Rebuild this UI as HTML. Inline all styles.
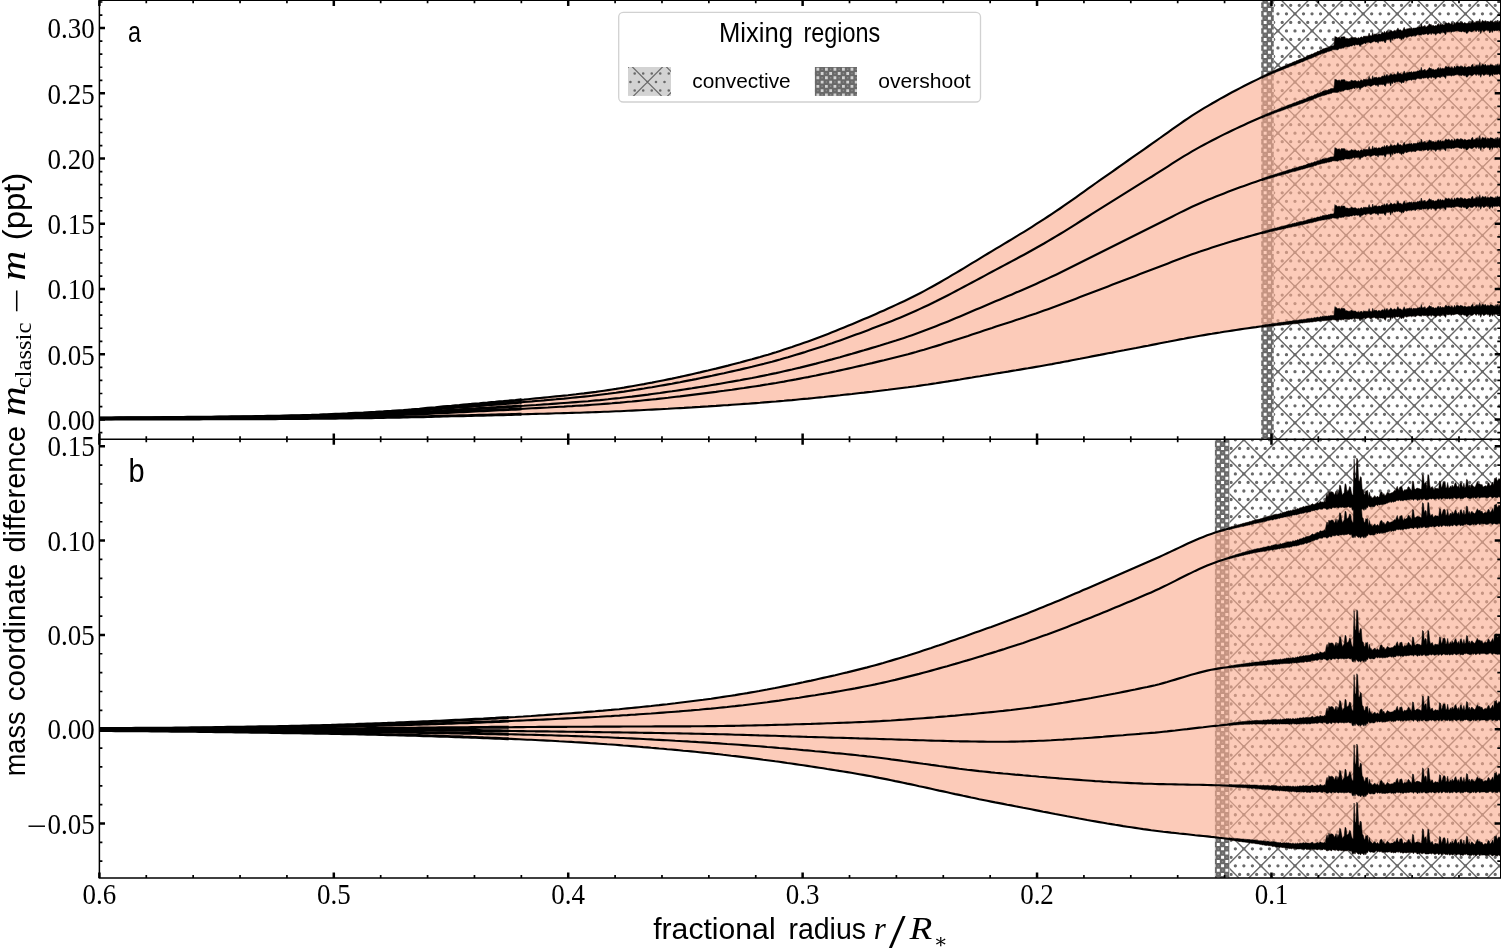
<!DOCTYPE html>
<html lang="en"><head><meta charset="utf-8"><title>Mixing regions</title>
<style>html,body{margin:0;padding:0;background:#fff}svg{display:block}</style></head>
<body>
<svg width="1501" height="948" viewBox="0 0 1501 948">
<defs>
<clipPath id="ct"><rect x="99.4" y="0.3" width="1400.8999999999999" height="438.9"/></clipPath>
<clipPath id="cb"><rect x="99.4" y="439.2" width="1400.8999999999999" height="438.90000000000003"/></clipPath>
</defs>
<rect width="1501" height="948" fill="#fff"/>
<clipPath id="ot"><rect x="1261.1" y="0.3" width="12.8" height="438.9"/></clipPath>
<g clip-path="url(#ot)">
<rect x="1261.1" y="0.3" width="12.8" height="438.9" fill="#696969"/>
<path d="M1250.89,-7.43H1283.9M1246.63,-3.17H1283.9M1250.89,1.09H1283.9M1246.63,5.35H1283.9M1250.89,9.61H1283.9M1246.63,13.87H1283.9M1250.89,18.13H1283.9M1246.63,22.39H1283.9M1250.89,26.65H1283.9M1246.63,30.91H1283.9M1250.89,35.17H1283.9M1246.63,39.43H1283.9M1250.89,43.69H1283.9M1246.63,47.95H1283.9M1250.89,52.21H1283.9M1246.63,56.47H1283.9M1250.89,60.73H1283.9M1246.63,64.99H1283.9M1250.89,69.25H1283.9M1246.63,73.51H1283.9M1250.89,77.77H1283.9M1246.63,82.03H1283.9M1250.89,86.29H1283.9M1246.63,90.55H1283.9M1250.89,94.81H1283.9M1246.63,99.07H1283.9M1250.89,103.33H1283.9M1246.63,107.59H1283.9M1250.89,111.85H1283.9M1246.63,116.11H1283.9M1250.89,120.37H1283.9M1246.63,124.63H1283.9M1250.89,128.89H1283.9M1246.63,133.15H1283.9M1250.89,137.41H1283.9M1246.63,141.67H1283.9M1250.89,145.93H1283.9M1246.63,150.19H1283.9M1250.89,154.45H1283.9M1246.63,158.71H1283.9M1250.89,162.97H1283.9M1246.63,167.23H1283.9M1250.89,171.49H1283.9M1246.63,175.75H1283.9M1250.89,180.01H1283.9M1246.63,184.27H1283.9M1250.89,188.53H1283.9M1246.63,192.79H1283.9M1250.89,197.05H1283.9M1246.63,201.31H1283.9M1250.89,205.57H1283.9M1246.63,209.83H1283.9M1250.89,214.09H1283.9M1246.63,218.35H1283.9M1250.89,222.61H1283.9M1246.63,226.87H1283.9M1250.89,231.13H1283.9M1246.63,235.39H1283.9M1250.89,239.65H1283.9M1246.63,243.91H1283.9M1250.89,248.17H1283.9M1246.63,252.43H1283.9M1250.89,256.69H1283.9M1246.63,260.95H1283.9M1250.89,265.21H1283.9M1246.63,269.47H1283.9M1250.89,273.73H1283.9M1246.63,277.99H1283.9M1250.89,282.25H1283.9M1246.63,286.51H1283.9M1250.89,290.77H1283.9M1246.63,295.03H1283.9M1250.89,299.29H1283.9M1246.63,303.55H1283.9M1250.89,307.81H1283.9M1246.63,312.07H1283.9M1250.89,316.33H1283.9M1246.63,320.59H1283.9M1250.89,324.85H1283.9M1246.63,329.11H1283.9M1250.89,333.37H1283.9M1246.63,337.63H1283.9M1250.89,341.89H1283.9M1246.63,346.15H1283.9M1250.89,350.41H1283.9M1246.63,354.67H1283.9M1250.89,358.93H1283.9M1246.63,363.19H1283.9M1250.89,367.45H1283.9M1246.63,371.71H1283.9M1250.89,375.97H1283.9M1246.63,380.23H1283.9M1250.89,384.49H1283.9M1246.63,388.75H1283.9M1250.89,393.01H1283.9M1246.63,397.27H1283.9M1250.89,401.53H1283.9M1246.63,405.79H1283.9M1250.89,410.05H1283.9M1246.63,414.31H1283.9M1250.89,418.57H1283.9M1246.63,422.83H1283.9M1250.89,427.09H1283.9M1246.63,431.35H1283.9M1250.89,435.61H1283.9M1246.63,439.87H1283.9M1250.89,444.13H1283.9" stroke="#fff" stroke-width="3.0" stroke-dasharray="3.0 5.52" fill="none"/>
<path d="M1247.43,-7.43H1283.9M1251.69,-3.17H1283.9M1247.43,1.09H1283.9M1251.69,5.35H1283.9M1247.43,9.61H1283.9M1251.69,13.87H1283.9M1247.43,18.13H1283.9M1251.69,22.39H1283.9M1247.43,26.65H1283.9M1251.69,30.91H1283.9M1247.43,35.17H1283.9M1251.69,39.43H1283.9M1247.43,43.69H1283.9M1251.69,47.95H1283.9M1247.43,52.21H1283.9M1251.69,56.47H1283.9M1247.43,60.73H1283.9M1251.69,64.99H1283.9M1247.43,69.25H1283.9M1251.69,73.51H1283.9M1247.43,77.77H1283.9M1251.69,82.03H1283.9M1247.43,86.29H1283.9M1251.69,90.55H1283.9M1247.43,94.81H1283.9M1251.69,99.07H1283.9M1247.43,103.33H1283.9M1251.69,107.59H1283.9M1247.43,111.85H1283.9M1251.69,116.11H1283.9M1247.43,120.37H1283.9M1251.69,124.63H1283.9M1247.43,128.89H1283.9M1251.69,133.15H1283.9M1247.43,137.41H1283.9M1251.69,141.67H1283.9M1247.43,145.93H1283.9M1251.69,150.19H1283.9M1247.43,154.45H1283.9M1251.69,158.71H1283.9M1247.43,162.97H1283.9M1251.69,167.23H1283.9M1247.43,171.49H1283.9M1251.69,175.75H1283.9M1247.43,180.01H1283.9M1251.69,184.27H1283.9M1247.43,188.53H1283.9M1251.69,192.79H1283.9M1247.43,197.05H1283.9M1251.69,201.31H1283.9M1247.43,205.57H1283.9M1251.69,209.83H1283.9M1247.43,214.09H1283.9M1251.69,218.35H1283.9M1247.43,222.61H1283.9M1251.69,226.87H1283.9M1247.43,231.13H1283.9M1251.69,235.39H1283.9M1247.43,239.65H1283.9M1251.69,243.91H1283.9M1247.43,248.17H1283.9M1251.69,252.43H1283.9M1247.43,256.69H1283.9M1251.69,260.95H1283.9M1247.43,265.21H1283.9M1251.69,269.47H1283.9M1247.43,273.73H1283.9M1251.69,277.99H1283.9M1247.43,282.25H1283.9M1251.69,286.51H1283.9M1247.43,290.77H1283.9M1251.69,295.03H1283.9M1247.43,299.29H1283.9M1251.69,303.55H1283.9M1247.43,307.81H1283.9M1251.69,312.07H1283.9M1247.43,316.33H1283.9M1251.69,320.59H1283.9M1247.43,324.85H1283.9M1251.69,329.11H1283.9M1247.43,333.37H1283.9M1251.69,337.63H1283.9M1247.43,341.89H1283.9M1251.69,346.15H1283.9M1247.43,350.41H1283.9M1251.69,354.67H1283.9M1247.43,358.93H1283.9M1251.69,363.19H1283.9M1247.43,367.45H1283.9M1251.69,371.71H1283.9M1247.43,375.97H1283.9M1251.69,380.23H1283.9M1247.43,384.49H1283.9M1251.69,388.75H1283.9M1247.43,393.01H1283.9M1251.69,397.27H1283.9M1247.43,401.53H1283.9M1251.69,405.79H1283.9M1247.43,410.05H1283.9M1251.69,414.31H1283.9M1247.43,418.57H1283.9M1251.69,422.83H1283.9M1247.43,427.09H1283.9M1251.69,431.35H1283.9M1247.43,435.61H1283.9M1251.69,439.87H1283.9M1247.43,444.13H1283.9" stroke="#fff" stroke-opacity="0.22" stroke-width="1.4" stroke-dasharray="1.4 7.119999999999999" fill="none"/>
</g>
<clipPath id="ht"><rect x="1273.9" y="0.3" width="226.4" height="438.9"/></clipPath>
<g clip-path="url(#ht)" stroke="#696969" fill="none">
<path d="M1265.17,-11.69H1510.3M1260.91,-3.17H1510.3M1265.17,5.35H1510.3M1260.91,13.87H1510.3M1265.17,22.39H1510.3M1260.91,30.91H1510.3M1265.17,39.43H1510.3M1260.91,47.95H1510.3M1265.17,56.47H1510.3M1260.91,64.99H1510.3M1265.17,73.51H1510.3M1260.91,82.03H1510.3M1265.17,90.55H1510.3M1260.91,99.07H1510.3M1265.17,107.59H1510.3M1260.91,116.11H1510.3M1265.17,124.63H1510.3M1260.91,133.15H1510.3M1265.17,141.67H1510.3M1260.91,150.19H1510.3M1265.17,158.71H1510.3M1260.91,167.23H1510.3M1265.17,175.75H1510.3M1260.91,184.27H1510.3M1265.17,192.79H1510.3M1260.91,201.31H1510.3M1265.17,209.83H1510.3M1260.91,218.35H1510.3M1265.17,226.87H1510.3M1260.91,235.39H1510.3M1265.17,243.91H1510.3M1260.91,252.43H1510.3M1265.17,260.95H1510.3M1260.91,269.47H1510.3M1265.17,277.99H1510.3M1260.91,286.51H1510.3M1265.17,295.03H1510.3M1260.91,303.55H1510.3M1265.17,312.07H1510.3M1260.91,320.59H1510.3M1265.17,329.11H1510.3M1260.91,337.63H1510.3M1265.17,346.15H1510.3M1260.91,354.67H1510.3M1265.17,363.19H1510.3M1260.91,371.71H1510.3M1265.17,380.23H1510.3M1260.91,388.75H1510.3M1265.17,397.27H1510.3M1260.91,405.79H1510.3M1265.17,414.31H1510.3M1260.91,422.83H1510.3M1265.17,431.35H1510.3M1260.91,439.87H1510.3M1265.17,448.39H1510.3" stroke-width="3.3" stroke-linecap="round" stroke-dasharray="0 8.52"/>
<path d="M1268.9,-284.86L1505.3,-48.46M1268.9,-250.78L1505.3,-14.38M1268.9,-216.70L1505.3,19.70M1268.9,-182.62L1505.3,53.78M1268.9,-148.54L1505.3,87.86M1268.9,-114.46L1505.3,121.94M1268.9,-80.38L1505.3,156.02M1268.9,-46.30L1505.3,190.10M1268.9,-12.22L1505.3,224.18M1268.9,21.86L1505.3,258.26M1268.9,55.94L1505.3,292.34M1268.9,90.02L1505.3,326.42M1268.9,124.10L1505.3,360.50M1268.9,158.18L1505.3,394.58M1268.9,192.26L1505.3,428.66M1268.9,226.34L1505.3,462.74M1268.9,260.42L1505.3,496.82M1268.9,294.50L1505.3,530.90M1268.9,328.58L1505.3,564.98M1268.9,362.66L1505.3,599.06M1268.9,396.74L1505.3,633.14M1268.9,430.82L1505.3,667.22M1268.9,464.90L1505.3,701.30M1268.9,498.98L1505.3,735.38M1268.9,-62.28L1505.3,-298.68M1268.9,-28.20L1505.3,-264.60M1268.9,5.88L1505.3,-230.52M1268.9,39.96L1505.3,-196.44M1268.9,74.04L1505.3,-162.36M1268.9,108.12L1505.3,-128.28M1268.9,142.20L1505.3,-94.20M1268.9,176.28L1505.3,-60.12M1268.9,210.36L1505.3,-26.04M1268.9,244.44L1505.3,8.04M1268.9,278.52L1505.3,42.12M1268.9,312.60L1505.3,76.20M1268.9,346.68L1505.3,110.28M1268.9,380.76L1505.3,144.36M1268.9,414.84L1505.3,178.44M1268.9,448.92L1505.3,212.52M1268.9,483.00L1505.3,246.60M1268.9,517.08L1505.3,280.68M1268.9,551.16L1505.3,314.76M1268.9,585.24L1505.3,348.84M1268.9,619.32L1505.3,382.92M1268.9,653.40L1505.3,417.00M1268.9,687.48L1505.3,451.08M1268.9,721.56L1505.3,485.16" stroke-width="1.4"/>
</g>
<g clip-path="url(#ct)">
<path d="M99.4,417.9 L103.4,417.9 L107.4,417.9 L111.4,417.9 L115.4,417.8 L119.4,417.8 L123.4,417.8 L127.4,417.8 L131.4,417.8 L135.4,417.7 L139.4,417.7 L143.4,417.7 L147.4,417.7 L151.4,417.6 L155.4,417.6 L159.4,417.6 L163.4,417.5 L167.4,417.5 L171.4,417.5 L175.4,417.4 L179.4,417.4 L183.4,417.4 L187.4,417.3 L191.4,417.3 L195.4,417.2 L199.4,417.2 L203.4,417.2 L207.4,417.1 L211.4,417.1 L215.4,417 L219.4,417 L223.4,416.9 L227.4,416.9 L231.4,416.8 L235.4,416.8 L239.4,416.7 L243.4,416.7 L247.4,416.6 L251.4,416.6 L255.4,416.5 L259.4,416.4 L263.4,416.4 L267.4,416.3 L271.4,416.2 L275.4,416.1 L279.4,416.1 L283.4,416 L287.4,415.9 L291.4,415.8 L295.4,415.7 L299.4,415.6 L303.4,415.5 L307.4,415.4 L311.4,415.3 L315.4,415.1 L319.4,415 L323.4,414.8 L327.4,414.7 L331.4,414.5 L335.4,414.3 L339.4,414.2 L343.4,414 L347.4,413.8 L351.4,413.5 L355.4,413.3 L359.4,413.1 L363.4,412.9 L367.4,412.6 L371.4,412.4 L375.4,412.2 L379.4,411.9 L383.4,411.7 L387.4,411.4 L391.4,411.2 L395.4,410.9 L399.4,410.6 L403.4,410.4 L407.4,410.1 L411.4,409.8 L415.4,409.4 L419.4,409.1 L423.4,408.7 L427.4,408.3 L431.4,407.9 L435.4,407.6 L439.4,407.2 L443.4,406.8 L447.4,406.4 L451.4,406.1 L455.4,405.7 L459.4,405.4 L463.4,405 L467.4,404.6 L471.4,404.3 L475.4,403.9 L479.4,403.6 L483.4,403.2 L487.4,402.9 L491.4,402.5 L495.4,402.2 L499.4,401.8 L503.4,401.5 L507.4,401.1 L511.4,400.7 L515.4,400.4 L519.4,400 L521.5,399.8 L524,399.6 L528,399.2 L532,398.8 L536,398.4 L540,398 L544,397.6 L548,397.2 L552,396.8 L556,396.4 L560,396 L564,395.6 L568,395.2 L572,394.7 L576,394.3 L580,393.8 L584,393.4 L588,392.9 L592,392.4 L596,391.9 L600,391.3 L604,390.7 L608,390.1 L612,389.5 L616,388.9 L620,388.2 L624,387.6 L628,386.9 L632,386.2 L636,385.5 L640,384.8 L644,384.1 L648,383.3 L652,382.6 L656,381.8 L660,381 L664,380.2 L668,379.4 L672,378.6 L676,377.7 L680,376.9 L684,376 L688,375.1 L692,374.2 L696,373.3 L700,372.4 L704,371.4 L708,370.5 L712,369.5 L716,368.6 L720,367.6 L724,366.6 L728,365.6 L732,364.5 L736,363.5 L740,362.5 L744,361.4 L748,360.3 L752,359.3 L756,358.1 L760,357 L764,355.8 L768,354.7 L772,353.4 L776,352.2 L780,350.9 L784,349.6 L788,348.3 L792,347 L796,345.6 L800,344.2 L804,342.8 L808,341.4 L812,339.9 L816,338.4 L820,336.9 L824,335.4 L828,333.9 L832,332.3 L836,330.7 L840,329.1 L844,327.5 L848,325.8 L852,324.2 L856,322.5 L860,320.8 L864,319.1 L868,317.4 L872,315.7 L876,313.9 L880,312.1 L884,310.4 L888,308.6 L892,306.8 L896,304.9 L900,303.1 L904,301.2 L908,299.3 L912,297.3 L916,295.3 L920,293.2 L924,291.1 L928,288.9 L932,286.7 L936,284.5 L940,282.2 L944,279.9 L948,277.6 L952,275.2 L956,272.9 L960,270.5 L964,268.1 L968,265.7 L972,263.2 L976,260.8 L980,258.4 L984,255.9 L988,253.5 L992,251.1 L996,248.7 L1000,246.3 L1004,243.9 L1008,241.5 L1012,239.1 L1016,236.7 L1020,234.2 L1024,231.8 L1028,229.3 L1032,226.8 L1036,224.2 L1040,221.7 L1044,219.1 L1048,216.5 L1052,213.9 L1056,211.2 L1060,208.5 L1064,205.7 L1068,202.9 L1072,200.1 L1076,197.3 L1080,194.4 L1084,191.6 L1088,188.7 L1092,185.9 L1096,183 L1100,180.2 L1104,177.4 L1108,174.6 L1112,171.8 L1116,169 L1120,166.1 L1124,163.3 L1128,160.5 L1132,157.7 L1136,154.9 L1140,152.1 L1144,149.3 L1148,146.5 L1152,143.7 L1156,140.9 L1160,138 L1164,135.2 L1168,132.3 L1172,129.4 L1176,126.6 L1180,123.8 L1184,121 L1188,118.3 L1192,115.6 L1196,113.1 L1200,110.6 L1204,108.2 L1208,105.8 L1212,103.5 L1216,101.2 L1220,98.9 L1224,96.7 L1228,94.5 L1232,92.3 L1236,90.2 L1240,88.1 L1244,86 L1248,84 L1252,82 L1256,80.1 L1260,78.1 L1262,76.1 L1262.9,75.7 L1263.8,75.3 L1264.7,74.8 L1265.6,74.4 L1266.5,74 L1267.4,73.6 L1268.3,73.1 L1269.2,72.7 L1270.1,72.3 L1271,71.9 L1271.9,71.5 L1272.8,71.1 L1273.7,70.7 L1274.6,70.2 L1275.5,69.9 L1276.4,69.5 L1277.3,69 L1278.2,68.7 L1279.1,68.2 L1280,67.9 L1280.9,67.5 L1281.8,67.1 L1282.7,66.8 L1283.6,66.3 L1284.5,66 L1285.4,65.7 L1286.3,65.2 L1287.2,64.7 L1288.1,64.3 L1289,64 L1289.9,63.6 L1290.8,63.3 L1291.7,62.9 L1292.6,62.3 L1293.5,62 L1294.4,61.6 L1295.3,61.5 L1296.2,60.8 L1297.1,60.6 L1298,60.3 L1298.9,59.8 L1299.8,59.3 L1300.7,59 L1301.6,58.7 L1302.5,58.5 L1303.4,57.9 L1304.3,57.6 L1305.2,57.3 L1306.1,56.9 L1307,56 L1307.9,55.9 L1308.8,55.3 L1309.7,55 L1310.6,54.8 L1311.5,54.1 L1312.4,54.1 L1313.3,53.8 L1314.2,52.9 L1315.1,52.7 L1316,52.6 L1316.9,51.7 L1317.8,51.3 L1318.7,51.3 L1319.6,50.9 L1320.5,50 L1321.4,50 L1322.3,49.2 L1323.2,48.8 L1324.1,48.8 L1325,48.3 L1325.9,48.1 L1326.8,47.8 L1327.7,47.7 L1328.6,47 L1329.5,46.9 L1330.4,46.3 L1331.3,46 L1332.2,45.9 L1333.1,45.8 L1334,45.5 L1334.9,36.3 L1335.8,37.1 L1336.7,37.1 L1337.6,38 L1338.5,37.6 L1339.4,37.2 L1340.3,38.8 L1341.2,36.9 L1342.1,37.1 L1343,36.7 L1343.9,36.8 L1344.8,36.8 L1345.7,38.8 L1346.6,38.3 L1347.5,38.5 L1348.4,38.8 L1349.3,38.5 L1350.2,38.8 L1351.1,37.2 L1352,37.4 L1352.9,37.8 L1353.8,37.8 L1354.7,37.5 L1355.6,37.4 L1356.5,38.1 L1357.4,38.4 L1358.3,37.4 L1359.2,38.5 L1360.1,37.5 L1361,37.2 L1361.9,36.8 L1362.8,38 L1363.7,36 L1364.6,36.3 L1365.5,36.2 L1366.4,36.2 L1367.3,36.2 L1368.2,36.3 L1369.1,33.1 L1370,36 L1370.9,35.5 L1371.8,36.1 L1372.7,32.4 L1373.6,35.5 L1374.5,33.9 L1375.4,34.2 L1376.3,33.7 L1377.2,34.9 L1378.1,34.2 L1379,33.8 L1379.9,34 L1380.8,34.3 L1381.7,33 L1382.6,32.6 L1383.5,33.2 L1384.4,31.3 L1385.3,33.2 L1386.2,31.8 L1387.1,30.7 L1388,33 L1388.9,31.8 L1389.8,32 L1390.7,29.9 L1391.6,30.7 L1392.5,31.5 L1393.4,31.2 L1394.3,30.4 L1395.2,30.6 L1396.1,31.4 L1397,29.9 L1397.9,27.9 L1398.8,29.8 L1399.7,30 L1400.6,29.8 L1401.5,30.7 L1402.4,31 L1403.3,29.3 L1404.2,27.3 L1405.1,29.4 L1406,30 L1406.9,28.6 L1407.8,29.1 L1408.7,28.6 L1409.6,28.2 L1410.5,28.6 L1411.4,27.7 L1412.3,29.4 L1413.2,28 L1414.1,28.2 L1415,28 L1415.9,28 L1416.8,27.9 L1417.7,27 L1418.6,27.3 L1419.5,26.4 L1420.4,27.3 L1421.3,23.5 L1422.2,26.9 L1423.1,26.3 L1424,26.6 L1424.9,25.3 L1425.8,27.3 L1426.7,26.8 L1427.6,26 L1428.5,25.2 L1429.4,23.7 L1430.3,24.7 L1431.2,24.4 L1432.1,26.2 L1433,25 L1433.9,26 L1434.8,26.1 L1435.7,25.6 L1436.6,26 L1437.5,24.4 L1438.4,23.5 L1439.3,25.7 L1440.2,23.5 L1441.1,25.1 L1442,24.8 L1442.9,24.4 L1443.8,24.9 L1444.7,24.6 L1445.6,22.5 L1446.5,23 L1447.4,23.5 L1448.3,22.8 L1449.2,23 L1450.1,23.8 L1451,24.2 L1451.9,22.5 L1452.8,24.4 L1453.7,24.4 L1454.6,22.2 L1455.5,24.3 L1456.4,22.4 L1457.3,22.1 L1458.2,22.4 L1459.1,23 L1460,22.9 L1460.9,21.7 L1461.8,22.6 L1462.7,22.6 L1463.6,23.6 L1464.5,22.5 L1465.4,22.9 L1466.3,23.6 L1467.2,23.3 L1468.1,23.2 L1469,22.4 L1469.9,23.3 L1470.8,23.3 L1471.7,21.3 L1472.6,20.4 L1473.5,23.1 L1474.4,22.7 L1475.3,22.7 L1476.2,20.9 L1477.1,22.6 L1478,20.7 L1478.9,22.8 L1479.8,18.9 L1480.7,23 L1481.6,21.8 L1482.5,20.3 L1483.4,20.9 L1484.3,21.8 L1485.2,20.4 L1486.1,21.6 L1487,22.5 L1487.9,21 L1488.8,22.1 L1489.7,21.9 L1490.6,20.7 L1491.5,21.2 L1492.4,21.1 L1493.3,22.2 L1494.2,21.9 L1495.1,22.6 L1496,20.6 L1496.9,22.4 L1497.8,20 L1498.7,22.6 L1499.6,20.8 L1500.5,22.5 L1501.4,20.1 L1501.4,316.4 L1500.5,314.8 L1499.6,314.8 L1498.7,314 L1497.8,314.4 L1496.9,314.7 L1496,314.1 L1495.1,314.5 L1494.2,314.7 L1493.3,314 L1492.4,316.3 L1491.5,314 L1490.6,315.6 L1489.7,316.9 L1488.8,314.1 L1487.9,315.2 L1487,313.7 L1486.1,314.4 L1485.2,314.4 L1484.3,315.5 L1483.4,315.4 L1482.5,313.9 L1481.6,314.7 L1480.7,317.3 L1479.8,313.8 L1478.9,315.6 L1478,313.9 L1477.1,313.9 L1476.2,315.5 L1475.3,314.5 L1474.4,313.7 L1473.5,314.6 L1472.6,315.2 L1471.7,315.4 L1470.8,315.3 L1469.9,314.4 L1469,314.8 L1468.1,315.8 L1467.2,316.8 L1466.3,316.6 L1465.4,314.9 L1464.5,315.3 L1463.6,315 L1462.7,314.2 L1461.8,315.3 L1460.9,315 L1460,314.7 L1459.1,314.8 L1458.2,314.1 L1457.3,314 L1456.4,314.1 L1455.5,314.2 L1454.6,314.5 L1453.7,314.9 L1452.8,314.5 L1451.9,314.9 L1451,315.5 L1450.1,314.1 L1449.2,314.8 L1448.3,314.7 L1447.4,314.7 L1446.5,314.3 L1445.6,317.5 L1444.7,316 L1443.8,315.7 L1442.9,314.3 L1442,315.9 L1441.1,314.9 L1440.2,316.8 L1439.3,315.7 L1438.4,315.5 L1437.5,315.6 L1436.6,316 L1435.7,317.6 L1434.8,315.7 L1433.9,316.2 L1433,315.3 L1432.1,315.1 L1431.2,316.6 L1430.3,314.9 L1429.4,315.6 L1428.5,316.1 L1427.6,316.4 L1426.7,315 L1425.8,315.6 L1424.9,315.4 L1424,315.8 L1423.1,315.6 L1422.2,315.1 L1421.3,316.4 L1420.4,316 L1419.5,315.9 L1418.6,315.5 L1417.7,315.3 L1416.8,315.7 L1415.9,316.3 L1415,317 L1414.1,315.6 L1413.2,316.5 L1412.3,316.1 L1411.4,316.8 L1410.5,316.1 L1409.6,316.2 L1408.7,316.3 L1407.8,316.7 L1406.9,316.8 L1406,317.2 L1405.1,315.8 L1404.2,317.3 L1403.3,318.5 L1402.4,317.5 L1401.5,318.9 L1400.6,317.3 L1399.7,317.6 L1398.8,316.5 L1397.9,316.9 L1397,317.1 L1396.1,316.4 L1395.2,317.6 L1394.3,317.5 L1393.4,316.4 L1392.5,318.5 L1391.6,316.7 L1390.7,320.4 L1389.8,317.4 L1388.9,316.9 L1388,317.9 L1387.1,316.7 L1386.2,318.1 L1385.3,320.4 L1384.4,319.3 L1383.5,317.9 L1382.6,318.3 L1381.7,318.1 L1380.8,318.1 L1379.9,318.2 L1379,317.5 L1378.1,319.9 L1377.2,318.2 L1376.3,318.3 L1375.4,318.2 L1374.5,317.3 L1373.6,317.6 L1372.7,317.8 L1371.8,318.4 L1370.9,318.7 L1370,318.7 L1369.1,317.6 L1368.2,317.6 L1367.3,317.7 L1366.4,317.9 L1365.5,318.9 L1364.6,317.8 L1363.7,318.3 L1362.8,318.8 L1361.9,319.2 L1361,319.1 L1360.1,320.9 L1359.2,319.2 L1358.3,318.5 L1357.4,318.8 L1356.5,318.5 L1355.6,318.2 L1354.7,319.4 L1353.8,318.3 L1352.9,318.6 L1352,319.2 L1351.1,319.1 L1350.2,318.9 L1349.3,319.4 L1348.4,319.4 L1347.5,319.4 L1346.6,319.1 L1345.7,318.9 L1344.8,319 L1343.9,319.6 L1343,320 L1342.1,319.3 L1341.2,320.2 L1340.3,319.8 L1339.4,319.6 L1338.5,320.2 L1337.6,320.6 L1336.7,320.3 L1335.8,320.2 L1334.9,319.8 L1334,320 L1333.1,319.5 L1332.2,319.8 L1331.3,320.2 L1330.4,320.1 L1329.5,320.3 L1328.6,320.4 L1327.7,320.2 L1326.8,320.6 L1325.9,320.6 L1325,320.5 L1324.1,320.8 L1323.2,320.7 L1322.3,320.7 L1321.4,320.7 L1320.5,321 L1319.6,320.9 L1318.7,321.1 L1317.8,321.1 L1316.9,321.3 L1316,321.5 L1315.1,321.7 L1314.2,321.4 L1313.3,321.8 L1312.4,322 L1311.5,322.1 L1310.6,322 L1309.7,322.2 L1308.8,322.2 L1307.9,322.3 L1307,322.5 L1306.1,322.4 L1305.2,322.6 L1304.3,322.8 L1303.4,322.8 L1302.5,323.1 L1301.6,322.9 L1300.7,323.1 L1299.8,323.3 L1298.9,323.2 L1298,323.5 L1297.1,323.4 L1296.2,323.7 L1295.3,323.8 L1294.4,323.8 L1293.5,323.8 L1292.6,323.9 L1291.7,323.9 L1290.8,324.1 L1289.9,324.1 L1289,324.4 L1288.1,324.5 L1287.2,324.5 L1286.3,324.5 L1285.4,324.7 L1284.5,324.8 L1283.6,325 L1282.7,325 L1281.8,325.1 L1280.9,325.3 L1280,325.4 L1279.1,325.3 L1278.2,325.4 L1277.3,325.5 L1276.4,325.6 L1275.5,325.7 L1274.6,325.9 L1273.7,326 L1272.8,326.1 L1271.9,326.1 L1271,326.2 L1270.1,326.4 L1269.2,326.5 L1268.3,326.6 L1267.4,326.7 L1266.5,326.8 L1265.6,326.9 L1264.7,327 L1263.8,327.1 L1262.9,327.2 L1262,327.3 L1260,326.5 L1256,327.1 L1252,327.6 L1248,328.2 L1244,328.8 L1240,329.4 L1236,330 L1232,330.6 L1228,331.2 L1224,331.8 L1220,332.5 L1216,333.1 L1212,333.8 L1208,334.4 L1204,335.1 L1200,335.8 L1196,336.5 L1192,337.2 L1188,337.9 L1184,338.7 L1180,339.4 L1176,340.2 L1172,341 L1168,341.8 L1164,342.5 L1160,343.3 L1156,344.1 L1152,344.9 L1148,345.7 L1144,346.4 L1140,347.2 L1136,348 L1132,348.7 L1128,349.5 L1124,350.3 L1120,351 L1116,351.8 L1112,352.6 L1108,353.3 L1104,354.1 L1100,354.9 L1096,355.6 L1092,356.4 L1088,357.2 L1084,358 L1080,358.8 L1076,359.5 L1072,360.3 L1068,361.1 L1064,361.8 L1060,362.6 L1056,363.3 L1052,364.1 L1048,364.8 L1044,365.5 L1040,366.2 L1036,366.9 L1032,367.6 L1028,368.3 L1024,368.9 L1020,369.6 L1016,370.3 L1012,370.9 L1008,371.6 L1004,372.2 L1000,372.9 L996,373.5 L992,374.2 L988,374.9 L984,375.5 L980,376.2 L976,376.8 L972,377.5 L968,378.1 L964,378.8 L960,379.5 L956,380.1 L952,380.7 L948,381.4 L944,382 L940,382.6 L936,383.3 L932,383.9 L928,384.5 L924,385 L920,385.6 L916,386.2 L912,386.7 L908,387.3 L904,387.8 L900,388.3 L896,388.8 L892,389.3 L888,389.8 L884,390.2 L880,390.7 L876,391.2 L872,391.7 L868,392.1 L864,392.6 L860,393 L856,393.5 L852,394 L848,394.4 L844,394.8 L840,395.3 L836,395.7 L832,396.1 L828,396.5 L824,397 L820,397.4 L816,397.8 L812,398.2 L808,398.6 L804,398.9 L800,399.3 L796,399.7 L792,400.1 L788,400.4 L784,400.8 L780,401.1 L776,401.5 L772,401.8 L768,402.1 L764,402.4 L760,402.8 L756,403.1 L752,403.4 L748,403.7 L744,403.9 L740,404.2 L736,404.5 L732,404.8 L728,405.1 L724,405.3 L720,405.6 L716,405.9 L712,406.1 L708,406.4 L704,406.6 L700,406.9 L696,407.1 L692,407.4 L688,407.6 L684,407.9 L680,408.1 L676,408.3 L672,408.5 L668,408.8 L664,409 L660,409.2 L656,409.4 L652,409.6 L648,409.8 L644,410 L640,410.2 L636,410.4 L632,410.6 L628,410.8 L624,411 L620,411.2 L616,411.3 L612,411.5 L608,411.7 L604,411.8 L600,412 L596,412.1 L592,412.3 L588,412.4 L584,412.5 L580,412.7 L576,412.8 L572,412.9 L568,413 L564,413.1 L560,413.2 L556,413.3 L552,413.5 L548,413.6 L544,413.7 L540,413.8 L536,413.9 L532,414 L528,414.1 L524,414.2 L521.5,414.3 L519.4,414.3 L515.4,414.4 L511.4,414.5 L507.4,414.6 L503.4,414.7 L499.4,414.8 L495.4,414.9 L491.4,415 L487.4,415.1 L483.4,415.2 L479.4,415.3 L475.4,415.4 L471.4,415.5 L467.4,415.6 L463.4,415.7 L459.4,415.8 L455.4,415.9 L451.4,415.9 L447.4,416 L443.4,416.1 L439.4,416.2 L435.4,416.4 L431.4,416.5 L427.4,416.6 L423.4,416.7 L419.4,416.8 L415.4,416.8 L411.4,416.9 L407.4,417 L403.4,417.1 L399.4,417.2 L395.4,417.3 L391.4,417.3 L387.4,417.4 L383.4,417.5 L379.4,417.5 L375.4,417.6 L371.4,417.7 L367.4,417.7 L363.4,417.8 L359.4,417.8 L355.4,417.9 L351.4,418 L347.4,418 L343.4,418.1 L339.4,418.1 L335.4,418.2 L331.4,418.2 L327.4,418.3 L323.4,418.3 L319.4,418.4 L315.4,418.4 L311.4,418.4 L307.4,418.5 L303.4,418.5 L299.4,418.5 L295.4,418.5 L291.4,418.6 L287.4,418.6 L283.4,418.6 L279.4,418.6 L275.4,418.7 L271.4,418.7 L267.4,418.7 L263.4,418.7 L259.4,418.7 L255.4,418.8 L251.4,418.8 L247.4,418.8 L243.4,418.8 L239.4,418.8 L235.4,418.8 L231.4,418.9 L227.4,418.9 L223.4,418.9 L219.4,418.9 L215.4,418.9 L211.4,418.9 L207.4,418.9 L203.4,418.9 L199.4,419 L195.4,419 L191.4,419 L187.4,419 L183.4,419 L179.4,419 L175.4,419 L171.4,419 L167.4,419 L163.4,419 L159.4,419 L155.4,419.1 L151.4,419.1 L147.4,419.1 L143.4,419.1 L139.4,419.1 L135.4,419.1 L131.4,419.1 L127.4,419.1 L123.4,419.1 L119.4,419.1 L115.4,419.1 L111.4,419.1 L107.4,419.1 L103.4,419.1 L99.4,419.1Z" fill="#faac90" fill-opacity="0.63" stroke="none"/>
<path d="M99.4,417.9 L103.4,417.9 L107.4,417.9 L111.4,417.9 L115.4,417.8 L119.4,417.8 L123.4,417.8 L127.4,417.8 L131.4,417.8 L135.4,417.7 L139.4,417.7 L143.4,417.7 L147.4,417.7 L151.4,417.6 L155.4,417.6 L159.4,417.6 L163.4,417.5 L167.4,417.5 L171.4,417.5 L175.4,417.4 L179.4,417.4 L183.4,417.4 L187.4,417.3 L191.4,417.3 L195.4,417.2 L199.4,417.2 L203.4,417.2 L207.4,417.1 L211.4,417.1 L215.4,417 L219.4,417 L223.4,416.9 L227.4,416.9 L231.4,416.8 L235.4,416.8 L239.4,416.7 L243.4,416.7 L247.4,416.6 L251.4,416.6 L255.4,416.5 L259.4,416.4 L263.4,416.4 L267.4,416.3 L271.4,416.2 L275.4,416.1 L279.4,416.1 L283.4,416 L287.4,415.9 L291.4,415.8 L295.4,415.7 L299.4,415.6 L303.4,415.5 L307.4,415.4 L311.4,415.3 L315.4,415.1 L319.4,415 L323.4,414.8 L327.4,414.7 L331.4,414.5 L335.4,414.3 L339.4,414.2 L343.4,414 L347.4,413.8 L351.4,413.5 L355.4,413.3 L359.4,413.1 L363.4,412.9 L367.4,412.6 L371.4,412.4 L375.4,412.2 L379.4,411.9 L383.4,411.7 L387.4,411.4 L391.4,411.2 L395.4,410.9 L399.4,410.6 L403.4,410.4 L407.4,410.1 L411.4,409.8 L415.4,409.4 L419.4,409.1 L423.4,408.7 L427.4,408.3 L431.4,407.9 L435.4,407.6 L439.4,407.2 L443.4,406.8 L447.4,406.4 L451.4,406.1 L455.4,405.7 L459.4,405.4 L463.4,405 L467.4,404.6 L471.4,404.3 L475.4,403.9 L479.4,403.6 L483.4,403.2 L487.4,402.9 L491.4,402.5 L495.4,402.2 L499.4,401.8 L503.4,401.5 L507.4,401.1 L511.4,400.7 L515.4,400.4 L519.4,400 L521.5,399.8" fill="none" stroke="#000" stroke-width="2.9" stroke-linejoin="round"/>
<path d="M520,399.9 L524,399.6 L528,399.2 L532,398.8 L536,398.4 L540,398 L544,397.6 L548,397.2 L552,396.8 L556,396.4 L560,396 L564,395.6 L568,395.2 L572,394.7 L576,394.3 L580,393.8 L584,393.4 L588,392.9 L592,392.4 L596,391.9 L600,391.3 L604,390.7 L608,390.1 L612,389.5 L616,388.9 L620,388.2 L624,387.6 L628,386.9 L632,386.2 L636,385.5 L640,384.8 L644,384.1 L648,383.3 L652,382.6 L656,381.8 L660,381 L664,380.2 L668,379.4 L672,378.6 L676,377.7 L680,376.9 L684,376 L688,375.1 L692,374.2 L696,373.3 L700,372.4 L704,371.4 L708,370.5 L712,369.5 L716,368.6 L720,367.6 L724,366.6 L728,365.6 L732,364.5 L736,363.5 L740,362.5 L744,361.4 L748,360.3 L752,359.3 L756,358.1 L760,357 L764,355.8 L768,354.7 L772,353.4 L776,352.2 L780,350.9 L784,349.6 L788,348.3 L792,347 L796,345.6 L800,344.2 L804,342.8 L808,341.4 L812,339.9 L816,338.4 L820,336.9 L824,335.4 L828,333.9 L832,332.3 L836,330.7 L840,329.1 L844,327.5 L848,325.8 L852,324.2 L856,322.5 L860,320.8 L864,319.1 L868,317.4 L872,315.7 L876,313.9 L880,312.1 L884,310.4 L888,308.6 L892,306.8 L896,304.9 L900,303.1 L904,301.2 L908,299.3 L912,297.3 L916,295.3 L920,293.2 L924,291.1 L928,288.9 L932,286.7 L936,284.5 L940,282.2 L944,279.9 L948,277.6 L952,275.2 L956,272.9 L960,270.5 L964,268.1 L968,265.7 L972,263.2 L976,260.8 L980,258.4 L984,255.9 L988,253.5 L992,251.1 L996,248.7 L1000,246.3 L1004,243.9 L1008,241.5 L1012,239.1 L1016,236.7 L1020,234.2 L1024,231.8 L1028,229.3 L1032,226.8 L1036,224.2 L1040,221.7 L1044,219.1 L1048,216.5 L1052,213.9 L1056,211.2 L1060,208.5 L1064,205.7 L1068,202.9 L1072,200.1 L1076,197.3 L1080,194.4 L1084,191.6 L1088,188.7 L1092,185.9 L1096,183 L1100,180.2 L1104,177.4 L1108,174.6 L1112,171.8 L1116,169 L1120,166.1 L1124,163.3 L1128,160.5 L1132,157.7 L1136,154.9 L1140,152.1 L1144,149.3 L1148,146.5 L1152,143.7 L1156,140.9 L1160,138 L1164,135.2 L1168,132.3 L1172,129.4 L1176,126.6 L1180,123.8 L1184,121 L1188,118.3 L1192,115.6 L1196,113.1 L1200,110.6 L1204,108.2 L1208,105.8 L1212,103.5 L1216,101.2 L1220,98.9 L1224,96.7 L1228,94.5 L1232,92.3 L1236,90.2 L1240,88.1 L1244,86 L1248,84 L1252,82 L1256,80.1 L1260,78.1 L1262.5,77" fill="none" stroke="#000" stroke-width="2.15" stroke-linejoin="round"/>
<path d="M1262,76.1 L1262.9,75.7 L1263.8,75.3 L1264.7,74.8 L1265.6,74.4 L1266.5,74 L1267.4,73.6 L1268.3,73.1 L1269.2,72.7 L1270.1,72.3 L1271,71.9 L1271.9,71.5 L1272.8,71.1 L1273.7,70.7 L1274.6,70.2 L1275.5,69.9 L1276.4,69.5 L1277.3,69 L1278.2,68.7 L1279.1,68.2 L1280,67.9 L1280.9,67.5 L1281.8,67.1 L1282.7,66.8 L1283.6,66.3 L1284.5,66 L1285.4,65.7 L1286.3,65.2 L1287.2,64.7 L1288.1,64.3 L1289,64 L1289.9,63.6 L1290.8,63.3 L1291.7,62.9 L1292.6,62.3 L1293.5,62 L1294.4,61.6 L1295.3,61.5 L1296.2,60.8 L1297.1,60.6 L1298,60.3 L1298.9,59.8 L1299.8,59.3 L1300.7,59 L1301.6,58.7 L1302.5,58.5 L1303.4,57.9 L1304.3,57.6 L1305.2,57.3 L1306.1,56.9 L1307,56 L1307.9,55.9 L1308.8,55.3 L1309.7,55 L1310.6,54.8 L1311.5,54.1 L1312.4,54.1 L1313.3,53.8 L1314.2,52.9 L1315.1,52.7 L1316,52.6 L1316.9,51.7 L1317.8,51.3 L1318.7,51.3 L1319.6,50.9 L1320.5,50 L1321.4,50 L1322.3,49.2 L1323.2,48.8 L1324.1,48.8 L1325,48.3 L1325.9,48.1 L1326.8,47.8 L1327.7,47.7 L1328.6,47 L1329.5,46.9 L1330.4,46.3 L1331.3,46 L1332.2,45.9 L1333.1,45.8 L1334,45.5 L1334.9,36.3 L1335.8,37.1 L1336.7,37.1 L1337.6,38 L1338.5,37.6 L1339.4,37.2 L1340.3,38.8 L1341.2,36.9 L1342.1,37.1 L1343,36.7 L1343.9,36.8 L1344.8,36.8 L1345.7,38.8 L1346.6,38.3 L1347.5,38.5 L1348.4,38.8 L1349.3,38.5 L1350.2,38.8 L1351.1,37.2 L1352,37.4 L1352.9,37.8 L1353.8,37.8 L1354.7,37.5 L1355.6,37.4 L1356.5,38.1 L1357.4,38.4 L1358.3,37.4 L1359.2,38.5 L1360.1,37.5 L1361,37.2 L1361.9,36.8 L1362.8,38 L1363.7,36 L1364.6,36.3 L1365.5,36.2 L1366.4,36.2 L1367.3,36.2 L1368.2,36.3 L1369.1,33.1 L1370,36 L1370.9,35.5 L1371.8,36.1 L1372.7,32.4 L1373.6,35.5 L1374.5,33.9 L1375.4,34.2 L1376.3,33.7 L1377.2,34.9 L1378.1,34.2 L1379,33.8 L1379.9,34 L1380.8,34.3 L1381.7,33 L1382.6,32.6 L1383.5,33.2 L1384.4,31.3 L1385.3,33.2 L1386.2,31.8 L1387.1,30.7 L1388,33 L1388.9,31.8 L1389.8,32 L1390.7,29.9 L1391.6,30.7 L1392.5,31.5 L1393.4,31.2 L1394.3,30.4 L1395.2,30.6 L1396.1,31.4 L1397,29.9 L1397.9,27.9 L1398.8,29.8 L1399.7,30 L1400.6,29.8 L1401.5,30.7 L1402.4,31 L1403.3,29.3 L1404.2,27.3 L1405.1,29.4 L1406,30 L1406.9,28.6 L1407.8,29.1 L1408.7,28.6 L1409.6,28.2 L1410.5,28.6 L1411.4,27.7 L1412.3,29.4 L1413.2,28 L1414.1,28.2 L1415,28 L1415.9,28 L1416.8,27.9 L1417.7,27 L1418.6,27.3 L1419.5,26.4 L1420.4,27.3 L1421.3,23.5 L1422.2,26.9 L1423.1,26.3 L1424,26.6 L1424.9,25.3 L1425.8,27.3 L1426.7,26.8 L1427.6,26 L1428.5,25.2 L1429.4,23.7 L1430.3,24.7 L1431.2,24.4 L1432.1,26.2 L1433,25 L1433.9,26 L1434.8,26.1 L1435.7,25.6 L1436.6,26 L1437.5,24.4 L1438.4,23.5 L1439.3,25.7 L1440.2,23.5 L1441.1,25.1 L1442,24.8 L1442.9,24.4 L1443.8,24.9 L1444.7,24.6 L1445.6,22.5 L1446.5,23 L1447.4,23.5 L1448.3,22.8 L1449.2,23 L1450.1,23.8 L1451,24.2 L1451.9,22.5 L1452.8,24.4 L1453.7,24.4 L1454.6,22.2 L1455.5,24.3 L1456.4,22.4 L1457.3,22.1 L1458.2,22.4 L1459.1,23 L1460,22.9 L1460.9,21.7 L1461.8,22.6 L1462.7,22.6 L1463.6,23.6 L1464.5,22.5 L1465.4,22.9 L1466.3,23.6 L1467.2,23.3 L1468.1,23.2 L1469,22.4 L1469.9,23.3 L1470.8,23.3 L1471.7,21.3 L1472.6,20.4 L1473.5,23.1 L1474.4,22.7 L1475.3,22.7 L1476.2,20.9 L1477.1,22.6 L1478,20.7 L1478.9,22.8 L1479.8,18.9 L1480.7,23 L1481.6,21.8 L1482.5,20.3 L1483.4,20.9 L1484.3,21.8 L1485.2,20.4 L1486.1,21.6 L1487,22.5 L1487.9,21 L1488.8,22.1 L1489.7,21.9 L1490.6,20.7 L1491.5,21.2 L1492.4,21.1 L1493.3,22.2 L1494.2,21.9 L1495.1,22.6 L1496,20.6 L1496.9,22.4 L1497.8,20 L1498.7,22.6 L1499.6,20.8 L1500.5,22.5 L1501.4,20.1 L1501.4,32.6 L1500.5,31 L1499.6,31 L1498.7,30.1 L1497.8,30.5 L1496.9,30.9 L1496,30.3 L1495.1,30.7 L1494.2,30.9 L1493.3,30.2 L1492.4,32.5 L1491.5,30.2 L1490.6,31.8 L1489.7,33 L1488.8,30.3 L1487.9,31.3 L1487,29.8 L1486.1,30.6 L1485.2,30.6 L1484.3,31.7 L1483.4,31.6 L1482.5,30.1 L1481.6,31 L1480.7,33.5 L1479.8,30.1 L1478.9,31.9 L1478,30.2 L1477.1,30.2 L1476.2,31.8 L1475.3,30.8 L1474.4,30.1 L1473.5,31 L1472.6,31.6 L1471.7,31.9 L1470.8,31.8 L1469.9,30.9 L1469,31.3 L1468.1,32.3 L1467.2,33.4 L1466.3,33.2 L1465.4,31.5 L1464.5,31.9 L1463.6,31.7 L1462.7,30.9 L1461.8,32 L1460.9,31.7 L1460,31.4 L1459.1,31.6 L1458.2,30.9 L1457.3,30.8 L1456.4,30.9 L1455.5,31.1 L1454.6,31.4 L1453.7,31.8 L1452.8,31.4 L1451.9,31.9 L1451,32.5 L1450.1,31.2 L1449.2,31.9 L1448.3,31.8 L1447.4,31.9 L1446.5,31.5 L1445.6,34.7 L1444.7,33.2 L1443.8,33 L1442.9,31.6 L1442,33.3 L1441.1,32.3 L1440.2,34.2 L1439.3,33.2 L1438.4,33.1 L1437.5,33.3 L1436.6,33.7 L1435.7,35.3 L1434.8,33.5 L1433.9,34.1 L1433,33.3 L1432.1,33.1 L1431.2,34.7 L1430.3,33.1 L1429.4,33.8 L1428.5,34.4 L1427.6,34.8 L1426.7,33.5 L1425.8,34.1 L1424.9,34 L1424,34.5 L1423.1,34.4 L1422.2,34 L1421.3,35.3 L1420.4,35.1 L1419.5,35.1 L1418.6,34.7 L1417.7,34.6 L1416.8,35.1 L1415.9,35.7 L1415,36.6 L1414.1,35.3 L1413.2,36.3 L1412.3,35.9 L1411.4,36.7 L1410.5,36.1 L1409.6,36.3 L1408.7,36.5 L1407.8,37 L1406.9,37.2 L1406,37.7 L1405.1,36.4 L1404.2,38 L1403.3,39.3 L1402.4,38.3 L1401.5,39.9 L1400.6,38.4 L1399.7,38.7 L1398.8,37.7 L1397.9,38.2 L1397,38.5 L1396.1,37.9 L1395.2,39.1 L1394.3,39.1 L1393.4,38.1 L1392.5,40.3 L1391.6,38.6 L1390.7,42.4 L1389.8,39.6 L1388.9,39.1 L1388,40.2 L1387.1,39.2 L1386.2,40.6 L1385.3,43 L1384.4,42 L1383.5,40.7 L1382.6,41.3 L1381.7,41.1 L1380.8,41.2 L1379.9,41.4 L1379,40.9 L1378.1,43.3 L1377.2,41.7 L1376.3,41.9 L1375.4,42 L1374.5,41.2 L1373.6,41.6 L1372.7,41.9 L1371.8,42.6 L1370.9,43 L1370,43.1 L1369.1,42.1 L1368.2,42.2 L1367.3,42.4 L1366.4,42.8 L1365.5,43.9 L1364.6,42.9 L1363.7,43.5 L1362.8,44.1 L1361.9,44.6 L1361,44.7 L1360.1,46.6 L1359.2,45 L1358.3,44.5 L1357.4,44.9 L1356.5,44.7 L1355.6,44.6 L1354.7,45.8 L1353.8,44.9 L1352.9,45.3 L1352,46.1 L1351.1,46.1 L1350.2,46.1 L1349.3,46.7 L1348.4,46.8 L1347.5,47 L1346.6,46.8 L1345.7,46.8 L1344.8,47 L1343.9,47.8 L1343,48.4 L1342.1,47.8 L1341.2,48.8 L1340.3,48.6 L1339.4,48.5 L1338.5,49.3 L1337.6,49.9 L1336.7,49.8 L1335.8,49.8 L1334.9,49.6 L1334,50 L1333.1,49.6 L1332.2,50.1 L1331.3,50.8 L1330.4,50.9 L1329.5,51.2 L1328.6,51.6 L1327.7,51.6 L1326.8,52.2 L1325.9,52.5 L1325,52.7 L1324.1,53.2 L1323.2,53.3 L1322.3,53.6 L1321.4,53.8 L1320.5,54.4 L1319.6,54.6 L1318.7,55 L1317.8,55.2 L1316.9,55.8 L1316,56.2 L1315.1,56.7 L1314.2,56.7 L1313.3,57.4 L1312.4,57.8 L1311.5,58.2 L1310.6,58.4 L1309.7,58.8 L1308.8,59.1 L1307.9,59.5 L1307,59.9 L1306.1,60.1 L1305.2,60.6 L1304.3,61.1 L1303.4,61.4 L1302.5,61.9 L1301.6,62 L1300.7,62.4 L1299.8,62.9 L1298.9,63 L1298,63.7 L1297.1,63.7 L1296.2,64.3 L1295.3,64.7 L1294.4,65 L1293.5,65.2 L1292.6,65.5 L1291.7,65.9 L1290.8,66.2 L1289.9,66.6 L1289,67.1 L1288.1,67.4 L1287.2,67.7 L1286.3,68 L1285.4,68.4 L1284.5,68.8 L1283.6,69.2 L1282.7,69.5 L1281.8,69.9 L1280.9,70.3 L1280,70.7 L1279.1,70.9 L1278.2,71.3 L1277.3,71.7 L1276.4,72 L1275.5,72.4 L1274.6,72.8 L1273.7,73.2 L1272.8,73.6 L1271.9,73.9 L1271,74.3 L1270.1,74.7 L1269.2,75.1 L1268.3,75.5 L1267.4,75.9 L1266.5,76.2 L1265.6,76.7 L1264.7,77.1 L1263.8,77.5 L1262.9,77.9 L1262,78.3Z" fill="#000" stroke="#000" stroke-width="0.5" stroke-linejoin="round"/>
<path d="M99.4,418.1 L103.4,418.1 L107.4,418.1 L111.4,418.1 L115.4,418.1 L119.4,418 L123.4,418 L127.4,418 L131.4,418 L135.4,418 L139.4,417.9 L143.4,417.9 L147.4,417.9 L151.4,417.9 L155.4,417.8 L159.4,417.8 L163.4,417.8 L167.4,417.8 L171.4,417.7 L175.4,417.7 L179.4,417.7 L183.4,417.6 L187.4,417.6 L191.4,417.6 L195.4,417.5 L199.4,417.5 L203.4,417.5 L207.4,417.4 L211.4,417.4 L215.4,417.4 L219.4,417.3 L223.4,417.3 L227.4,417.2 L231.4,417.2 L235.4,417.1 L239.4,417.1 L243.4,417 L247.4,417 L251.4,416.9 L255.4,416.9 L259.4,416.8 L263.4,416.8 L267.4,416.7 L271.4,416.6 L275.4,416.6 L279.4,416.5 L283.4,416.4 L287.4,416.3 L291.4,416.3 L295.4,416.2 L299.4,416.1 L303.4,416 L307.4,415.9 L311.4,415.8 L315.4,415.7 L319.4,415.6 L323.4,415.4 L327.4,415.3 L331.4,415.1 L335.4,415 L339.4,414.8 L343.4,414.7 L347.4,414.5 L351.4,414.3 L355.4,414.1 L359.4,413.9 L363.4,413.7 L367.4,413.5 L371.4,413.3 L375.4,413.1 L379.4,412.9 L383.4,412.6 L387.4,412.4 L391.4,412.2 L395.4,412 L399.4,411.7 L403.4,411.5 L407.4,411.2 L411.4,411 L415.4,410.7 L419.4,410.4 L423.4,410 L427.4,409.7 L431.4,409.4 L435.4,409 L439.4,408.7 L443.4,408.4 L447.4,408.1 L451.4,407.7 L455.4,407.4 L459.4,407.1 L463.4,406.8 L467.4,406.5 L471.4,406.2 L475.4,405.9 L479.4,405.6 L483.4,405.3 L487.4,404.9 L491.4,404.6 L495.4,404.3 L499.4,404 L503.4,403.7 L507.4,403.4 L511.4,403.1 L515.4,402.7 L519.4,402.4 L521.5,402.2" fill="none" stroke="#000" stroke-width="2.9" stroke-linejoin="round"/>
<path d="M520,402.4 L524,402 L528,401.7 L532,401.4 L536,401 L540,400.7 L544,400.4 L548,400 L552,399.6 L556,399.3 L560,398.9 L564,398.6 L568,398.2 L572,397.8 L576,397.4 L580,397 L584,396.6 L588,396.2 L592,395.8 L596,395.3 L600,394.8 L604,394.3 L608,393.8 L612,393.2 L616,392.7 L620,392.1 L624,391.6 L628,391 L632,390.4 L636,389.8 L640,389.1 L644,388.5 L648,387.8 L652,387.2 L656,386.5 L660,385.8 L664,385.1 L668,384.4 L672,383.7 L676,382.9 L680,382.2 L684,381.4 L688,380.6 L692,379.9 L696,379.1 L700,378.2 L704,377.4 L708,376.6 L712,375.8 L716,374.9 L720,374 L724,373.2 L728,372.3 L732,371.4 L736,370.5 L740,369.6 L744,368.6 L748,367.7 L752,366.8 L756,365.8 L760,364.8 L764,363.8 L768,362.7 L772,361.7 L776,360.6 L780,359.5 L784,358.3 L788,357.2 L792,356 L796,354.8 L800,353.6 L804,352.4 L808,351.1 L812,349.8 L816,348.5 L820,347.2 L824,345.9 L828,344.5 L832,343.2 L836,341.8 L840,340.4 L844,339 L848,337.6 L852,336.1 L856,334.6 L860,333.2 L864,331.7 L868,330.2 L872,328.6 L876,327.1 L880,325.6 L884,324 L888,322.4 L892,320.9 L896,319.3 L900,317.7 L904,316 L908,314.3 L912,312.6 L916,310.8 L920,308.9 L924,307.1 L928,305.2 L932,303.2 L936,301.3 L940,299.2 L944,297.2 L948,295.2 L952,293.1 L956,291 L960,288.9 L964,286.8 L968,284.6 L972,282.5 L976,280.4 L980,278.2 L984,276.1 L988,273.9 L992,271.8 L996,269.6 L1000,267.5 L1004,265.4 L1008,263.3 L1012,261.1 L1016,259 L1020,256.8 L1024,254.7 L1028,252.5 L1032,250.2 L1036,248 L1040,245.7 L1044,243.5 L1048,241.1 L1052,238.8 L1056,236.4 L1060,234 L1064,231.6 L1068,229.1 L1072,226.6 L1076,224.1 L1080,221.5 L1084,219 L1088,216.5 L1092,213.9 L1096,211.4 L1100,208.9 L1104,206.4 L1108,203.9 L1112,201.4 L1116,198.9 L1120,196.4 L1124,193.9 L1128,191.4 L1132,188.9 L1136,186.4 L1140,183.9 L1144,181.4 L1148,178.9 L1152,176.5 L1156,173.9 L1160,171.4 L1164,168.8 L1168,166.3 L1172,163.7 L1176,161.2 L1180,158.7 L1184,156.2 L1188,153.8 L1192,151.4 L1196,149.1 L1200,146.9 L1204,144.8 L1208,142.6 L1212,140.5 L1216,138.5 L1220,136.4 L1224,134.4 L1228,132.5 L1232,130.5 L1236,128.6 L1240,126.7 L1244,124.9 L1248,123.1 L1252,121.3 L1256,119.5 L1260,117.8 L1262.5,116.8" fill="none" stroke="#000" stroke-width="2.15" stroke-linejoin="round"/>
<path d="M1262,115.9 L1262.9,115.5 L1263.8,115.1 L1264.7,114.7 L1265.6,114.3 L1266.5,114 L1267.4,113.6 L1268.3,113.2 L1269.2,112.8 L1270.1,112.4 L1271,112.1 L1271.9,111.7 L1272.8,111.4 L1273.7,111 L1274.6,110.6 L1275.5,110.2 L1276.4,110 L1277.3,109.5 L1278.2,109.2 L1279.1,108.7 L1280,108.5 L1280.9,108.1 L1281.8,107.7 L1282.7,107.5 L1283.6,107 L1284.5,106.7 L1285.4,106.4 L1286.3,106 L1287.2,105.5 L1288.1,105.1 L1289,104.9 L1289.9,104.5 L1290.8,104.3 L1291.7,103.9 L1292.6,103.4 L1293.5,103.1 L1294.4,102.7 L1295.3,102.7 L1296.2,102 L1297.1,101.8 L1298,101.6 L1298.9,101.1 L1299.8,100.6 L1300.7,100.4 L1301.6,100.1 L1302.5,100 L1303.4,99.4 L1304.3,99.1 L1305.2,98.9 L1306.1,98.5 L1307,97.7 L1307.9,97.6 L1308.8,97 L1309.7,96.8 L1310.6,96.5 L1311.5,95.9 L1312.4,95.9 L1313.3,95.7 L1314.2,94.8 L1315.1,94.7 L1316,94.6 L1316.9,93.7 L1317.8,93.4 L1318.7,93.4 L1319.6,93 L1320.5,92.2 L1321.4,92.2 L1322.3,91.5 L1323.2,91.1 L1324.1,91.1 L1325,90.6 L1325.9,90.5 L1326.8,90.2 L1327.7,90.2 L1328.6,89.5 L1329.5,89.4 L1330.4,88.8 L1331.3,88.6 L1332.2,88.5 L1333.1,88.4 L1334,88.1 L1334.9,78.9 L1335.8,79.8 L1336.7,79.8 L1337.6,80.8 L1338.5,80.3 L1339.4,79.9 L1340.3,81.5 L1341.2,79.7 L1342.1,79.9 L1343,79.5 L1343.9,79.7 L1344.8,79.7 L1345.7,81.7 L1346.6,81.2 L1347.5,81.4 L1348.4,81.7 L1349.3,81.5 L1350.2,81.7 L1351.1,80.1 L1352,80.4 L1352.9,80.8 L1353.8,80.9 L1354.7,80.6 L1355.6,80.5 L1356.5,81.2 L1357.4,81.5 L1358.3,80.5 L1359.2,81.7 L1360.1,80.6 L1361,80.3 L1361.9,79.9 L1362.8,81.2 L1363.7,79.1 L1364.6,79.5 L1365.5,79.4 L1366.4,79.4 L1367.3,79.4 L1368.2,79.6 L1369.1,76.4 L1370,79.2 L1370.9,78.8 L1371.8,79.4 L1372.7,75.7 L1373.6,78.8 L1374.5,77.2 L1375.4,77.6 L1376.3,77 L1377.2,78.2 L1378.1,77.5 L1379,77.2 L1379.9,77.4 L1380.8,77.7 L1381.7,76.4 L1382.6,76.1 L1383.5,76.6 L1384.4,74.7 L1385.3,76.6 L1386.2,75.2 L1387.1,74.2 L1388,76.5 L1388.9,75.3 L1389.8,75.5 L1390.7,73.4 L1391.6,74.2 L1392.5,75 L1393.4,74.7 L1394.3,73.9 L1395.2,74.2 L1396.1,74.9 L1397,73.4 L1397.9,71.5 L1398.8,73.4 L1399.7,73.6 L1400.6,73.4 L1401.5,74.3 L1402.4,74.6 L1403.3,72.9 L1404.2,70.9 L1405.1,73 L1406,73.7 L1406.9,72.3 L1407.8,72.8 L1408.7,72.2 L1409.6,71.9 L1410.5,72.3 L1411.4,71.4 L1412.3,73.1 L1413.2,71.7 L1414.1,71.9 L1415,71.8 L1415.9,71.8 L1416.8,71.6 L1417.7,70.8 L1418.6,71.1 L1419.5,70.2 L1420.4,71.1 L1421.3,67.3 L1422.2,70.7 L1423.1,70.1 L1424,70.3 L1424.9,69.1 L1425.8,71.1 L1426.7,70.6 L1427.6,69.8 L1428.5,69 L1429.4,67.5 L1430.3,68.6 L1431.2,68.2 L1432.1,70 L1433,68.8 L1433.9,69.8 L1434.8,70 L1435.7,69.5 L1436.6,69.8 L1437.5,68.3 L1438.4,67.4 L1439.3,69.5 L1440.2,67.4 L1441.1,69 L1442,68.6 L1442.9,68.2 L1443.8,68.8 L1444.7,68.4 L1445.6,66.3 L1446.5,66.8 L1447.4,67.3 L1448.3,66.6 L1449.2,66.9 L1450.1,67.7 L1451,68.1 L1451.9,66.4 L1452.8,68.3 L1453.7,68.3 L1454.6,66 L1455.5,68.1 L1456.4,66.2 L1457.3,66 L1458.2,66.2 L1459.1,66.9 L1460,66.7 L1460.9,65.5 L1461.8,66.4 L1462.7,66.4 L1463.6,67.4 L1464.5,66.3 L1465.4,66.7 L1466.3,67.4 L1467.2,67.1 L1468.1,67 L1469,66.2 L1469.9,67.1 L1470.8,67.1 L1471.7,65.1 L1472.6,64.2 L1473.5,66.9 L1474.4,66.5 L1475.3,66.5 L1476.2,64.7 L1477.1,66.4 L1478,64.5 L1478.9,66.6 L1479.8,62.6 L1480.7,66.8 L1481.6,65.6 L1482.5,64.1 L1483.4,64.6 L1484.3,65.5 L1485.2,64.1 L1486.1,65.4 L1487,66.2 L1487.9,64.7 L1488.8,65.8 L1489.7,65.6 L1490.6,64.4 L1491.5,64.9 L1492.4,64.8 L1493.3,65.8 L1494.2,65.6 L1495.1,66.2 L1496,64.3 L1496.9,66.1 L1497.8,63.7 L1498.7,66.3 L1499.6,64.5 L1500.5,66.2 L1501.4,63.7 L1501.4,76.2 L1500.5,74.6 L1499.6,74.6 L1498.7,73.8 L1497.8,74.2 L1496.9,74.6 L1496,74 L1495.1,74.4 L1494.2,74.6 L1493.3,73.8 L1492.4,76.2 L1491.5,73.9 L1490.6,75.5 L1489.7,76.7 L1488.8,74 L1487.9,75.1 L1487,73.6 L1486.1,74.4 L1485.2,74.3 L1484.3,75.4 L1483.4,75.3 L1482.5,73.9 L1481.6,74.7 L1480.7,77.3 L1479.8,73.9 L1478.9,75.6 L1478,74 L1477.1,74 L1476.2,75.6 L1475.3,74.6 L1474.4,73.9 L1473.5,74.8 L1472.6,75.4 L1471.7,75.7 L1470.8,75.6 L1469.9,74.7 L1469,75.1 L1468.1,76.1 L1467.2,77.2 L1466.3,77 L1465.4,75.3 L1464.5,75.7 L1463.6,75.5 L1462.7,74.7 L1461.8,75.8 L1460.9,75.6 L1460,75.2 L1459.1,75.4 L1458.2,74.7 L1457.3,74.6 L1456.4,74.8 L1455.5,74.9 L1454.6,75.3 L1453.7,75.7 L1452.8,75.3 L1451.9,75.7 L1451,76.3 L1450.1,75 L1449.2,75.7 L1448.3,75.6 L1447.4,75.7 L1446.5,75.3 L1445.6,78.6 L1444.7,77.1 L1443.8,76.9 L1442.9,75.5 L1442,77.2 L1441.1,76.2 L1440.2,78.1 L1439.3,77.1 L1438.4,76.9 L1437.5,77.1 L1436.6,77.5 L1435.7,79.2 L1434.8,77.4 L1433.9,77.9 L1433,77.1 L1432.1,76.9 L1431.2,78.5 L1430.3,76.9 L1429.4,77.6 L1428.5,78.2 L1427.6,78.6 L1426.7,77.3 L1425.8,77.9 L1424.9,77.8 L1424,78.3 L1423.1,78.2 L1422.2,77.7 L1421.3,79.1 L1420.4,78.8 L1419.5,78.8 L1418.6,78.4 L1417.7,78.3 L1416.8,78.8 L1415.9,79.5 L1415,80.3 L1414.1,79 L1413.2,80 L1412.3,79.6 L1411.4,80.4 L1410.5,79.8 L1409.6,80 L1408.7,80.1 L1407.8,80.6 L1406.9,80.9 L1406,81.3 L1405.1,80 L1404.2,81.6 L1403.3,82.9 L1402.4,81.9 L1401.5,83.5 L1400.6,81.9 L1399.7,82.3 L1398.8,81.2 L1397.9,81.8 L1397,82 L1396.1,81.4 L1395.2,82.7 L1394.3,82.7 L1393.4,81.6 L1392.5,83.8 L1391.6,82.2 L1390.7,85.9 L1389.8,83.1 L1388.9,82.6 L1388,83.7 L1387.1,82.6 L1386.2,84 L1385.3,86.4 L1384.4,85.4 L1383.5,84.2 L1382.6,84.7 L1381.7,84.5 L1380.8,84.6 L1379.9,84.8 L1379,84.2 L1378.1,86.7 L1377.2,85.1 L1376.3,85.3 L1375.4,85.3 L1374.5,84.5 L1373.6,84.9 L1372.7,85.2 L1371.8,85.9 L1370.9,86.3 L1370,86.4 L1369.1,85.4 L1368.2,85.5 L1367.3,85.6 L1366.4,86 L1365.5,87.1 L1364.6,86.1 L1363.7,86.7 L1362.8,87.3 L1361.9,87.8 L1361,87.9 L1360.1,89.7 L1359.2,88.1 L1358.3,87.6 L1357.4,88 L1356.5,87.8 L1355.6,87.6 L1354.7,88.9 L1353.8,88 L1352.9,88.3 L1352,89.1 L1351.1,89.1 L1350.2,89 L1349.3,89.7 L1348.4,89.7 L1347.5,89.9 L1346.6,89.7 L1345.7,89.7 L1344.8,89.9 L1343.9,90.7 L1343,91.2 L1342.1,90.6 L1341.2,91.6 L1340.3,91.4 L1339.4,91.3 L1338.5,92 L1337.6,92.6 L1336.7,92.5 L1335.8,92.5 L1334.9,92.3 L1334,92.6 L1333.1,92.2 L1332.2,92.7 L1331.3,93.4 L1330.4,93.4 L1329.5,93.8 L1328.6,94.1 L1327.7,94.1 L1326.8,94.6 L1325.9,94.9 L1325,95 L1324.1,95.5 L1323.2,95.6 L1322.3,95.8 L1321.4,96.1 L1320.5,96.5 L1319.6,96.7 L1318.7,97.1 L1317.8,97.3 L1316.9,97.8 L1316,98.2 L1315.1,98.6 L1314.2,98.6 L1313.3,99.3 L1312.4,99.7 L1311.5,100 L1310.6,100.2 L1309.7,100.6 L1308.8,100.8 L1307.9,101.2 L1307,101.6 L1306.1,101.7 L1305.2,102.1 L1304.3,102.6 L1303.4,102.9 L1302.5,103.3 L1301.6,103.4 L1300.7,103.8 L1299.8,104.2 L1298.9,104.3 L1298,104.9 L1297.1,105 L1296.2,105.5 L1295.3,105.8 L1294.4,106.1 L1293.5,106.3 L1292.6,106.6 L1291.7,106.9 L1290.8,107.2 L1289.9,107.5 L1289,108 L1288.1,108.3 L1287.2,108.6 L1286.3,108.8 L1285.4,109.2 L1284.5,109.6 L1283.6,109.9 L1282.7,110.2 L1281.8,110.6 L1280.9,110.9 L1280,111.2 L1279.1,111.4 L1278.2,111.7 L1277.3,112.1 L1276.4,112.4 L1275.5,112.8 L1274.6,113.1 L1273.7,113.5 L1272.8,113.8 L1271.9,114.1 L1271,114.5 L1270.1,114.9 L1269.2,115.2 L1268.3,115.5 L1267.4,115.9 L1266.5,116.2 L1265.6,116.6 L1264.7,117 L1263.8,117.3 L1262.9,117.7 L1262,118Z" fill="#000" stroke="#000" stroke-width="0.5" stroke-linejoin="round"/>
<path d="M99.4,418.4 L103.4,418.4 L107.4,418.4 L111.4,418.4 L115.4,418.4 L119.4,418.4 L123.4,418.4 L127.4,418.3 L131.4,418.3 L135.4,418.3 L139.4,418.3 L143.4,418.3 L147.4,418.3 L151.4,418.2 L155.4,418.2 L159.4,418.2 L163.4,418.2 L167.4,418.1 L171.4,418.1 L175.4,418.1 L179.4,418.1 L183.4,418.1 L187.4,418 L191.4,418 L195.4,418 L199.4,417.9 L203.4,417.9 L207.4,417.9 L211.4,417.9 L215.4,417.8 L219.4,417.8 L223.4,417.8 L227.4,417.7 L231.4,417.7 L235.4,417.7 L239.4,417.6 L243.4,417.6 L247.4,417.5 L251.4,417.5 L255.4,417.5 L259.4,417.4 L263.4,417.4 L267.4,417.3 L271.4,417.3 L275.4,417.2 L279.4,417.2 L283.4,417.1 L287.4,417 L291.4,417 L295.4,416.9 L299.4,416.8 L303.4,416.8 L307.4,416.7 L311.4,416.6 L315.4,416.5 L319.4,416.4 L323.4,416.3 L327.4,416.2 L331.4,416.1 L335.4,416 L339.4,415.8 L343.4,415.7 L347.4,415.6 L351.4,415.4 L355.4,415.3 L359.4,415.1 L363.4,415 L367.4,414.8 L371.4,414.6 L375.4,414.5 L379.4,414.3 L383.4,414.1 L387.4,413.9 L391.4,413.8 L395.4,413.6 L399.4,413.4 L403.4,413.2 L407.4,413 L411.4,412.8 L415.4,412.6 L419.4,412.3 L423.4,412.1 L427.4,411.8 L431.4,411.6 L435.4,411.3 L439.4,411 L443.4,410.8 L447.4,410.5 L451.4,410.3 L455.4,410 L459.4,409.8 L463.4,409.5 L467.4,409.3 L471.4,409 L475.4,408.8 L479.4,408.5 L483.4,408.3 L487.4,408.1 L491.4,407.8 L495.4,407.6 L499.4,407.3 L503.4,407.1 L507.4,406.8 L511.4,406.6 L515.4,406.3 L519.4,406.1 L521.5,405.9" fill="none" stroke="#000" stroke-width="2.9" stroke-linejoin="round"/>
<path d="M520,406 L524,405.8 L528,405.5 L532,405.2 L536,405 L540,404.7 L544,404.4 L548,404.2 L552,403.9 L556,403.6 L560,403.3 L564,403 L568,402.7 L572,402.4 L576,402.1 L580,401.8 L584,401.5 L588,401.2 L592,400.8 L596,400.4 L600,400.1 L604,399.7 L608,399.3 L612,398.8 L616,398.4 L620,398 L624,397.5 L628,397 L632,396.6 L636,396.1 L640,395.6 L644,395.1 L648,394.6 L652,394 L656,393.5 L660,393 L664,392.4 L668,391.8 L672,391.3 L676,390.7 L680,390.1 L684,389.5 L688,388.9 L692,388.3 L696,387.6 L700,387 L704,386.4 L708,385.7 L712,385 L716,384.4 L720,383.7 L724,383 L728,382.3 L732,381.6 L736,380.9 L740,380.2 L744,379.4 L748,378.7 L752,378 L756,377.2 L760,376.4 L764,375.6 L768,374.8 L772,373.9 L776,373.1 L780,372.2 L784,371.3 L788,370.4 L792,369.5 L796,368.5 L800,367.6 L804,366.6 L808,365.6 L812,364.6 L816,363.6 L820,362.5 L824,361.5 L828,360.4 L832,359.4 L836,358.3 L840,357.2 L844,356 L848,354.9 L852,353.8 L856,352.6 L860,351.4 L864,350.3 L868,349.1 L872,347.9 L876,346.7 L880,345.5 L884,344.2 L888,343 L892,341.7 L896,340.5 L900,339.2 L904,337.9 L908,336.6 L912,335.2 L916,333.8 L920,332.3 L924,330.8 L928,329.3 L932,327.8 L936,326.2 L940,324.6 L944,323 L948,321.4 L952,319.7 L956,318.1 L960,316.4 L964,314.7 L968,313 L972,311.3 L976,309.6 L980,307.9 L984,306.2 L988,304.5 L992,302.8 L996,301.1 L1000,299.4 L1004,297.7 L1008,296.1 L1012,294.4 L1016,292.6 L1020,290.9 L1024,289.2 L1028,287.4 L1032,285.7 L1036,283.9 L1040,282.1 L1044,280.3 L1048,278.4 L1052,276.6 L1056,274.7 L1060,272.8 L1064,270.8 L1068,268.8 L1072,266.8 L1076,264.8 L1080,262.8 L1084,260.8 L1088,258.8 L1092,256.8 L1096,254.8 L1100,252.8 L1104,250.8 L1108,248.8 L1112,246.8 L1116,244.8 L1120,242.8 L1124,240.8 L1128,238.8 L1132,236.8 L1136,234.8 L1140,232.8 L1144,230.8 L1148,228.8 L1152,226.8 L1156,224.8 L1160,222.8 L1164,220.8 L1168,218.7 L1172,216.7 L1176,214.6 L1180,212.6 L1184,210.7 L1188,208.7 L1192,206.8 L1196,205 L1200,203.2 L1204,201.5 L1208,199.8 L1212,198.2 L1216,196.6 L1220,195 L1224,193.4 L1228,191.8 L1232,190.3 L1236,188.8 L1240,187.3 L1244,185.9 L1248,184.5 L1252,183.1 L1256,181.7 L1260,180.3 L1262.5,179.5" fill="none" stroke="#000" stroke-width="2.15" stroke-linejoin="round"/>
<path d="M1262,178.6 L1262.9,178.3 L1263.8,178 L1264.7,177.7 L1265.6,177.3 L1266.5,177 L1267.4,176.8 L1268.3,176.4 L1269.2,176.1 L1270.1,175.8 L1271,175.6 L1271.9,175.2 L1272.8,175 L1273.7,174.7 L1274.6,174.4 L1275.5,174.1 L1276.4,173.9 L1277.3,173.5 L1278.2,173.3 L1279.1,172.9 L1280,172.7 L1280.9,172.4 L1281.8,172.1 L1282.7,171.9 L1283.6,171.5 L1284.5,171.3 L1285.4,171.1 L1286.3,170.8 L1287.2,170.3 L1288.1,170 L1289,169.8 L1289.9,169.5 L1290.8,169.4 L1291.7,169.1 L1292.6,168.6 L1293.5,168.4 L1294.4,168.1 L1295.3,168.1 L1296.2,167.5 L1297.1,167.4 L1298,167.3 L1298.9,166.8 L1299.8,166.4 L1300.7,166.3 L1301.6,166.1 L1302.5,166 L1303.4,165.5 L1304.3,165.3 L1305.2,165.1 L1306.1,164.9 L1307,164.1 L1307.9,164.1 L1308.8,163.5 L1309.7,163.4 L1310.6,163.2 L1311.5,162.7 L1312.4,162.8 L1313.3,162.6 L1314.2,161.8 L1315.1,161.8 L1316,161.7 L1316.9,160.9 L1317.8,160.7 L1318.7,160.8 L1319.6,160.5 L1320.5,159.7 L1321.4,159.8 L1322.3,159.1 L1323.2,158.8 L1324.1,158.9 L1325,158.5 L1325.9,158.5 L1326.8,158.2 L1327.7,158.2 L1328.6,157.7 L1329.5,157.6 L1330.4,157.1 L1331.3,156.9 L1332.2,156.9 L1333.1,156.8 L1334,156.6 L1334.9,147.5 L1335.8,148.3 L1336.7,148.5 L1337.6,149.4 L1338.5,149.1 L1339.4,148.7 L1340.3,150.4 L1341.2,148.6 L1342.1,148.8 L1343,148.5 L1343.9,148.7 L1344.8,148.7 L1345.7,150.8 L1346.6,150.4 L1347.5,150.6 L1348.4,150.9 L1349.3,150.7 L1350.2,151.1 L1351.1,149.5 L1352,149.8 L1352.9,150.2 L1353.8,150.4 L1354.7,150.1 L1355.6,150.1 L1356.5,150.8 L1357.4,151.1 L1358.3,150.2 L1359.2,151.4 L1360.1,150.4 L1361,150.1 L1361.9,149.8 L1362.8,151 L1363.7,149.1 L1364.6,149.5 L1365.5,149.4 L1366.4,149.5 L1367.3,149.5 L1368.2,149.7 L1369.1,146.5 L1370,149.4 L1370.9,149 L1371.8,149.6 L1372.7,145.9 L1373.6,149.2 L1374.5,147.6 L1375.4,148 L1376.3,147.4 L1377.2,148.7 L1378.1,148 L1379,147.7 L1379.9,147.9 L1380.8,148.3 L1381.7,147 L1382.6,146.7 L1383.5,147.3 L1384.4,145.4 L1385.3,147.4 L1386.2,146 L1387.1,145 L1388,147.3 L1388.9,146.1 L1389.8,146.4 L1390.7,144.3 L1391.6,145.2 L1392.5,146 L1393.4,145.7 L1394.3,145 L1395.2,145.3 L1396.1,146.1 L1397,144.6 L1397.9,142.6 L1398.8,144.6 L1399.7,144.9 L1400.6,144.6 L1401.5,145.6 L1402.4,145.9 L1403.3,144.3 L1404.2,142.3 L1405.1,144.4 L1406,145.1 L1406.9,143.7 L1407.8,144.3 L1408.7,143.8 L1409.6,143.4 L1410.5,143.9 L1411.4,143 L1412.3,144.7 L1413.2,143.4 L1414.1,143.6 L1415,143.5 L1415.9,143.5 L1416.8,143.4 L1417.7,142.6 L1418.6,142.9 L1419.5,142 L1420.4,143 L1421.3,139.2 L1422.2,142.6 L1423.1,142.1 L1424,142.4 L1424.9,141.1 L1425.8,143.1 L1426.7,142.7 L1427.6,142 L1428.5,141.2 L1429.4,139.7 L1430.3,140.8 L1431.2,140.5 L1432.1,142.3 L1433,141.1 L1433.9,142.1 L1434.8,142.3 L1435.7,141.8 L1436.6,142.2 L1437.5,140.7 L1438.4,139.8 L1439.3,142 L1440.2,139.9 L1441.1,141.5 L1442,141.2 L1442.9,140.8 L1443.8,141.4 L1444.7,141 L1445.6,138.9 L1446.5,139.4 L1447.4,140 L1448.3,139.3 L1449.2,139.5 L1450.1,140.4 L1451,140.8 L1451.9,139.1 L1452.8,141 L1453.7,141 L1454.6,138.8 L1455.5,140.9 L1456.4,139 L1457.3,138.8 L1458.2,139 L1459.1,139.7 L1460,139.5 L1460.9,138.3 L1461.8,139.3 L1462.7,139.3 L1463.6,140.3 L1464.5,139.2 L1465.4,139.6 L1466.3,140.3 L1467.2,140.1 L1468.1,140 L1469,139.2 L1469.9,140 L1470.8,140.1 L1471.7,138.1 L1472.6,137.2 L1473.5,139.9 L1474.4,139.5 L1475.3,139.5 L1476.2,137.8 L1477.1,139.4 L1478,137.6 L1478.9,139.7 L1479.8,135.7 L1480.7,139.9 L1481.6,138.7 L1482.5,137.2 L1483.4,137.8 L1484.3,138.6 L1485.2,137.3 L1486.1,138.5 L1487,139.4 L1487.9,137.9 L1488.8,139 L1489.7,138.8 L1490.6,137.6 L1491.5,138.1 L1492.4,138 L1493.3,139.1 L1494.2,138.8 L1495.1,139.5 L1496,137.6 L1496.9,139.4 L1497.8,137 L1498.7,139.5 L1499.6,137.7 L1500.5,139.4 L1501.4,137 L1501.4,149.5 L1500.5,147.9 L1499.6,147.9 L1498.7,147 L1497.8,147.4 L1496.9,147.8 L1496,147.2 L1495.1,147.6 L1494.2,147.8 L1493.3,147.1 L1492.4,149.4 L1491.5,147.1 L1490.6,148.7 L1489.7,149.9 L1488.8,147.2 L1487.9,148.2 L1487,146.7 L1486.1,147.5 L1485.2,147.5 L1484.3,148.6 L1483.4,148.5 L1482.5,147 L1481.6,147.8 L1480.7,150.4 L1479.8,146.9 L1478.9,148.7 L1478,147.1 L1477.1,147.1 L1476.2,148.6 L1475.3,147.6 L1474.4,146.9 L1473.5,147.8 L1472.6,148.4 L1471.7,148.7 L1470.8,148.6 L1469.9,147.7 L1469,148 L1468.1,149.1 L1467.2,150.1 L1466.3,149.9 L1465.4,148.2 L1464.5,148.6 L1463.6,148.4 L1462.7,147.6 L1461.8,148.7 L1460.9,148.4 L1460,148.1 L1459.1,148.2 L1458.2,147.5 L1457.3,147.4 L1456.4,147.5 L1455.5,147.7 L1454.6,148 L1453.7,148.4 L1452.8,148 L1451.9,148.4 L1451,149 L1450.1,147.7 L1449.2,148.4 L1448.3,148.3 L1447.4,148.3 L1446.5,148 L1445.6,151.1 L1444.7,149.6 L1443.8,149.4 L1442.9,148 L1442,149.7 L1441.1,148.6 L1440.2,150.6 L1439.3,149.5 L1438.4,149.4 L1437.5,149.5 L1436.6,149.9 L1435.7,151.6 L1434.8,149.7 L1433.9,150.3 L1433,149.4 L1432.1,149.2 L1431.2,150.8 L1430.3,149.1 L1429.4,149.8 L1428.5,150.4 L1427.6,150.8 L1426.7,149.4 L1425.8,150 L1424.9,149.9 L1424,150.4 L1423.1,150.2 L1422.2,149.7 L1421.3,151 L1420.4,150.7 L1419.5,150.7 L1418.6,150.3 L1417.7,150.2 L1416.8,150.6 L1415.9,151.2 L1415,152 L1414.1,150.7 L1413.2,151.6 L1412.3,151.3 L1411.4,152 L1410.5,151.3 L1409.6,151.5 L1408.7,151.7 L1407.8,152.1 L1406.9,152.4 L1406,152.7 L1405.1,151.5 L1404.2,153 L1403.3,154.2 L1402.4,153.2 L1401.5,154.7 L1400.6,153.2 L1399.7,153.5 L1398.8,152.5 L1397.9,152.9 L1397,153.2 L1396.1,152.5 L1395.2,153.8 L1394.3,153.7 L1393.4,152.6 L1392.5,154.8 L1391.6,153.1 L1390.7,156.8 L1389.8,154 L1388.9,153.5 L1388,154.5 L1387.1,153.4 L1386.2,154.8 L1385.3,157.2 L1384.4,156.1 L1383.5,154.8 L1382.6,155.3 L1381.7,155.2 L1380.8,155.1 L1379.9,155.4 L1379,154.8 L1378.1,157.2 L1377.2,155.6 L1376.3,155.7 L1375.4,155.7 L1374.5,154.9 L1373.6,155.2 L1372.7,155.5 L1371.8,156.1 L1370.9,156.5 L1370,156.5 L1369.1,155.5 L1368.2,155.6 L1367.3,155.7 L1366.4,156 L1365.5,157.1 L1364.6,156.1 L1363.7,156.6 L1362.8,157.2 L1361.9,157.6 L1361,157.7 L1360.1,159.5 L1359.2,157.8 L1358.3,157.3 L1357.4,157.6 L1356.5,157.4 L1355.6,157.2 L1354.7,158.4 L1353.8,157.5 L1352.9,157.8 L1352,158.5 L1351.1,158.5 L1350.2,158.4 L1349.3,158.9 L1348.4,159 L1347.5,159.1 L1346.6,158.9 L1345.7,158.8 L1344.8,158.9 L1343.9,159.7 L1343,160.2 L1342.1,159.5 L1341.2,160.5 L1340.3,160.2 L1339.4,160.1 L1338.5,160.8 L1337.6,161.3 L1336.7,161.1 L1335.8,161.1 L1334.9,160.8 L1334,161.1 L1333.1,160.7 L1332.2,161.1 L1331.3,161.7 L1330.4,161.7 L1329.5,162 L1328.6,162.2 L1327.7,162.1 L1326.8,162.7 L1325.9,162.8 L1325,162.9 L1324.1,163.3 L1323.2,163.3 L1322.3,163.5 L1321.4,163.7 L1320.5,164.1 L1319.6,164.2 L1318.7,164.5 L1317.8,164.6 L1316.9,165 L1316,165.4 L1315.1,165.7 L1314.2,165.6 L1313.3,166.2 L1312.4,166.5 L1311.5,166.8 L1310.6,166.9 L1309.7,167.2 L1308.8,167.3 L1307.9,167.7 L1307,168 L1306.1,168 L1305.2,168.4 L1304.3,168.8 L1303.4,169 L1302.5,169.3 L1301.6,169.3 L1300.7,169.7 L1299.8,170 L1298.9,170.1 L1298,170.6 L1297.1,170.6 L1296.2,171.1 L1295.3,171.3 L1294.4,171.5 L1293.5,171.6 L1292.6,171.8 L1291.7,172 L1290.8,172.3 L1289.9,172.5 L1289,172.9 L1288.1,173.2 L1287.2,173.4 L1286.3,173.5 L1285.4,173.9 L1284.5,174.1 L1283.6,174.5 L1282.7,174.6 L1281.8,174.9 L1280.9,175.2 L1280,175.4 L1279.1,175.6 L1278.2,175.8 L1277.3,176.1 L1276.4,176.4 L1275.5,176.6 L1274.6,176.9 L1273.7,177.2 L1272.8,177.4 L1271.9,177.7 L1271,177.9 L1270.1,178.3 L1269.2,178.5 L1268.3,178.8 L1267.4,179 L1266.5,179.3 L1265.6,179.6 L1264.7,179.9 L1263.8,180.2 L1262.9,180.4 L1262,180.7Z" fill="#000" stroke="#000" stroke-width="0.5" stroke-linejoin="round"/>
<path d="M99.4,418.7 L103.4,418.7 L107.4,418.7 L111.4,418.7 L115.4,418.6 L119.4,418.6 L123.4,418.6 L127.4,418.6 L131.4,418.6 L135.4,418.6 L139.4,418.6 L143.4,418.6 L147.4,418.5 L151.4,418.5 L155.4,418.5 L159.4,418.5 L163.4,418.5 L167.4,418.5 L171.4,418.4 L175.4,418.4 L179.4,418.4 L183.4,418.4 L187.4,418.4 L191.4,418.3 L195.4,418.3 L199.4,418.3 L203.4,418.3 L207.4,418.3 L211.4,418.2 L215.4,418.2 L219.4,418.2 L223.4,418.2 L227.4,418.1 L231.4,418.1 L235.4,418.1 L239.4,418 L243.4,418 L247.4,418 L251.4,418 L255.4,417.9 L259.4,417.9 L263.4,417.8 L267.4,417.8 L271.4,417.8 L275.4,417.7 L279.4,417.7 L283.4,417.6 L287.4,417.6 L291.4,417.5 L295.4,417.5 L299.4,417.4 L303.4,417.4 L307.4,417.3 L311.4,417.3 L315.4,417.2 L319.4,417.1 L323.4,417 L327.4,416.9 L331.4,416.8 L335.4,416.7 L339.4,416.6 L343.4,416.5 L347.4,416.4 L351.4,416.3 L355.4,416.2 L359.4,416.1 L363.4,416 L367.4,415.8 L371.4,415.7 L375.4,415.6 L379.4,415.4 L383.4,415.3 L387.4,415.2 L391.4,415 L395.4,414.9 L399.4,414.7 L403.4,414.6 L407.4,414.4 L411.4,414.3 L415.4,414.1 L419.4,413.9 L423.4,413.7 L427.4,413.5 L431.4,413.3 L435.4,413.1 L439.4,412.9 L443.4,412.7 L447.4,412.5 L451.4,412.3 L455.4,412.1 L459.4,411.9 L463.4,411.7 L467.4,411.5 L471.4,411.3 L475.4,411.1 L479.4,410.9 L483.4,410.7 L487.4,410.5 L491.4,410.3 L495.4,410.1 L499.4,409.9 L503.4,409.7 L507.4,409.6 L511.4,409.4 L515.4,409.2 L519.4,409 L521.5,408.8" fill="none" stroke="#000" stroke-width="2.9" stroke-linejoin="round"/>
<path d="M520,408.9 L524,408.7 L528,408.5 L532,408.3 L536,408.1 L540,407.9 L544,407.7 L548,407.5 L552,407.2 L556,407 L560,406.8 L564,406.6 L568,406.3 L572,406.1 L576,405.8 L580,405.6 L584,405.4 L588,405.1 L592,404.8 L596,404.5 L600,404.2 L604,403.9 L608,403.6 L612,403.3 L616,402.9 L620,402.6 L624,402.2 L628,401.8 L632,401.5 L636,401.1 L640,400.7 L644,400.3 L648,399.9 L652,399.5 L656,399.1 L660,398.6 L664,398.2 L668,397.8 L672,397.3 L676,396.8 L680,396.4 L684,395.9 L688,395.4 L692,394.9 L696,394.4 L700,393.9 L704,393.4 L708,392.9 L712,392.4 L716,391.9 L720,391.3 L724,390.8 L728,390.2 L732,389.7 L736,389.1 L740,388.5 L744,388 L748,387.4 L752,386.8 L756,386.2 L760,385.6 L764,384.9 L768,384.3 L772,383.6 L776,383 L780,382.3 L784,381.6 L788,380.8 L792,380.1 L796,379.4 L800,378.6 L804,377.8 L808,377.1 L812,376.3 L816,375.5 L820,374.6 L824,373.8 L828,373 L832,372.1 L836,371.3 L840,370.4 L844,369.5 L848,368.6 L852,367.7 L856,366.8 L860,365.9 L864,365 L868,364 L872,363.1 L876,362.1 L880,361.1 L884,360.2 L888,359.2 L892,358.2 L896,357.2 L900,356.2 L904,355.2 L908,354.2 L912,353.1 L916,352 L920,350.8 L924,349.7 L928,348.5 L932,347.3 L936,346.1 L940,344.9 L944,343.6 L948,342.3 L952,341.1 L956,339.8 L960,338.5 L964,337.2 L968,335.9 L972,334.5 L976,333.2 L980,331.9 L984,330.6 L988,329.3 L992,328 L996,326.6 L1000,325.3 L1004,324 L1008,322.7 L1012,321.4 L1016,320.1 L1020,318.8 L1024,317.4 L1028,316.1 L1032,314.7 L1036,313.4 L1040,312 L1044,310.6 L1048,309.2 L1052,307.7 L1056,306.3 L1060,304.8 L1064,303.3 L1068,301.8 L1072,300.2 L1076,298.7 L1080,297.1 L1084,295.6 L1088,294 L1092,292.5 L1096,290.9 L1100,289.4 L1104,287.9 L1108,286.4 L1112,284.8 L1116,283.3 L1120,281.8 L1124,280.2 L1128,278.7 L1132,277.2 L1136,275.7 L1140,274.1 L1144,272.6 L1148,271.1 L1152,269.6 L1156,268 L1160,266.5 L1164,264.9 L1168,263.4 L1172,261.8 L1176,260.3 L1180,258.8 L1184,257.3 L1188,255.8 L1192,254.3 L1196,252.9 L1200,251.6 L1204,250.2 L1208,248.9 L1212,247.6 L1216,246.3 L1220,245 L1224,243.8 L1228,242.5 L1232,241.3 L1236,240.1 L1240,238.9 L1244,237.8 L1248,236.6 L1252,235.5 L1256,234.4 L1260,233.3 L1262.5,232.6" fill="none" stroke="#000" stroke-width="2.15" stroke-linejoin="round"/>
<path d="M1262,231.7 L1262.9,231.5 L1263.8,231.2 L1264.7,231 L1265.6,230.7 L1266.5,230.5 L1267.4,230.2 L1268.3,230 L1269.2,229.7 L1270.1,229.5 L1271,229.3 L1271.9,229 L1272.8,228.8 L1273.7,228.5 L1274.6,228.3 L1275.5,228 L1276.4,227.9 L1277.3,227.5 L1278.2,227.4 L1279.1,227 L1280,226.9 L1280.9,226.6 L1281.8,226.4 L1282.7,226.3 L1283.6,225.9 L1284.5,225.8 L1285.4,225.6 L1286.3,225.3 L1287.2,224.9 L1288.1,224.7 L1289,224.6 L1289.9,224.3 L1290.8,224.2 L1291.7,223.9 L1292.6,223.5 L1293.5,223.4 L1294.4,223.1 L1295.3,223.2 L1296.2,222.6 L1297.1,222.5 L1298,222.5 L1298.9,222.1 L1299.8,221.7 L1300.7,221.6 L1301.6,221.5 L1302.5,221.4 L1303.4,221 L1304.3,220.8 L1305.2,220.7 L1306.1,220.5 L1307,219.8 L1307.9,219.8 L1308.8,219.3 L1309.7,219.3 L1310.6,219.1 L1311.5,218.7 L1312.4,218.8 L1313.3,218.6 L1314.2,217.9 L1315.1,217.9 L1316,217.9 L1316.9,217.2 L1317.8,217 L1318.7,217.1 L1319.6,216.9 L1320.5,216.2 L1321.4,216.4 L1322.3,215.7 L1323.2,215.5 L1324.1,215.6 L1325,215.2 L1325.9,215.2 L1326.8,215 L1327.7,215.1 L1328.6,214.5 L1329.5,214.6 L1330.4,214 L1331.3,213.9 L1332.2,213.9 L1333.1,213.9 L1334,213.7 L1334.9,204.6 L1335.8,205.5 L1336.7,205.7 L1337.6,206.7 L1338.5,206.3 L1339.4,206 L1340.3,207.7 L1341.2,205.9 L1342.1,206.2 L1343,205.9 L1343.9,206.1 L1344.8,206.2 L1345.7,208.3 L1346.6,207.9 L1347.5,208.1 L1348.4,208.5 L1349.3,208.3 L1350.2,208.6 L1351.1,207.1 L1352,207.5 L1352.9,207.9 L1353.8,208 L1354.7,207.8 L1355.6,207.8 L1356.5,208.6 L1357.4,208.9 L1358.3,208 L1359.2,209.2 L1360.1,208.2 L1361,208 L1361.9,207.6 L1362.8,208.9 L1363.7,207 L1364.6,207.4 L1365.5,207.3 L1366.4,207.4 L1367.3,207.5 L1368.2,207.7 L1369.1,204.6 L1370,207.4 L1370.9,207.1 L1371.8,207.7 L1372.7,204 L1373.6,207.3 L1374.5,205.7 L1375.4,206.1 L1376.3,205.6 L1377.2,206.8 L1378.1,206.2 L1379,205.9 L1379.9,206.1 L1380.8,206.5 L1381.7,205.2 L1382.6,205 L1383.5,205.6 L1384.4,203.7 L1385.3,205.7 L1386.2,204.3 L1387.1,203.3 L1388,205.6 L1388.9,204.5 L1389.8,204.7 L1390.7,202.7 L1391.6,203.6 L1392.5,204.4 L1393.4,204.1 L1394.3,203.4 L1395.2,203.7 L1396.1,204.5 L1397,203.1 L1397.9,201.1 L1398.8,203.1 L1399.7,203.4 L1400.6,203.2 L1401.5,204.1 L1402.4,204.5 L1403.3,202.8 L1404.2,200.9 L1405.1,203 L1406,203.7 L1406.9,202.4 L1407.8,202.9 L1408.7,202.4 L1409.6,202.1 L1410.5,202.5 L1411.4,201.7 L1412.3,203.4 L1413.2,202.1 L1414.1,202.3 L1415,202.2 L1415.9,202.3 L1416.8,202.2 L1417.7,201.3 L1418.6,201.7 L1419.5,200.8 L1420.4,201.8 L1421.3,198 L1422.2,201.5 L1423.1,200.9 L1424,201.2 L1424.9,200 L1425.8,202 L1426.7,201.6 L1427.6,200.8 L1428.5,200.1 L1429.4,198.6 L1430.3,199.7 L1431.2,199.4 L1432.1,201.2 L1433,200 L1433.9,201.1 L1434.8,201.2 L1435.7,200.8 L1436.6,201.1 L1437.5,199.7 L1438.4,198.8 L1439.3,201 L1440.2,198.9 L1441.1,200.4 L1442,200.1 L1442.9,199.8 L1443.8,200.4 L1444.7,200 L1445.6,197.9 L1446.5,198.4 L1447.4,199 L1448.3,198.3 L1449.2,198.5 L1450.1,199.4 L1451,199.8 L1451.9,198.1 L1452.8,200 L1453.7,200 L1454.6,197.8 L1455.5,199.9 L1456.4,198 L1457.3,197.8 L1458.2,198 L1459.1,198.7 L1460,198.5 L1460.9,197.3 L1461.8,198.3 L1462.7,198.3 L1463.6,199.2 L1464.5,198.2 L1465.4,198.6 L1466.3,199.3 L1467.2,199 L1468.1,199 L1469,198.1 L1469.9,199 L1470.8,199 L1471.7,197.1 L1472.6,196.2 L1473.5,198.9 L1474.4,198.4 L1475.3,198.5 L1476.2,196.7 L1477.1,198.4 L1478,196.5 L1478.9,198.6 L1479.8,194.7 L1480.7,198.8 L1481.6,197.6 L1482.5,196.2 L1483.4,196.7 L1484.3,197.6 L1485.2,196.2 L1486.1,197.4 L1487,198.3 L1487.9,196.8 L1488.8,197.9 L1489.7,197.7 L1490.6,196.5 L1491.5,197 L1492.4,196.9 L1493.3,197.9 L1494.2,197.7 L1495.1,198.3 L1496,196.4 L1496.9,198.2 L1497.8,195.8 L1498.7,198.3 L1499.6,196.6 L1500.5,198.3 L1501.4,195.8 L1501.4,208.3 L1500.5,206.7 L1499.6,206.7 L1498.7,205.9 L1497.8,206.3 L1496.9,206.6 L1496,206.1 L1495.1,206.5 L1494.2,206.6 L1493.3,205.9 L1492.4,208.3 L1491.5,206 L1490.6,207.6 L1489.7,208.8 L1488.8,206.1 L1487.9,207.1 L1487,205.6 L1486.1,206.4 L1485.2,206.4 L1484.3,207.5 L1483.4,207.4 L1482.5,205.9 L1481.6,206.8 L1480.7,209.3 L1479.8,205.9 L1478.9,207.6 L1478,206 L1477.1,206 L1476.2,207.6 L1475.3,206.6 L1474.4,205.9 L1473.5,206.8 L1472.6,207.4 L1471.7,207.6 L1470.8,207.5 L1469.9,206.7 L1469,207 L1468.1,208 L1467.2,209.1 L1466.3,208.9 L1465.4,207.2 L1464.5,207.6 L1463.6,207.4 L1462.7,206.6 L1461.8,207.7 L1460.9,207.4 L1460,207 L1459.1,207.2 L1458.2,206.5 L1457.3,206.4 L1456.4,206.5 L1455.5,206.7 L1454.6,207 L1453.7,207.4 L1452.8,207 L1451.9,207.4 L1451,208 L1450.1,206.7 L1449.2,207.4 L1448.3,207.3 L1447.4,207.3 L1446.5,206.9 L1445.6,210.1 L1444.7,208.6 L1443.8,208.4 L1442.9,207 L1442,208.7 L1441.1,207.6 L1440.2,209.5 L1439.3,208.5 L1438.4,208.3 L1437.5,208.5 L1436.6,208.9 L1435.7,210.5 L1434.8,208.7 L1433.9,209.2 L1433,208.3 L1432.1,208.1 L1431.2,209.7 L1430.3,208 L1429.4,208.7 L1428.5,209.3 L1427.6,209.6 L1426.7,208.3 L1425.8,208.9 L1424.9,208.7 L1424,209.2 L1423.1,209 L1422.2,208.5 L1421.3,209.8 L1420.4,209.5 L1419.5,209.5 L1418.6,209.1 L1417.7,208.9 L1416.8,209.3 L1415.9,210 L1415,210.8 L1414.1,209.4 L1413.2,210.3 L1412.3,209.9 L1411.4,210.7 L1410.5,210 L1409.6,210.2 L1408.7,210.3 L1407.8,210.7 L1406.9,211 L1406,211.3 L1405.1,210 L1404.2,211.6 L1403.3,212.8 L1402.4,211.8 L1401.5,213.3 L1400.6,211.7 L1399.7,212 L1398.8,210.9 L1397.9,211.4 L1397,211.6 L1396.1,211 L1395.2,212.2 L1394.3,212.1 L1393.4,211.1 L1392.5,213.2 L1391.6,211.5 L1390.7,215.2 L1389.8,212.3 L1388.9,211.8 L1388,212.9 L1387.1,211.7 L1386.2,213.1 L1385.3,215.5 L1384.4,214.4 L1383.5,213.1 L1382.6,213.6 L1381.7,213.4 L1380.8,213.4 L1379.9,213.6 L1379,212.9 L1378.1,215.3 L1377.2,213.7 L1376.3,213.8 L1375.4,213.8 L1374.5,213 L1373.6,213.3 L1372.7,213.6 L1371.8,214.2 L1370.9,214.5 L1370,214.6 L1369.1,213.6 L1368.2,213.6 L1367.3,213.7 L1366.4,214 L1365.5,215 L1364.6,214 L1363.7,214.5 L1362.8,215.1 L1361.9,215.5 L1361,215.5 L1360.1,217.3 L1359.2,215.6 L1358.3,215.1 L1357.4,215.4 L1356.5,215.1 L1355.6,214.9 L1354.7,216.1 L1353.8,215.1 L1352.9,215.4 L1352,216.1 L1351.1,216.1 L1350.2,215.9 L1349.3,216.5 L1348.4,216.5 L1347.5,216.6 L1346.6,216.4 L1345.7,216.2 L1344.8,216.4 L1343.9,217.1 L1343,217.5 L1342.1,216.9 L1341.2,217.8 L1340.3,217.5 L1339.4,217.3 L1338.5,218 L1337.6,218.6 L1336.7,218.3 L1335.8,218.3 L1334.9,218 L1334,218.2 L1333.1,217.7 L1332.2,218.1 L1331.3,218.7 L1330.4,218.6 L1329.5,218.9 L1328.6,219.1 L1327.7,219 L1326.8,219.4 L1325.9,219.6 L1325,219.6 L1324.1,220 L1323.2,219.9 L1322.3,220.1 L1321.4,220.2 L1320.5,220.5 L1319.6,220.6 L1318.7,220.8 L1317.8,221 L1316.9,221.3 L1316,221.6 L1315.1,221.9 L1314.2,221.7 L1313.3,222.3 L1312.4,222.6 L1311.5,222.8 L1310.6,222.8 L1309.7,223.1 L1308.8,223.1 L1307.9,223.4 L1307,223.7 L1306.1,223.7 L1305.2,224 L1304.3,224.3 L1303.4,224.5 L1302.5,224.8 L1301.6,224.7 L1300.7,225 L1299.8,225.3 L1298.9,225.3 L1298,225.8 L1297.1,225.7 L1296.2,226.2 L1295.3,226.3 L1294.4,226.5 L1293.5,226.6 L1292.6,226.7 L1291.7,226.9 L1290.8,227.1 L1289.9,227.3 L1289,227.6 L1288.1,227.8 L1287.2,228 L1286.3,228.1 L1285.4,228.4 L1284.5,228.6 L1283.6,228.9 L1282.7,229 L1281.8,229.2 L1280.9,229.5 L1280,229.7 L1279.1,229.7 L1278.2,229.9 L1277.3,230.2 L1276.4,230.4 L1275.5,230.6 L1274.6,230.8 L1273.7,231.1 L1272.8,231.2 L1271.9,231.4 L1271,231.6 L1270.1,231.9 L1269.2,232.1 L1268.3,232.3 L1267.4,232.5 L1266.5,232.7 L1265.6,233 L1264.7,233.2 L1263.8,233.4 L1262.9,233.6 L1262,233.9Z" fill="#000" stroke="#000" stroke-width="0.5" stroke-linejoin="round"/>
<path d="M99.4,419.1 L103.4,419.1 L107.4,419.1 L111.4,419.1 L115.4,419.1 L119.4,419.1 L123.4,419.1 L127.4,419.1 L131.4,419.1 L135.4,419.1 L139.4,419.1 L143.4,419.1 L147.4,419.1 L151.4,419.1 L155.4,419.1 L159.4,419 L163.4,419 L167.4,419 L171.4,419 L175.4,419 L179.4,419 L183.4,419 L187.4,419 L191.4,419 L195.4,419 L199.4,419 L203.4,418.9 L207.4,418.9 L211.4,418.9 L215.4,418.9 L219.4,418.9 L223.4,418.9 L227.4,418.9 L231.4,418.9 L235.4,418.8 L239.4,418.8 L243.4,418.8 L247.4,418.8 L251.4,418.8 L255.4,418.8 L259.4,418.7 L263.4,418.7 L267.4,418.7 L271.4,418.7 L275.4,418.7 L279.4,418.6 L283.4,418.6 L287.4,418.6 L291.4,418.6 L295.4,418.5 L299.4,418.5 L303.4,418.5 L307.4,418.5 L311.4,418.4 L315.4,418.4 L319.4,418.4 L323.4,418.3 L327.4,418.3 L331.4,418.2 L335.4,418.2 L339.4,418.1 L343.4,418.1 L347.4,418 L351.4,418 L355.4,417.9 L359.4,417.8 L363.4,417.8 L367.4,417.7 L371.4,417.7 L375.4,417.6 L379.4,417.5 L383.4,417.5 L387.4,417.4 L391.4,417.3 L395.4,417.3 L399.4,417.2 L403.4,417.1 L407.4,417 L411.4,416.9 L415.4,416.8 L419.4,416.8 L423.4,416.7 L427.4,416.6 L431.4,416.5 L435.4,416.4 L439.4,416.2 L443.4,416.1 L447.4,416 L451.4,415.9 L455.4,415.9 L459.4,415.8 L463.4,415.7 L467.4,415.6 L471.4,415.5 L475.4,415.4 L479.4,415.3 L483.4,415.2 L487.4,415.1 L491.4,415 L495.4,414.9 L499.4,414.8 L503.4,414.7 L507.4,414.6 L511.4,414.5 L515.4,414.4 L519.4,414.3 L521.5,414.3" fill="none" stroke="#000" stroke-width="2.9" stroke-linejoin="round"/>
<path d="M520,414.3 L524,414.2 L528,414.1 L532,414 L536,413.9 L540,413.8 L544,413.7 L548,413.6 L552,413.5 L556,413.3 L560,413.2 L564,413.1 L568,413 L572,412.9 L576,412.8 L580,412.7 L584,412.5 L588,412.4 L592,412.3 L596,412.1 L600,412 L604,411.8 L608,411.7 L612,411.5 L616,411.3 L620,411.2 L624,411 L628,410.8 L632,410.6 L636,410.4 L640,410.2 L644,410 L648,409.8 L652,409.6 L656,409.4 L660,409.2 L664,409 L668,408.8 L672,408.5 L676,408.3 L680,408.1 L684,407.9 L688,407.6 L692,407.4 L696,407.1 L700,406.9 L704,406.6 L708,406.4 L712,406.1 L716,405.9 L720,405.6 L724,405.3 L728,405.1 L732,404.8 L736,404.5 L740,404.2 L744,403.9 L748,403.7 L752,403.4 L756,403.1 L760,402.8 L764,402.4 L768,402.1 L772,401.8 L776,401.5 L780,401.1 L784,400.8 L788,400.4 L792,400.1 L796,399.7 L800,399.3 L804,398.9 L808,398.6 L812,398.2 L816,397.8 L820,397.4 L824,397 L828,396.5 L832,396.1 L836,395.7 L840,395.3 L844,394.8 L848,394.4 L852,394 L856,393.5 L860,393 L864,392.6 L868,392.1 L872,391.7 L876,391.2 L880,390.7 L884,390.2 L888,389.8 L892,389.3 L896,388.8 L900,388.3 L904,387.8 L908,387.3 L912,386.7 L916,386.2 L920,385.6 L924,385 L928,384.5 L932,383.9 L936,383.3 L940,382.6 L944,382 L948,381.4 L952,380.7 L956,380.1 L960,379.5 L964,378.8 L968,378.1 L972,377.5 L976,376.8 L980,376.2 L984,375.5 L988,374.9 L992,374.2 L996,373.5 L1000,372.9 L1004,372.2 L1008,371.6 L1012,370.9 L1016,370.3 L1020,369.6 L1024,368.9 L1028,368.3 L1032,367.6 L1036,366.9 L1040,366.2 L1044,365.5 L1048,364.8 L1052,364.1 L1056,363.3 L1060,362.6 L1064,361.8 L1068,361.1 L1072,360.3 L1076,359.5 L1080,358.8 L1084,358 L1088,357.2 L1092,356.4 L1096,355.6 L1100,354.9 L1104,354.1 L1108,353.3 L1112,352.6 L1116,351.8 L1120,351 L1124,350.3 L1128,349.5 L1132,348.7 L1136,348 L1140,347.2 L1144,346.4 L1148,345.7 L1152,344.9 L1156,344.1 L1160,343.3 L1164,342.5 L1168,341.8 L1172,341 L1176,340.2 L1180,339.4 L1184,338.7 L1188,337.9 L1192,337.2 L1196,336.5 L1200,335.8 L1204,335.1 L1208,334.4 L1212,333.8 L1216,333.1 L1220,332.5 L1224,331.8 L1228,331.2 L1232,330.6 L1236,330 L1240,329.4 L1244,328.8 L1248,328.2 L1252,327.6 L1256,327.1 L1260,326.5 L1262.5,326.2" fill="none" stroke="#000" stroke-width="2.15" stroke-linejoin="round"/>
<path d="M1262,325.2 L1262.9,325.1 L1263.8,324.9 L1264.7,324.8 L1265.6,324.6 L1266.5,324.5 L1267.4,324.4 L1268.3,324.2 L1269.2,324.1 L1270.1,324 L1271,323.9 L1271.9,323.7 L1272.8,323.6 L1273.7,323.5 L1274.6,323.3 L1275.5,323.2 L1276.4,323.2 L1277.3,322.9 L1278.2,322.8 L1279.1,322.6 L1280,322.6 L1280.9,322.4 L1281.8,322.3 L1282.7,322.3 L1283.6,322.1 L1284.5,322 L1285.4,321.9 L1286.3,321.7 L1287.2,321.5 L1288.1,321.3 L1289,321.3 L1289.9,321.1 L1290.8,321.1 L1291.7,321 L1292.6,320.7 L1293.5,320.6 L1294.4,320.4 L1295.3,320.6 L1296.2,320.2 L1297.1,320.2 L1298,320.2 L1298.9,320 L1299.8,319.7 L1300.7,319.7 L1301.6,319.6 L1302.5,319.7 L1303.4,319.4 L1304.3,319.3 L1305.2,319.3 L1306.1,319.2 L1307,318.6 L1307.9,318.7 L1308.8,318.4 L1309.7,318.4 L1310.6,318.4 L1311.5,318 L1312.4,318.3 L1313.3,318.2 L1314.2,317.6 L1315.1,317.7 L1316,317.8 L1316.9,317.2 L1317.8,317.1 L1318.7,317.4 L1319.6,317.3 L1320.5,316.6 L1321.4,316.9 L1322.3,316.3 L1323.2,316.2 L1324.1,316.4 L1325,316.1 L1325.9,316.2 L1326.8,316.1 L1327.7,316.3 L1328.6,315.8 L1329.5,315.9 L1330.4,315.5 L1331.3,315.4 L1332.2,315.6 L1333.1,315.6 L1334,315.5 L1334.9,306.5 L1335.8,307.4 L1336.7,307.7 L1337.6,308.7 L1338.5,308.5 L1339.4,308.2 L1340.3,309.9 L1341.2,308.3 L1342.1,308.6 L1343,308.3 L1343.9,308.6 L1344.8,308.8 L1345.7,310.9 L1346.6,310.6 L1347.5,310.9 L1348.4,311.3 L1349.3,311.2 L1350.2,311.6 L1351.1,310.1 L1352,310.5 L1352.9,311 L1353.8,311.2 L1354.7,311 L1355.6,311.1 L1356.5,311.9 L1357.4,312.3 L1358.3,311.5 L1359.2,312.7 L1360.1,311.8 L1361,311.6 L1361.9,311.3 L1362.8,312.7 L1363.7,310.7 L1364.6,311.3 L1365.5,311.2 L1366.4,311.4 L1367.3,311.5 L1368.2,311.7 L1369.1,308.6 L1370,311.6 L1370.9,311.3 L1371.8,311.9 L1372.7,308.3 L1373.6,311.6 L1374.5,310.1 L1375.4,310.5 L1376.3,310 L1377.2,311.4 L1378.1,310.7 L1379,310.5 L1379.9,310.8 L1380.8,311.2 L1381.7,309.9 L1382.6,309.7 L1383.5,310.4 L1384.4,308.6 L1385.3,310.6 L1386.2,309.3 L1387.1,308.3 L1388,310.7 L1388.9,309.6 L1389.8,309.8 L1390.7,307.8 L1391.6,308.8 L1392.5,309.7 L1393.4,309.4 L1394.3,308.8 L1395.2,309.1 L1396.1,309.9 L1397,308.5 L1397.9,306.6 L1398.8,308.6 L1399.7,308.9 L1400.6,308.8 L1401.5,309.8 L1402.4,310.2 L1403.3,308.5 L1404.2,306.7 L1405.1,308.8 L1406,309.6 L1406.9,308.2 L1407.8,308.8 L1408.7,308.4 L1409.6,308.1 L1410.5,308.6 L1411.4,307.7 L1412.3,309.5 L1413.2,308.3 L1414.1,308.6 L1415,308.5 L1415.9,308.6 L1416.8,308.5 L1417.7,307.7 L1418.6,308.1 L1419.5,307.3 L1420.4,308.3 L1421.3,304.5 L1422.2,308 L1423.1,307.5 L1424,307.8 L1424.9,306.6 L1425.8,308.7 L1426.7,308.3 L1427.6,307.6 L1428.5,306.9 L1429.4,305.5 L1430.3,306.6 L1431.2,306.3 L1432.1,308.1 L1433,307 L1433.9,308.1 L1434.8,308.3 L1435.7,307.8 L1436.6,308.2 L1437.5,306.8 L1438.4,305.9 L1439.3,308.2 L1440.2,306.1 L1441.1,307.7 L1442,307.4 L1442.9,307 L1443.8,307.7 L1444.7,307.3 L1445.6,305.3 L1446.5,305.8 L1447.4,306.4 L1448.3,305.7 L1449.2,306 L1450.1,306.8 L1451,307.2 L1451.9,305.6 L1452.8,307.5 L1453.7,307.5 L1454.6,305.3 L1455.5,307.4 L1456.4,305.5 L1457.3,305.3 L1458.2,305.6 L1459.1,306.3 L1460,306.1 L1460.9,305 L1461.8,305.9 L1462.7,306 L1463.6,306.9 L1464.5,305.9 L1465.4,306.3 L1466.3,307 L1467.2,306.8 L1468.1,306.7 L1469,305.9 L1469.9,306.8 L1470.8,306.8 L1471.7,304.9 L1472.6,304 L1473.5,306.7 L1474.4,306.3 L1475.3,306.3 L1476.2,304.6 L1477.1,306.3 L1478,304.4 L1478.9,306.6 L1479.8,302.6 L1480.7,306.8 L1481.6,305.6 L1482.5,304.1 L1483.4,304.7 L1484.3,305.5 L1485.2,304.2 L1486.1,305.4 L1487,306.3 L1487.9,304.8 L1488.8,305.9 L1489.7,305.8 L1490.6,304.5 L1491.5,305 L1492.4,305 L1493.3,306 L1494.2,305.7 L1495.1,306.4 L1496,304.5 L1496.9,306.3 L1497.8,303.9 L1498.7,306.4 L1499.6,304.7 L1500.5,306.4 L1501.4,303.9 L1501.4,316.4 L1500.5,314.8 L1499.6,314.8 L1498.7,314 L1497.8,314.4 L1496.9,314.7 L1496,314.1 L1495.1,314.5 L1494.2,314.7 L1493.3,314 L1492.4,316.3 L1491.5,314 L1490.6,315.6 L1489.7,316.9 L1488.8,314.1 L1487.9,315.2 L1487,313.7 L1486.1,314.4 L1485.2,314.4 L1484.3,315.5 L1483.4,315.4 L1482.5,313.9 L1481.6,314.7 L1480.7,317.3 L1479.8,313.8 L1478.9,315.6 L1478,313.9 L1477.1,313.9 L1476.2,315.5 L1475.3,314.5 L1474.4,313.7 L1473.5,314.6 L1472.6,315.2 L1471.7,315.4 L1470.8,315.3 L1469.9,314.4 L1469,314.8 L1468.1,315.8 L1467.2,316.8 L1466.3,316.6 L1465.4,314.9 L1464.5,315.3 L1463.6,315 L1462.7,314.2 L1461.8,315.3 L1460.9,315 L1460,314.7 L1459.1,314.8 L1458.2,314.1 L1457.3,314 L1456.4,314.1 L1455.5,314.2 L1454.6,314.5 L1453.7,314.9 L1452.8,314.5 L1451.9,314.9 L1451,315.5 L1450.1,314.1 L1449.2,314.8 L1448.3,314.7 L1447.4,314.7 L1446.5,314.3 L1445.6,317.5 L1444.7,316 L1443.8,315.7 L1442.9,314.3 L1442,315.9 L1441.1,314.9 L1440.2,316.8 L1439.3,315.7 L1438.4,315.5 L1437.5,315.6 L1436.6,316 L1435.7,317.6 L1434.8,315.7 L1433.9,316.2 L1433,315.3 L1432.1,315.1 L1431.2,316.6 L1430.3,314.9 L1429.4,315.6 L1428.5,316.1 L1427.6,316.4 L1426.7,315 L1425.8,315.6 L1424.9,315.4 L1424,315.8 L1423.1,315.6 L1422.2,315.1 L1421.3,316.4 L1420.4,316 L1419.5,315.9 L1418.6,315.5 L1417.7,315.3 L1416.8,315.7 L1415.9,316.3 L1415,317 L1414.1,315.6 L1413.2,316.5 L1412.3,316.1 L1411.4,316.8 L1410.5,316.1 L1409.6,316.2 L1408.7,316.3 L1407.8,316.7 L1406.9,316.8 L1406,317.2 L1405.1,315.8 L1404.2,317.3 L1403.3,318.5 L1402.4,317.5 L1401.5,318.9 L1400.6,317.3 L1399.7,317.6 L1398.8,316.5 L1397.9,316.9 L1397,317.1 L1396.1,316.4 L1395.2,317.6 L1394.3,317.5 L1393.4,316.4 L1392.5,318.5 L1391.6,316.7 L1390.7,320.4 L1389.8,317.4 L1388.9,316.9 L1388,317.9 L1387.1,316.7 L1386.2,318.1 L1385.3,320.4 L1384.4,319.3 L1383.5,317.9 L1382.6,318.3 L1381.7,318.1 L1380.8,318.1 L1379.9,318.2 L1379,317.5 L1378.1,319.9 L1377.2,318.2 L1376.3,318.3 L1375.4,318.2 L1374.5,317.3 L1373.6,317.6 L1372.7,317.8 L1371.8,318.4 L1370.9,318.7 L1370,318.7 L1369.1,317.6 L1368.2,317.6 L1367.3,317.7 L1366.4,317.9 L1365.5,318.9 L1364.6,317.8 L1363.7,318.3 L1362.8,318.8 L1361.9,319.2 L1361,319.1 L1360.1,320.9 L1359.2,319.2 L1358.3,318.5 L1357.4,318.8 L1356.5,318.5 L1355.6,318.2 L1354.7,319.4 L1353.8,318.3 L1352.9,318.6 L1352,319.2 L1351.1,319.1 L1350.2,318.9 L1349.3,319.4 L1348.4,319.4 L1347.5,319.4 L1346.6,319.1 L1345.7,318.9 L1344.8,319 L1343.9,319.6 L1343,320 L1342.1,319.3 L1341.2,320.2 L1340.3,319.8 L1339.4,319.6 L1338.5,320.2 L1337.6,320.6 L1336.7,320.3 L1335.8,320.2 L1334.9,319.8 L1334,320 L1333.1,319.5 L1332.2,319.8 L1331.3,320.2 L1330.4,320.1 L1329.5,320.3 L1328.6,320.4 L1327.7,320.2 L1326.8,320.6 L1325.9,320.6 L1325,320.5 L1324.1,320.8 L1323.2,320.7 L1322.3,320.7 L1321.4,320.7 L1320.5,321 L1319.6,320.9 L1318.7,321.1 L1317.8,321.1 L1316.9,321.3 L1316,321.5 L1315.1,321.7 L1314.2,321.4 L1313.3,321.8 L1312.4,322 L1311.5,322.1 L1310.6,322 L1309.7,322.2 L1308.8,322.2 L1307.9,322.3 L1307,322.5 L1306.1,322.4 L1305.2,322.6 L1304.3,322.8 L1303.4,322.8 L1302.5,323.1 L1301.6,322.9 L1300.7,323.1 L1299.8,323.3 L1298.9,323.2 L1298,323.5 L1297.1,323.4 L1296.2,323.7 L1295.3,323.8 L1294.4,323.8 L1293.5,323.8 L1292.6,323.9 L1291.7,323.9 L1290.8,324.1 L1289.9,324.1 L1289,324.4 L1288.1,324.5 L1287.2,324.5 L1286.3,324.5 L1285.4,324.7 L1284.5,324.8 L1283.6,325 L1282.7,325 L1281.8,325.1 L1280.9,325.3 L1280,325.4 L1279.1,325.3 L1278.2,325.4 L1277.3,325.5 L1276.4,325.6 L1275.5,325.7 L1274.6,325.9 L1273.7,326 L1272.8,326.1 L1271.9,326.1 L1271,326.2 L1270.1,326.4 L1269.2,326.5 L1268.3,326.6 L1267.4,326.7 L1266.5,326.8 L1265.6,326.9 L1264.7,327 L1263.8,327.1 L1262.9,327.2 L1262,327.3Z" fill="#000" stroke="#000" stroke-width="0.5" stroke-linejoin="round"/>
</g>
<clipPath id="ob"><rect x="1214.7" y="439.2" width="14.9" height="438.9"/></clipPath>
<g clip-path="url(#ob)">
<rect x="1214.7" y="439.2" width="14.9" height="438.9" fill="#696969"/>
<path d="M1204.03,431.35H1239.6M1199.77,435.61H1239.6M1204.03,439.87H1239.6M1199.77,444.13H1239.6M1204.03,448.39H1239.6M1199.77,452.65H1239.6M1204.03,456.91H1239.6M1199.77,461.17H1239.6M1204.03,465.43H1239.6M1199.77,469.69H1239.6M1204.03,473.95H1239.6M1199.77,478.21H1239.6M1204.03,482.47H1239.6M1199.77,486.73H1239.6M1204.03,490.99H1239.6M1199.77,495.25H1239.6M1204.03,499.51H1239.6M1199.77,503.77H1239.6M1204.03,508.03H1239.6M1199.77,512.29H1239.6M1204.03,516.55H1239.6M1199.77,520.81H1239.6M1204.03,525.07H1239.6M1199.77,529.33H1239.6M1204.03,533.59H1239.6M1199.77,537.85H1239.6M1204.03,542.11H1239.6M1199.77,546.37H1239.6M1204.03,550.63H1239.6M1199.77,554.89H1239.6M1204.03,559.15H1239.6M1199.77,563.41H1239.6M1204.03,567.67H1239.6M1199.77,571.93H1239.6M1204.03,576.19H1239.6M1199.77,580.45H1239.6M1204.03,584.71H1239.6M1199.77,588.97H1239.6M1204.03,593.23H1239.6M1199.77,597.49H1239.6M1204.03,601.75H1239.6M1199.77,606.01H1239.6M1204.03,610.27H1239.6M1199.77,614.53H1239.6M1204.03,618.79H1239.6M1199.77,623.05H1239.6M1204.03,627.31H1239.6M1199.77,631.57H1239.6M1204.03,635.83H1239.6M1199.77,640.09H1239.6M1204.03,644.35H1239.6M1199.77,648.61H1239.6M1204.03,652.87H1239.6M1199.77,657.13H1239.6M1204.03,661.39H1239.6M1199.77,665.65H1239.6M1204.03,669.91H1239.6M1199.77,674.17H1239.6M1204.03,678.43H1239.6M1199.77,682.69H1239.6M1204.03,686.95H1239.6M1199.77,691.21H1239.6M1204.03,695.47H1239.6M1199.77,699.73H1239.6M1204.03,703.99H1239.6M1199.77,708.25H1239.6M1204.03,712.51H1239.6M1199.77,716.77H1239.6M1204.03,721.03H1239.6M1199.77,725.29H1239.6M1204.03,729.55H1239.6M1199.77,733.81H1239.6M1204.03,738.07H1239.6M1199.77,742.33H1239.6M1204.03,746.59H1239.6M1199.77,750.85H1239.6M1204.03,755.11H1239.6M1199.77,759.37H1239.6M1204.03,763.63H1239.6M1199.77,767.89H1239.6M1204.03,772.15H1239.6M1199.77,776.41H1239.6M1204.03,780.67H1239.6M1199.77,784.93H1239.6M1204.03,789.19H1239.6M1199.77,793.45H1239.6M1204.03,797.71H1239.6M1199.77,801.97H1239.6M1204.03,806.23H1239.6M1199.77,810.49H1239.6M1204.03,814.75H1239.6M1199.77,819.01H1239.6M1204.03,823.27H1239.6M1199.77,827.53H1239.6M1204.03,831.79H1239.6M1199.77,836.05H1239.6M1204.03,840.31H1239.6M1199.77,844.57H1239.6M1204.03,848.83H1239.6M1199.77,853.09H1239.6M1204.03,857.35H1239.6M1199.77,861.61H1239.6M1204.03,865.87H1239.6M1199.77,870.13H1239.6M1204.03,874.39H1239.6M1199.77,878.65H1239.6M1204.03,882.91H1239.6" stroke="#fff" stroke-width="3.0" stroke-dasharray="3.0 5.52" fill="none"/>
<path d="M1200.57,431.35H1239.6M1204.83,435.61H1239.6M1200.57,439.87H1239.6M1204.83,444.13H1239.6M1200.57,448.39H1239.6M1204.83,452.65H1239.6M1200.57,456.91H1239.6M1204.83,461.17H1239.6M1200.57,465.43H1239.6M1204.83,469.69H1239.6M1200.57,473.95H1239.6M1204.83,478.21H1239.6M1200.57,482.47H1239.6M1204.83,486.73H1239.6M1200.57,490.99H1239.6M1204.83,495.25H1239.6M1200.57,499.51H1239.6M1204.83,503.77H1239.6M1200.57,508.03H1239.6M1204.83,512.29H1239.6M1200.57,516.55H1239.6M1204.83,520.81H1239.6M1200.57,525.07H1239.6M1204.83,529.33H1239.6M1200.57,533.59H1239.6M1204.83,537.85H1239.6M1200.57,542.11H1239.6M1204.83,546.37H1239.6M1200.57,550.63H1239.6M1204.83,554.89H1239.6M1200.57,559.15H1239.6M1204.83,563.41H1239.6M1200.57,567.67H1239.6M1204.83,571.93H1239.6M1200.57,576.19H1239.6M1204.83,580.45H1239.6M1200.57,584.71H1239.6M1204.83,588.97H1239.6M1200.57,593.23H1239.6M1204.83,597.49H1239.6M1200.57,601.75H1239.6M1204.83,606.01H1239.6M1200.57,610.27H1239.6M1204.83,614.53H1239.6M1200.57,618.79H1239.6M1204.83,623.05H1239.6M1200.57,627.31H1239.6M1204.83,631.57H1239.6M1200.57,635.83H1239.6M1204.83,640.09H1239.6M1200.57,644.35H1239.6M1204.83,648.61H1239.6M1200.57,652.87H1239.6M1204.83,657.13H1239.6M1200.57,661.39H1239.6M1204.83,665.65H1239.6M1200.57,669.91H1239.6M1204.83,674.17H1239.6M1200.57,678.43H1239.6M1204.83,682.69H1239.6M1200.57,686.95H1239.6M1204.83,691.21H1239.6M1200.57,695.47H1239.6M1204.83,699.73H1239.6M1200.57,703.99H1239.6M1204.83,708.25H1239.6M1200.57,712.51H1239.6M1204.83,716.77H1239.6M1200.57,721.03H1239.6M1204.83,725.29H1239.6M1200.57,729.55H1239.6M1204.83,733.81H1239.6M1200.57,738.07H1239.6M1204.83,742.33H1239.6M1200.57,746.59H1239.6M1204.83,750.85H1239.6M1200.57,755.11H1239.6M1204.83,759.37H1239.6M1200.57,763.63H1239.6M1204.83,767.89H1239.6M1200.57,772.15H1239.6M1204.83,776.41H1239.6M1200.57,780.67H1239.6M1204.83,784.93H1239.6M1200.57,789.19H1239.6M1204.83,793.45H1239.6M1200.57,797.71H1239.6M1204.83,801.97H1239.6M1200.57,806.23H1239.6M1204.83,810.49H1239.6M1200.57,814.75H1239.6M1204.83,819.01H1239.6M1200.57,823.27H1239.6M1204.83,827.53H1239.6M1200.57,831.79H1239.6M1204.83,836.05H1239.6M1200.57,840.31H1239.6M1204.83,844.57H1239.6M1200.57,848.83H1239.6M1204.83,853.09H1239.6M1200.57,857.35H1239.6M1204.83,861.61H1239.6M1200.57,865.87H1239.6M1204.83,870.13H1239.6M1200.57,874.39H1239.6M1204.83,878.65H1239.6M1200.57,882.91H1239.6" stroke="#fff" stroke-opacity="0.22" stroke-width="1.4" stroke-dasharray="1.4 7.119999999999999" fill="none"/>
</g>
<clipPath id="hb"><rect x="1229.6" y="439.2" width="270.7" height="438.9"/></clipPath>
<g clip-path="url(#hb)" stroke="#696969" fill="none">
<path d="M1218.31,422.83H1510.3M1214.05,431.35H1510.3M1218.31,439.87H1510.3M1214.05,448.39H1510.3M1218.31,456.91H1510.3M1214.05,465.43H1510.3M1218.31,473.95H1510.3M1214.05,482.47H1510.3M1218.31,490.99H1510.3M1214.05,499.51H1510.3M1218.31,508.03H1510.3M1214.05,516.55H1510.3M1218.31,525.07H1510.3M1214.05,533.59H1510.3M1218.31,542.11H1510.3M1214.05,550.63H1510.3M1218.31,559.15H1510.3M1214.05,567.67H1510.3M1218.31,576.19H1510.3M1214.05,584.71H1510.3M1218.31,593.23H1510.3M1214.05,601.75H1510.3M1218.31,610.27H1510.3M1214.05,618.79H1510.3M1218.31,627.31H1510.3M1214.05,635.83H1510.3M1218.31,644.35H1510.3M1214.05,652.87H1510.3M1218.31,661.39H1510.3M1214.05,669.91H1510.3M1218.31,678.43H1510.3M1214.05,686.95H1510.3M1218.31,695.47H1510.3M1214.05,703.99H1510.3M1218.31,712.51H1510.3M1214.05,721.03H1510.3M1218.31,729.55H1510.3M1214.05,738.07H1510.3M1218.31,746.59H1510.3M1214.05,755.11H1510.3M1218.31,763.63H1510.3M1214.05,772.15H1510.3M1218.31,780.67H1510.3M1214.05,789.19H1510.3M1218.31,797.71H1510.3M1214.05,806.23H1510.3M1218.31,814.75H1510.3M1214.05,823.27H1510.3M1218.31,831.79H1510.3M1214.05,840.31H1510.3M1218.31,848.83H1510.3M1214.05,857.35H1510.3M1218.31,865.87H1510.3M1214.05,874.39H1510.3M1218.31,882.91H1510.3M1214.05,891.43H1510.3" stroke-width="3.3" stroke-linecap="round" stroke-dasharray="0 8.52"/>
<path d="M1224.6,113.88L1505.3,394.58M1224.6,147.96L1505.3,428.66M1224.6,182.04L1505.3,462.74M1224.6,216.12L1505.3,496.82M1224.6,250.20L1505.3,530.90M1224.6,284.28L1505.3,564.98M1224.6,318.36L1505.3,599.06M1224.6,352.44L1505.3,633.14M1224.6,386.52L1505.3,667.22M1224.6,420.60L1505.3,701.30M1224.6,454.68L1505.3,735.38M1224.6,488.76L1505.3,769.46M1224.6,522.84L1505.3,803.54M1224.6,556.92L1505.3,837.62M1224.6,591.00L1505.3,871.70M1224.6,625.08L1505.3,905.78M1224.6,659.16L1505.3,939.86M1224.6,693.24L1505.3,973.94M1224.6,727.32L1505.3,1008.02M1224.6,761.40L1505.3,1042.10M1224.6,795.48L1505.3,1076.18M1224.6,829.56L1505.3,1110.26M1224.6,863.64L1505.3,1144.34M1224.6,897.72L1505.3,1178.42M1224.6,931.80L1505.3,1212.50M1224.6,390.98L1505.3,110.28M1224.6,425.06L1505.3,144.36M1224.6,459.14L1505.3,178.44M1224.6,493.22L1505.3,212.52M1224.6,527.30L1505.3,246.60M1224.6,561.38L1505.3,280.68M1224.6,595.46L1505.3,314.76M1224.6,629.54L1505.3,348.84M1224.6,663.62L1505.3,382.92M1224.6,697.70L1505.3,417.00M1224.6,731.78L1505.3,451.08M1224.6,765.86L1505.3,485.16M1224.6,799.94L1505.3,519.24M1224.6,834.02L1505.3,553.32M1224.6,868.10L1505.3,587.40M1224.6,902.18L1505.3,621.48M1224.6,936.26L1505.3,655.56M1224.6,970.34L1505.3,689.64M1224.6,1004.42L1505.3,723.72M1224.6,1038.50L1505.3,757.80M1224.6,1072.58L1505.3,791.88M1224.6,1106.66L1505.3,825.96M1224.6,1140.74L1505.3,860.04M1224.6,1174.82L1505.3,894.12M1224.6,1208.90L1505.3,928.20" stroke-width="1.4"/>
</g>
<g clip-path="url(#cb)">
<path d="M99.4,728.5 L103.4,728.4 L107.4,728.4 L111.4,728.4 L115.4,728.4 L119.4,728.4 L123.4,728.4 L127.4,728.4 L131.4,728.4 L135.4,728.3 L139.4,728.3 L143.4,728.3 L147.4,728.3 L151.4,728.2 L155.4,728.2 L159.4,728.2 L163.4,728.1 L167.4,728.1 L171.4,728.1 L175.4,728 L179.4,728 L183.4,727.9 L187.4,727.9 L191.4,727.8 L195.4,727.8 L199.4,727.7 L203.4,727.7 L207.4,727.6 L211.4,727.6 L215.4,727.5 L219.4,727.5 L223.4,727.4 L227.4,727.3 L231.4,727.3 L235.4,727.2 L239.4,727.2 L243.4,727.1 L247.4,727 L251.4,727 L255.4,726.9 L259.4,726.8 L263.4,726.8 L267.4,726.7 L271.4,726.6 L275.4,726.6 L279.4,726.5 L283.4,726.4 L287.4,726.4 L291.4,726.3 L295.4,726.2 L299.4,726.1 L303.4,726 L307.4,725.9 L311.4,725.8 L315.4,725.7 L319.4,725.6 L323.4,725.5 L327.4,725.4 L331.4,725.3 L335.4,725.1 L339.4,725 L343.4,724.9 L347.4,724.7 L351.4,724.6 L355.4,724.5 L359.4,724.3 L363.4,724.2 L367.4,724 L371.4,723.9 L375.4,723.7 L379.4,723.6 L383.4,723.4 L387.4,723.3 L391.4,723.1 L395.4,723 L399.4,722.8 L403.4,722.7 L407.4,722.5 L411.4,722.3 L415.4,722.2 L419.4,722 L423.4,721.8 L427.4,721.7 L431.4,721.5 L435.4,721.3 L439.4,721.1 L443.4,720.9 L447.4,720.7 L451.4,720.5 L455.4,720.3 L459.4,720.1 L463.4,719.9 L467.4,719.7 L471.4,719.5 L475.4,719.3 L479.4,719.1 L483.4,718.9 L487.4,718.6 L491.4,718.4 L495.4,718.2 L499.4,717.9 L503.4,717.7 L507.4,717.5 L508.7,717.4 L511.2,717.2 L515.2,717 L519.2,716.7 L523.2,716.5 L527.2,716.2 L531.2,716 L535.2,715.7 L539.2,715.4 L543.2,715.2 L547.2,714.9 L551.2,714.6 L555.2,714.3 L559.2,714.1 L563.2,713.8 L567.2,713.5 L571.2,713.2 L575.2,712.9 L579.2,712.6 L583.2,712.3 L587.2,711.9 L591.2,711.6 L595.2,711.3 L599.2,710.9 L603.2,710.6 L607.2,710.2 L611.2,709.9 L615.2,709.5 L619.2,709.2 L623.2,708.8 L627.2,708.4 L631.2,708 L635.2,707.6 L639.2,707.2 L643.2,706.8 L647.2,706.4 L651.2,706 L655.2,705.5 L659.2,705.1 L663.2,704.6 L667.2,704.2 L671.2,703.7 L675.2,703.3 L679.2,702.8 L683.2,702.3 L687.2,701.8 L691.2,701.3 L695.2,700.8 L699.2,700.3 L703.2,699.8 L707.2,699.2 L711.2,698.7 L715.2,698.1 L719.2,697.5 L723.2,696.9 L727.2,696.3 L731.2,695.7 L735.2,695.1 L739.2,694.4 L743.2,693.7 L747.2,693.1 L751.2,692.4 L755.2,691.7 L759.2,691 L763.2,690.2 L767.2,689.5 L771.2,688.7 L775.2,688 L779.2,687.2 L783.2,686.4 L787.2,685.6 L791.2,684.8 L795.2,684 L799.2,683.1 L803.2,682.3 L807.2,681.4 L811.2,680.6 L815.2,679.7 L819.2,678.8 L823.2,677.9 L827.2,677 L831.2,676.1 L835.2,675.2 L839.2,674.2 L843.2,673.3 L847.2,672.4 L851.2,671.4 L855.2,670.4 L859.2,669.4 L863.2,668.4 L867.2,667.4 L871.2,666.3 L875.2,665.2 L879.2,664.1 L883.2,663 L887.2,661.8 L891.2,660.6 L895.2,659.4 L899.2,658.2 L903.2,657 L907.2,655.8 L911.2,654.5 L915.2,653.2 L919.2,651.9 L923.2,650.6 L927.2,649.3 L931.2,648 L935.2,646.6 L939.2,645.3 L943.2,643.9 L947.2,642.5 L951.2,641.1 L955.2,639.7 L959.2,638.3 L963.2,636.9 L967.2,635.5 L971.2,634.1 L975.2,632.6 L979.2,631.2 L983.2,629.8 L987.2,628.3 L991.2,626.9 L995.2,625.4 L999.2,624 L1003.2,622.5 L1007.2,621.1 L1011.2,619.6 L1015.2,618 L1019.2,616.5 L1023.2,615 L1027.2,613.4 L1031.2,611.8 L1035.2,610.2 L1039.2,608.6 L1043.2,607 L1047.2,605.3 L1051.2,603.7 L1055.2,602 L1059.2,600.4 L1063.2,598.7 L1067.2,597 L1071.2,595.3 L1075.2,593.6 L1079.2,591.9 L1083.2,590.1 L1087.2,588.4 L1091.2,586.7 L1095.2,584.9 L1099.2,583.2 L1103.2,581.4 L1107.2,579.7 L1111.2,578 L1115.2,576.2 L1119.2,574.5 L1123.2,572.7 L1127.2,571 L1131.2,569.2 L1135.2,567.5 L1139.2,565.8 L1143.2,564 L1147.2,562.3 L1151.2,560.6 L1155.2,558.8 L1159.2,557 L1163.2,555.1 L1167.2,553.3 L1171.2,551.4 L1175.2,549.5 L1179.2,547.6 L1183.2,545.7 L1187.2,543.8 L1191.2,542 L1195.2,540.2 L1199.2,538.5 L1203.2,536.9 L1207.2,535.3 L1211.2,533.9 L1215.2,532.5 L1219.2,531.3 L1223.2,530.1 L1227.2,529 L1229,527.4 L1229.9,527.2 L1230.8,526.9 L1231.7,526.6 L1232.6,526.4 L1233.5,526.2 L1234.4,525.9 L1235.3,525.6 L1236.2,525.4 L1237.1,525.2 L1238,524.8 L1238.9,524.7 L1239.8,524.4 L1240.7,524.1 L1241.6,523.9 L1242.5,523.6 L1243.4,523.3 L1244.3,523.2 L1245.2,522.8 L1246.1,522.8 L1247,522.3 L1247.9,522.3 L1248.8,521.9 L1249.7,521.5 L1250.6,521.5 L1251.5,521.2 L1252.4,520.8 L1253.3,520.6 L1254.2,520.3 L1255.1,520 L1256,519.9 L1256.9,519.6 L1257.8,519.4 L1258.7,519.3 L1259.6,519.1 L1260.5,518.7 L1261.4,518.5 L1262.3,518.3 L1263.2,517.7 L1264.1,517.7 L1265,517.5 L1265.9,517.3 L1266.8,517 L1267.7,516.4 L1268.6,516.3 L1269.5,516.3 L1270.4,516.3 L1271.3,515.6 L1272.2,515.4 L1273.1,514.9 L1274,514.8 L1274.9,514.4 L1275.8,514.3 L1276.7,514.2 L1277.6,514.3 L1278.5,514 L1279.4,513.9 L1280.3,513 L1281.2,513.5 L1282.1,513.2 L1283,512.6 L1283.9,512.4 L1284.8,512 L1285.7,512 L1286.6,511.3 L1287.5,511.2 L1288.4,510.8 L1289.3,511 L1290.2,510.5 L1291.1,510.8 L1292,510.7 L1292.9,509.5 L1293.8,510.1 L1294.7,509.9 L1295.6,509.2 L1296.5,509.5 L1297.4,508.5 L1298.3,509 L1299.2,508.2 L1300.1,507.7 L1301,507.8 L1301.9,507.5 L1302.8,507 L1303.7,506.5 L1304.6,506.9 L1305.5,506.2 L1306.4,506.1 L1307.3,505.9 L1308.2,505.7 L1309.1,505.7 L1310,505.4 L1310.9,505 L1311.8,504 L1312.7,503.7 L1313.6,504.6 L1314.5,504.4 L1315.4,504 L1316.3,503.6 L1317.2,502.6 L1318.1,503 L1319,503.3 L1319.9,501.7 L1320.8,501.6 L1321.7,502.2 L1322.6,502 L1323.5,502.2 L1324.4,501 L1325.3,501.7 L1326.2,496.1 L1327.1,493.4 L1328,496.9 L1328.9,491.5 L1329.8,492.9 L1330.7,492.1 L1331.6,491.8 L1332.5,491.9 L1333.4,492.8 L1334.3,495.2 L1335.2,493.3 L1336.1,491 L1337,495.3 L1337.9,491.6 L1338.8,493.4 L1339.7,485.1 L1340.6,485.8 L1341.5,490.8 L1342.4,495.3 L1343.3,493.8 L1344.2,492.5 L1345.1,483.7 L1346,484.4 L1346.9,491.7 L1347.8,490.9 L1348.7,489.9 L1349.6,486.6 L1350.5,487.2 L1351.4,492.2 L1352.3,494.9 L1353.2,494.9 L1354.1,459.1 L1355,477.6 L1355.9,478.6 L1356.8,458.1 L1357.7,459.9 L1358.6,480.6 L1359.5,481.5 L1360.4,476.6 L1361.3,477.6 L1362.2,489.6 L1363.1,490.1 L1364,493.8 L1364.9,494.9 L1365.8,490.6 L1366.7,491.1 L1367.6,490.3 L1368.5,498 L1369.4,492.3 L1370.3,496.3 L1371.2,496.4 L1372.1,498.2 L1373,497.4 L1373.9,497 L1374.8,495.6 L1375.7,497.2 L1376.6,497.3 L1377.5,496.1 L1378.4,497.3 L1379.3,497.1 L1380.2,492.9 L1381.1,492 L1382,492.1 L1382.9,495.2 L1383.8,493.5 L1384.7,495.5 L1385.6,495.4 L1386.5,493.9 L1387.4,492.2 L1388.3,492.7 L1389.2,493.4 L1390.1,493.5 L1391,493.1 L1391.9,492.7 L1392.8,492.4 L1393.7,491.4 L1394.6,490.3 L1395.5,491 L1396.4,488.2 L1397.3,486.3 L1398.2,490 L1399.1,490.3 L1400,486.8 L1400.9,487.1 L1401.8,486.4 L1402.7,490.1 L1403.6,491.6 L1404.5,489.7 L1405.4,490.2 L1406.3,489.7 L1407.2,489.5 L1408.1,486.8 L1409,486.9 L1409.9,488.6 L1410.8,489.4 L1411.7,490.8 L1412.6,481.1 L1413.5,481.6 L1414.4,488.5 L1415.3,489.6 L1416.2,488.5 L1417.1,488.2 L1418,488 L1418.9,488.7 L1419.8,488.7 L1420.7,489.3 L1421.6,489.1 L1422.5,474.6 L1423.4,475.5 L1424.3,485.1 L1425.2,482.6 L1426.1,483 L1427,489 L1427.9,474.5 L1428.8,475.3 L1429.7,484.9 L1430.6,488.4 L1431.5,487.1 L1432.4,486.6 L1433.3,489.5 L1434.2,489.5 L1435.1,488.1 L1436,488.5 L1436.9,488.6 L1437.8,488.5 L1438.7,489.1 L1439.6,481.1 L1440.5,481.6 L1441.4,488 L1442.3,486 L1443.2,482.6 L1444.1,482 L1445,482.5 L1445.9,488.3 L1446.8,487.3 L1447.7,482.4 L1448.6,488.2 L1449.5,488.1 L1450.4,485.9 L1451.3,487.5 L1452.2,484.9 L1453.1,487.1 L1454,486.2 L1454.9,483.6 L1455.8,482.5 L1456.7,485.7 L1457.6,487.3 L1458.5,485.4 L1459.4,488.5 L1460.3,483.3 L1461.2,482.5 L1462.1,486 L1463,487.6 L1463.9,483.2 L1464.8,488 L1465.7,486.6 L1466.6,479.3 L1467.5,479.9 L1468.4,486.8 L1469.3,484.7 L1470.2,487.8 L1471.1,485.4 L1472,484.5 L1472.9,486 L1473.8,486.5 L1474.7,487.2 L1475.6,485.9 L1476.5,483.8 L1477.4,482.1 L1478.3,484 L1479.2,483.9 L1480.1,483.9 L1481,485.2 L1481.9,484.3 L1482.8,486.5 L1483.7,487 L1484.6,486.1 L1485.5,485.7 L1486.4,486.4 L1487.3,485.2 L1488.2,482.8 L1489.1,483.2 L1490,485.9 L1490.9,485.3 L1491.8,483.8 L1492.7,482 L1493.6,485.7 L1494.5,478.4 L1495.4,478.4 L1496.3,477.3 L1497.2,481.2 L1498.1,479.9 L1499,478.4 L1499.9,479.3 L1500.8,481.3 L1500.8,855.3 L1499.9,855.9 L1499,854.9 L1498.1,855.3 L1497.2,856.2 L1496.3,855.8 L1495.4,855.7 L1494.5,855.1 L1493.6,855.3 L1492.7,855.9 L1491.8,855.8 L1490.9,854.4 L1490,854.8 L1489.1,854.6 L1488.2,855.8 L1487.3,855.6 L1486.4,855.7 L1485.5,855.4 L1484.6,855 L1483.7,855 L1482.8,854.9 L1481.9,855.2 L1481,854.6 L1480.1,855.7 L1479.2,855.5 L1478.3,854.3 L1477.4,854.8 L1476.5,855.4 L1475.6,855.8 L1474.7,854.4 L1473.8,855.5 L1472.9,854.5 L1472,854.9 L1471.1,855.6 L1470.2,855.6 L1469.3,855.5 L1468.4,854.9 L1467.5,854.9 L1466.6,854 L1465.7,854.5 L1464.8,854.2 L1463.9,854.8 L1463,855.6 L1462.1,855 L1461.2,855 L1460.3,855.5 L1459.4,854 L1458.5,854.3 L1457.6,854.3 L1456.7,855.3 L1455.8,854.9 L1454.9,854.1 L1454,853.8 L1453.1,854.8 L1452.2,854.9 L1451.3,854.3 L1450.4,854.8 L1449.5,855.2 L1448.6,853.6 L1447.7,854.9 L1446.8,854.2 L1445.9,854.8 L1445,854.2 L1444.1,853.7 L1443.2,853.6 L1442.3,854.6 L1441.4,854.9 L1440.5,853.4 L1439.6,853.9 L1438.7,854.9 L1437.8,853.5 L1436.9,853.6 L1436,853.9 L1435.1,854.4 L1434.2,854.3 L1433.3,853.6 L1432.4,853.3 L1431.5,854.1 L1430.6,853.5 L1429.7,853.4 L1428.8,853.9 L1427.9,853.9 L1427,854.1 L1426.1,854.1 L1425.2,854 L1424.3,852.7 L1423.4,853.2 L1422.5,853.7 L1421.6,853.8 L1420.7,852.4 L1419.8,854 L1418.9,852.7 L1418,854 L1417.1,854 L1416.2,852.4 L1415.3,852.6 L1414.4,852.3 L1413.5,853.8 L1412.6,852.6 L1411.7,852.6 L1410.8,852.2 L1409.9,852.5 L1409,852.5 L1408.1,852.8 L1407.2,852.4 L1406.3,853 L1405.4,852.7 L1404.5,852.4 L1403.6,853 L1402.7,853.3 L1401.8,852.2 L1400.9,852.8 L1400,852.6 L1399.1,851.6 L1398.2,852.6 L1397.3,851.8 L1396.4,851.9 L1395.5,852.9 L1394.6,852.5 L1393.7,853 L1392.8,852.3 L1391.9,852.4 L1391,852.7 L1390.1,851.5 L1389.2,852.1 L1388.3,852 L1387.4,852.3 L1386.5,852 L1385.6,852.5 L1384.7,852.3 L1383.8,852.3 L1382.9,852 L1382,852.6 L1381.1,851.1 L1380.2,852 L1379.3,851.8 L1378.4,851 L1377.5,852 L1376.6,850.8 L1375.7,851 L1374.8,852.3 L1373.9,852.4 L1373,852.4 L1372.1,851.9 L1371.2,852.1 L1370.3,852.3 L1369.4,851.8 L1368.5,850.4 L1367.6,852.7 L1366.7,852.6 L1365.8,854.7 L1364.9,853.1 L1364,855.1 L1363.1,853.9 L1362.2,853.4 L1361.3,853.6 L1360.4,855 L1359.5,853.4 L1358.6,854.2 L1357.7,853.7 L1356.8,852.4 L1355.9,852 L1355,854.2 L1354.1,852.4 L1353.2,854.3 L1352.3,853.7 L1351.4,850.7 L1350.5,851.2 L1349.6,851.2 L1348.7,850.2 L1347.8,850.5 L1346.9,850.5 L1346,851.2 L1345.1,850.4 L1344.2,851.3 L1343.3,850.7 L1342.4,850.4 L1341.5,850.7 L1340.6,850.4 L1339.7,850.1 L1338.8,850.9 L1337.9,850.5 L1337,850.2 L1336.1,849.6 L1335.2,850.7 L1334.3,850.1 L1333.4,849.9 L1332.5,849.6 L1331.6,850.9 L1330.7,850.6 L1329.8,849.7 L1328.9,850.3 L1328,850.6 L1327.1,851 L1326.2,850.5 L1325.3,849.5 L1324.4,849.4 L1323.5,848.9 L1322.6,849.9 L1321.7,849.8 L1320.8,849.6 L1319.9,848.9 L1319,849.2 L1318.1,849.4 L1317.2,849.9 L1316.3,849.5 L1315.4,849.2 L1314.5,849.4 L1313.6,849.3 L1312.7,849.4 L1311.8,848.7 L1310.9,849.8 L1310,849.5 L1309.1,849.7 L1308.2,849.2 L1307.3,849.6 L1306.4,849.4 L1305.5,848.8 L1304.6,849.1 L1303.7,849.4 L1302.8,848.9 L1301.9,849.4 L1301,848.7 L1300.1,849 L1299.2,849 L1298.3,849.1 L1297.4,849 L1296.5,849.2 L1295.6,848.7 L1294.7,848.8 L1293.8,848.5 L1292.9,848.3 L1292,848.5 L1291.1,849 L1290.2,848.2 L1289.3,848.7 L1288.4,848.2 L1287.5,848.1 L1286.6,847.9 L1285.7,848 L1284.8,847.8 L1283.9,847.6 L1283,847.7 L1282.1,847.4 L1281.2,847.3 L1280.3,847.1 L1279.4,847.5 L1278.5,846.9 L1277.6,847 L1276.7,846.9 L1275.8,847 L1274.9,846.4 L1274,846.3 L1273.1,846.6 L1272.2,846.5 L1271.3,845.8 L1270.4,845.8 L1269.5,845.7 L1268.6,845.7 L1267.7,845.3 L1266.8,845.4 L1265.9,845.4 L1265,845.3 L1264.1,845.1 L1263.2,844.8 L1262.3,844.9 L1261.4,844.6 L1260.5,844.4 L1259.6,844.3 L1258.7,844 L1257.8,844 L1256.9,843.7 L1256,843.9 L1255.1,843.5 L1254.2,843.3 L1253.3,843.2 L1252.4,843.3 L1251.5,843.2 L1250.6,842.8 L1249.7,843 L1248.8,842.7 L1247.9,842.6 L1247,842.5 L1246.1,842.2 L1245.2,842.2 L1244.3,842.1 L1243.4,842.1 L1242.5,841.9 L1241.6,841.7 L1240.7,841.5 L1239.8,841.5 L1238.9,841.4 L1238,841.3 L1237.1,841.1 L1236.2,841 L1235.3,840.9 L1234.4,840.7 L1233.5,840.6 L1232.6,840.5 L1231.7,840.4 L1230.8,840.2 L1229.9,840.1 L1229,840 L1227.2,838.7 L1223.2,838.2 L1219.2,837.8 L1215.2,837.3 L1211.2,836.9 L1207.2,836.4 L1203.2,836 L1199.2,835.6 L1195.2,835.2 L1191.2,834.7 L1187.2,834.3 L1183.2,833.9 L1179.2,833.5 L1175.2,833 L1171.2,832.6 L1167.2,832.1 L1163.2,831.7 L1159.2,831.2 L1155.2,830.7 L1151.2,830.2 L1147.2,829.6 L1143.2,829.1 L1139.2,828.5 L1135.2,827.9 L1131.2,827.3 L1127.2,826.7 L1123.2,826.1 L1119.2,825.4 L1115.2,824.8 L1111.2,824.1 L1107.2,823.5 L1103.2,822.8 L1099.2,822.1 L1095.2,821.4 L1091.2,820.7 L1087.2,820 L1083.2,819.2 L1079.2,818.5 L1075.2,817.7 L1071.2,817 L1067.2,816.3 L1063.2,815.5 L1059.2,814.7 L1055.2,814 L1051.2,813.2 L1047.2,812.4 L1043.2,811.7 L1039.2,810.9 L1035.2,810.1 L1031.2,809.3 L1027.2,808.5 L1023.2,807.8 L1019.2,807 L1015.2,806.2 L1011.2,805.4 L1007.2,804.7 L1003.2,803.9 L999.2,803.1 L995.2,802.4 L991.2,801.6 L987.2,800.8 L983.2,800 L979.2,799.2 L975.2,798.3 L971.2,797.5 L967.2,796.6 L963.2,795.8 L959.2,794.9 L955.2,794.1 L951.2,793.2 L947.2,792.3 L943.2,791.4 L939.2,790.6 L935.2,789.7 L931.2,788.8 L927.2,787.9 L923.2,787 L919.2,786.2 L915.2,785.3 L911.2,784.4 L907.2,783.6 L903.2,782.7 L899.2,781.9 L895.2,781.1 L891.2,780.2 L887.2,779.4 L883.2,778.6 L879.2,777.9 L875.2,777.1 L871.2,776.3 L867.2,775.6 L863.2,774.9 L859.2,774.2 L855.2,773.5 L851.2,772.8 L847.2,772.1 L843.2,771.5 L839.2,770.9 L835.2,770.2 L831.2,769.6 L827.2,769 L823.2,768.3 L819.2,767.7 L815.2,767.1 L811.2,766.5 L807.2,765.9 L803.2,765.3 L799.2,764.7 L795.2,764.1 L791.2,763.5 L787.2,763 L783.2,762.4 L779.2,761.8 L775.2,761.3 L771.2,760.7 L767.2,760.2 L763.2,759.7 L759.2,759.1 L755.2,758.6 L751.2,758.1 L747.2,757.6 L743.2,757.1 L739.2,756.6 L735.2,756.1 L731.2,755.7 L727.2,755.2 L723.2,754.8 L719.2,754.3 L715.2,753.9 L711.2,753.4 L707.2,753 L703.2,752.6 L699.2,752.2 L695.2,751.8 L691.2,751.4 L687.2,751 L683.2,750.7 L679.2,750.3 L675.2,749.9 L671.2,749.5 L667.2,749.2 L663.2,748.8 L659.2,748.5 L655.2,748.1 L651.2,747.8 L647.2,747.4 L643.2,747.1 L639.2,746.7 L635.2,746.4 L631.2,746.1 L627.2,745.8 L623.2,745.5 L619.2,745.1 L615.2,744.8 L611.2,744.5 L607.2,744.3 L603.2,744 L599.2,743.7 L595.2,743.4 L591.2,743.2 L587.2,742.9 L583.2,742.6 L579.2,742.4 L575.2,742.2 L571.2,741.9 L567.2,741.7 L563.2,741.5 L559.2,741.3 L555.2,741 L551.2,740.8 L547.2,740.6 L543.2,740.4 L539.2,740.2 L535.2,740 L531.2,739.8 L527.2,739.7 L523.2,739.5 L519.2,739.3 L515.2,739.1 L511.2,738.9 L508.7,738.8 L507.4,738.8 L503.4,738.6 L499.4,738.4 L495.4,738.2 L491.4,738.1 L487.4,737.9 L483.4,737.8 L479.4,737.6 L475.4,737.4 L471.4,737.3 L467.4,737.1 L463.4,737 L459.4,736.8 L455.4,736.7 L451.4,736.6 L447.4,736.4 L443.4,736.3 L439.4,736.2 L435.4,736 L431.4,735.9 L427.4,735.8 L423.4,735.7 L419.4,735.5 L415.4,735.4 L411.4,735.3 L407.4,735.2 L403.4,735.1 L399.4,735 L395.4,734.9 L391.4,734.8 L387.4,734.7 L383.4,734.6 L379.4,734.5 L375.4,734.4 L371.4,734.3 L367.4,734.2 L363.4,734.1 L359.4,734 L355.4,733.9 L351.4,733.9 L347.4,733.8 L343.4,733.7 L339.4,733.6 L335.4,733.5 L331.4,733.5 L327.4,733.4 L323.4,733.3 L319.4,733.2 L315.4,733.2 L311.4,733.1 L307.4,733 L303.4,733 L299.4,732.9 L295.4,732.8 L291.4,732.8 L287.4,732.7 L283.4,732.7 L279.4,732.6 L275.4,732.5 L271.4,732.5 L267.4,732.4 L263.4,732.4 L259.4,732.3 L255.4,732.2 L251.4,732.2 L247.4,732.1 L243.4,732.1 L239.4,732 L235.4,732 L231.4,731.9 L227.4,731.9 L223.4,731.8 L219.4,731.8 L215.4,731.7 L211.4,731.6 L207.4,731.6 L203.4,731.5 L199.4,731.5 L195.4,731.4 L191.4,731.4 L187.4,731.4 L183.4,731.3 L179.4,731.3 L175.4,731.2 L171.4,731.2 L167.4,731.1 L163.4,731.1 L159.4,731 L155.4,731 L151.4,731 L147.4,730.9 L143.4,730.9 L139.4,730.9 L135.4,730.8 L131.4,730.8 L127.4,730.8 L123.4,730.7 L119.4,730.7 L115.4,730.7 L111.4,730.6 L107.4,730.6 L103.4,730.6 L99.4,730.5Z" fill="#faac90" fill-opacity="0.63" stroke="none"/>
<path d="M99.4,728.5 L103.4,728.4 L107.4,728.4 L111.4,728.4 L115.4,728.4 L119.4,728.4 L123.4,728.4 L127.4,728.4 L131.4,728.4 L135.4,728.3 L139.4,728.3 L143.4,728.3 L147.4,728.3 L151.4,728.2 L155.4,728.2 L159.4,728.2 L163.4,728.1 L167.4,728.1 L171.4,728.1 L175.4,728 L179.4,728 L183.4,727.9 L187.4,727.9 L191.4,727.8 L195.4,727.8 L199.4,727.7 L203.4,727.7 L207.4,727.6 L211.4,727.6 L215.4,727.5 L219.4,727.5 L223.4,727.4 L227.4,727.3 L231.4,727.3 L235.4,727.2 L239.4,727.2 L243.4,727.1 L247.4,727 L251.4,727 L255.4,726.9 L259.4,726.8 L263.4,726.8 L267.4,726.7 L271.4,726.6 L275.4,726.6 L279.4,726.5 L283.4,726.4 L287.4,726.4 L291.4,726.3 L295.4,726.2 L299.4,726.1 L303.4,726 L307.4,725.9 L311.4,725.8 L315.4,725.7 L319.4,725.6 L323.4,725.5 L327.4,725.4 L331.4,725.3 L335.4,725.1 L339.4,725 L343.4,724.9 L347.4,724.7 L351.4,724.6 L355.4,724.5 L359.4,724.3 L363.4,724.2 L367.4,724 L371.4,723.9 L375.4,723.7 L379.4,723.6 L383.4,723.4 L387.4,723.3 L391.4,723.1 L395.4,723 L399.4,722.8 L403.4,722.7 L407.4,722.5 L411.4,722.3 L415.4,722.2 L419.4,722 L423.4,721.8 L427.4,721.7 L431.4,721.5 L435.4,721.3 L439.4,721.1 L443.4,720.9 L447.4,720.7 L451.4,720.5 L455.4,720.3 L459.4,720.1 L463.4,719.9 L467.4,719.7 L471.4,719.5 L475.4,719.3 L479.4,719.1 L483.4,718.9 L487.4,718.6 L491.4,718.4 L495.4,718.2 L499.4,717.9 L503.4,717.7 L507.4,717.5 L508.7,717.4" fill="none" stroke="#000" stroke-width="2.9" stroke-linejoin="round"/>
<path d="M507.2,717.5 L511.2,717.2 L515.2,717 L519.2,716.7 L523.2,716.5 L527.2,716.2 L531.2,716 L535.2,715.7 L539.2,715.4 L543.2,715.2 L547.2,714.9 L551.2,714.6 L555.2,714.3 L559.2,714.1 L563.2,713.8 L567.2,713.5 L571.2,713.2 L575.2,712.9 L579.2,712.6 L583.2,712.3 L587.2,711.9 L591.2,711.6 L595.2,711.3 L599.2,710.9 L603.2,710.6 L607.2,710.2 L611.2,709.9 L615.2,709.5 L619.2,709.2 L623.2,708.8 L627.2,708.4 L631.2,708 L635.2,707.6 L639.2,707.2 L643.2,706.8 L647.2,706.4 L651.2,706 L655.2,705.5 L659.2,705.1 L663.2,704.6 L667.2,704.2 L671.2,703.7 L675.2,703.3 L679.2,702.8 L683.2,702.3 L687.2,701.8 L691.2,701.3 L695.2,700.8 L699.2,700.3 L703.2,699.8 L707.2,699.2 L711.2,698.7 L715.2,698.1 L719.2,697.5 L723.2,696.9 L727.2,696.3 L731.2,695.7 L735.2,695.1 L739.2,694.4 L743.2,693.7 L747.2,693.1 L751.2,692.4 L755.2,691.7 L759.2,691 L763.2,690.2 L767.2,689.5 L771.2,688.7 L775.2,688 L779.2,687.2 L783.2,686.4 L787.2,685.6 L791.2,684.8 L795.2,684 L799.2,683.1 L803.2,682.3 L807.2,681.4 L811.2,680.6 L815.2,679.7 L819.2,678.8 L823.2,677.9 L827.2,677 L831.2,676.1 L835.2,675.2 L839.2,674.2 L843.2,673.3 L847.2,672.4 L851.2,671.4 L855.2,670.4 L859.2,669.4 L863.2,668.4 L867.2,667.4 L871.2,666.3 L875.2,665.2 L879.2,664.1 L883.2,663 L887.2,661.8 L891.2,660.6 L895.2,659.4 L899.2,658.2 L903.2,657 L907.2,655.8 L911.2,654.5 L915.2,653.2 L919.2,651.9 L923.2,650.6 L927.2,649.3 L931.2,648 L935.2,646.6 L939.2,645.3 L943.2,643.9 L947.2,642.5 L951.2,641.1 L955.2,639.7 L959.2,638.3 L963.2,636.9 L967.2,635.5 L971.2,634.1 L975.2,632.6 L979.2,631.2 L983.2,629.8 L987.2,628.3 L991.2,626.9 L995.2,625.4 L999.2,624 L1003.2,622.5 L1007.2,621.1 L1011.2,619.6 L1015.2,618 L1019.2,616.5 L1023.2,615 L1027.2,613.4 L1031.2,611.8 L1035.2,610.2 L1039.2,608.6 L1043.2,607 L1047.2,605.3 L1051.2,603.7 L1055.2,602 L1059.2,600.4 L1063.2,598.7 L1067.2,597 L1071.2,595.3 L1075.2,593.6 L1079.2,591.9 L1083.2,590.1 L1087.2,588.4 L1091.2,586.7 L1095.2,584.9 L1099.2,583.2 L1103.2,581.4 L1107.2,579.7 L1111.2,578 L1115.2,576.2 L1119.2,574.5 L1123.2,572.7 L1127.2,571 L1131.2,569.2 L1135.2,567.5 L1139.2,565.8 L1143.2,564 L1147.2,562.3 L1151.2,560.6 L1155.2,558.8 L1159.2,557 L1163.2,555.1 L1167.2,553.3 L1171.2,551.4 L1175.2,549.5 L1179.2,547.6 L1183.2,545.7 L1187.2,543.8 L1191.2,542 L1195.2,540.2 L1199.2,538.5 L1203.2,536.9 L1207.2,535.3 L1211.2,533.9 L1215.2,532.5 L1219.2,531.3 L1223.2,530.1 L1227.2,529 L1229.5,528.4" fill="none" stroke="#000" stroke-width="2.15" stroke-linejoin="round"/>
<path d="M1229,527.4 L1229.9,527.2 L1230.8,526.9 L1231.7,526.6 L1232.6,526.4 L1233.5,526.2 L1234.4,525.9 L1235.3,525.6 L1236.2,525.4 L1237.1,525.2 L1238,524.8 L1238.9,524.7 L1239.8,524.4 L1240.7,524.1 L1241.6,523.9 L1242.5,523.6 L1243.4,523.3 L1244.3,523.2 L1245.2,522.8 L1246.1,522.8 L1247,522.3 L1247.9,522.3 L1248.8,521.9 L1249.7,521.5 L1250.6,521.5 L1251.5,521.2 L1252.4,520.8 L1253.3,520.6 L1254.2,520.3 L1255.1,520 L1256,519.9 L1256.9,519.6 L1257.8,519.4 L1258.7,519.3 L1259.6,519.1 L1260.5,518.7 L1261.4,518.5 L1262.3,518.3 L1263.2,517.7 L1264.1,517.7 L1265,517.5 L1265.9,517.3 L1266.8,517 L1267.7,516.4 L1268.6,516.3 L1269.5,516.3 L1270.4,516.3 L1271.3,515.6 L1272.2,515.4 L1273.1,514.9 L1274,514.8 L1274.9,514.4 L1275.8,514.3 L1276.7,514.2 L1277.6,514.3 L1278.5,514 L1279.4,513.9 L1280.3,513 L1281.2,513.5 L1282.1,513.2 L1283,512.6 L1283.9,512.4 L1284.8,512 L1285.7,512 L1286.6,511.3 L1287.5,511.2 L1288.4,510.8 L1289.3,511 L1290.2,510.5 L1291.1,510.8 L1292,510.7 L1292.9,509.5 L1293.8,510.1 L1294.7,509.9 L1295.6,509.2 L1296.5,509.5 L1297.4,508.5 L1298.3,509 L1299.2,508.2 L1300.1,507.7 L1301,507.8 L1301.9,507.5 L1302.8,507 L1303.7,506.5 L1304.6,506.9 L1305.5,506.2 L1306.4,506.1 L1307.3,505.9 L1308.2,505.7 L1309.1,505.7 L1310,505.4 L1310.9,505 L1311.8,504 L1312.7,503.7 L1313.6,504.6 L1314.5,504.4 L1315.4,504 L1316.3,503.6 L1317.2,502.6 L1318.1,503 L1319,503.3 L1319.9,501.7 L1320.8,501.6 L1321.7,502.2 L1322.6,502 L1323.5,502.2 L1324.4,501 L1325.3,501.7 L1326.2,496.1 L1327.1,493.4 L1328,496.9 L1328.9,491.5 L1329.8,492.9 L1330.7,492.1 L1331.6,491.8 L1332.5,491.9 L1333.4,492.8 L1334.3,495.2 L1335.2,493.3 L1336.1,491 L1337,495.3 L1337.9,491.6 L1338.8,493.4 L1339.7,485.1 L1340.6,485.8 L1341.5,490.8 L1342.4,495.3 L1343.3,493.8 L1344.2,492.5 L1345.1,483.7 L1346,484.4 L1346.9,491.7 L1347.8,490.9 L1348.7,489.9 L1349.6,486.6 L1350.5,487.2 L1351.4,492.2 L1352.3,494.9 L1353.2,494.9 L1354.1,459.1 L1355,477.6 L1355.9,478.6 L1356.8,458.1 L1357.7,459.9 L1358.6,480.6 L1359.5,481.5 L1360.4,476.6 L1361.3,477.6 L1362.2,489.6 L1363.1,490.1 L1364,493.8 L1364.9,494.9 L1365.8,490.6 L1366.7,491.1 L1367.6,490.3 L1368.5,498 L1369.4,492.3 L1370.3,496.3 L1371.2,496.4 L1372.1,498.2 L1373,497.4 L1373.9,497 L1374.8,495.6 L1375.7,497.2 L1376.6,497.3 L1377.5,496.1 L1378.4,497.3 L1379.3,497.1 L1380.2,492.9 L1381.1,492 L1382,492.1 L1382.9,495.2 L1383.8,493.5 L1384.7,495.5 L1385.6,495.4 L1386.5,493.9 L1387.4,492.2 L1388.3,492.7 L1389.2,493.4 L1390.1,493.5 L1391,493.1 L1391.9,492.7 L1392.8,492.4 L1393.7,491.4 L1394.6,490.3 L1395.5,491 L1396.4,488.2 L1397.3,486.3 L1398.2,490 L1399.1,490.3 L1400,486.8 L1400.9,487.1 L1401.8,486.4 L1402.7,490.1 L1403.6,491.6 L1404.5,489.7 L1405.4,490.2 L1406.3,489.7 L1407.2,489.5 L1408.1,486.8 L1409,486.9 L1409.9,488.6 L1410.8,489.4 L1411.7,490.8 L1412.6,481.1 L1413.5,481.6 L1414.4,488.5 L1415.3,489.6 L1416.2,488.5 L1417.1,488.2 L1418,488 L1418.9,488.7 L1419.8,488.7 L1420.7,489.3 L1421.6,489.1 L1422.5,474.6 L1423.4,475.5 L1424.3,485.1 L1425.2,482.6 L1426.1,483 L1427,489 L1427.9,474.5 L1428.8,475.3 L1429.7,484.9 L1430.6,488.4 L1431.5,487.1 L1432.4,486.6 L1433.3,489.5 L1434.2,489.5 L1435.1,488.1 L1436,488.5 L1436.9,488.6 L1437.8,488.5 L1438.7,489.1 L1439.6,481.1 L1440.5,481.6 L1441.4,488 L1442.3,486 L1443.2,482.6 L1444.1,482 L1445,482.5 L1445.9,488.3 L1446.8,487.3 L1447.7,482.4 L1448.6,488.2 L1449.5,488.1 L1450.4,485.9 L1451.3,487.5 L1452.2,484.9 L1453.1,487.1 L1454,486.2 L1454.9,483.6 L1455.8,482.5 L1456.7,485.7 L1457.6,487.3 L1458.5,485.4 L1459.4,488.5 L1460.3,483.3 L1461.2,482.5 L1462.1,486 L1463,487.6 L1463.9,483.2 L1464.8,488 L1465.7,486.6 L1466.6,479.3 L1467.5,479.9 L1468.4,486.8 L1469.3,484.7 L1470.2,487.8 L1471.1,485.4 L1472,484.5 L1472.9,486 L1473.8,486.5 L1474.7,487.2 L1475.6,485.9 L1476.5,483.8 L1477.4,482.1 L1478.3,484 L1479.2,483.9 L1480.1,483.9 L1481,485.2 L1481.9,484.3 L1482.8,486.5 L1483.7,487 L1484.6,486.1 L1485.5,485.7 L1486.4,486.4 L1487.3,485.2 L1488.2,482.8 L1489.1,483.2 L1490,485.9 L1490.9,485.3 L1491.8,483.8 L1492.7,482 L1493.6,485.7 L1494.5,478.4 L1495.4,478.4 L1496.3,477.3 L1497.2,481.2 L1498.1,479.9 L1499,478.4 L1499.9,479.3 L1500.8,481.3 L1500.8,497 L1499.9,497.6 L1499,496.7 L1498.1,497 L1497.2,498 L1496.3,497.6 L1495.4,497.5 L1494.5,496.9 L1493.6,497.2 L1492.7,497.9 L1491.8,497.8 L1490.9,496.4 L1490,496.9 L1489.1,496.7 L1488.2,497.9 L1487.3,497.8 L1486.4,497.9 L1485.5,497.6 L1484.6,497.2 L1483.7,497.3 L1482.8,497.3 L1481.9,497.5 L1481,497 L1480.1,498.2 L1479.2,498 L1478.3,496.8 L1477.4,497.4 L1476.5,498.1 L1475.6,498.5 L1474.7,497.1 L1473.8,498.2 L1472.9,497.3 L1472,497.7 L1471.1,498.4 L1470.2,498.5 L1469.3,498.4 L1468.4,497.9 L1467.5,497.9 L1466.6,497 L1465.7,497.6 L1464.8,497.4 L1463.9,498 L1463,498.8 L1462.1,498.4 L1461.2,498.4 L1460.3,499 L1459.4,497.5 L1458.5,497.9 L1457.6,497.9 L1456.7,499 L1455.8,498.6 L1454.9,497.9 L1454,497.6 L1453.1,498.6 L1452.2,498.8 L1451.3,498.3 L1450.4,498.7 L1449.5,499.2 L1448.6,497.7 L1447.7,499 L1446.8,498.4 L1445.9,499 L1445,498.5 L1444.1,498 L1443.2,498 L1442.3,499 L1441.4,499.4 L1440.5,498 L1439.6,498.6 L1438.7,499.6 L1437.8,498.3 L1436.9,498.4 L1436,498.8 L1435.1,499.4 L1434.2,499.3 L1433.3,498.7 L1432.4,498.4 L1431.5,499.3 L1430.6,498.7 L1429.7,498.7 L1428.8,499.3 L1427.9,499.4 L1427,499.7 L1426.1,499.7 L1425.2,499.7 L1424.3,498.4 L1423.4,499 L1422.5,499.6 L1421.6,499.8 L1420.7,498.5 L1419.8,500.1 L1418.9,498.9 L1418,500.3 L1417.1,500.3 L1416.2,498.8 L1415.3,499.2 L1414.4,498.9 L1413.5,500.5 L1412.6,499.3 L1411.7,499.5 L1410.8,499.1 L1409.9,499.5 L1409,499.6 L1408.1,500 L1407.2,499.7 L1406.3,500.3 L1405.4,500.1 L1404.5,499.9 L1403.6,500.6 L1402.7,501 L1401.8,500 L1400.9,500.7 L1400,500.6 L1399.1,499.7 L1398.2,500.9 L1397.3,500.2 L1396.4,500.4 L1395.5,501.6 L1394.6,501.4 L1393.7,502.2 L1392.8,501.6 L1391.9,502 L1391,502.6 L1390.1,501.6 L1389.2,502.4 L1388.3,502.6 L1387.4,503.2 L1386.5,503.2 L1385.6,503.9 L1384.7,504 L1383.8,504.3 L1382.9,504.2 L1382,505.2 L1381.1,503.9 L1380.2,505 L1379.3,505 L1378.4,504.5 L1377.5,505.7 L1376.6,504.7 L1375.7,505 L1374.8,506.6 L1373.9,506.8 L1373,506.9 L1372.1,506.5 L1371.2,506.8 L1370.3,507 L1369.4,506.7 L1368.5,505.3 L1367.6,507.7 L1366.7,507.6 L1365.8,509.7 L1364.9,508.2 L1364,510.4 L1363.1,509.3 L1362.2,508.8 L1361.3,509.1 L1360.4,510.6 L1359.5,509 L1358.6,510 L1357.7,509.5 L1356.8,508.3 L1355.9,508 L1355,510.3 L1354.1,508.5 L1353.2,510.5 L1352.3,510 L1351.4,506.9 L1350.5,507.5 L1349.6,507.5 L1348.7,506.5 L1347.8,506.9 L1346.9,506.9 L1346,507.7 L1345.1,506.9 L1344.2,507.9 L1343.3,507.3 L1342.4,507.1 L1341.5,507.5 L1340.6,507.3 L1339.7,507.1 L1338.8,508 L1337.9,507.7 L1337,507.5 L1336.1,506.9 L1335.2,508.1 L1334.3,507.7 L1333.4,507.6 L1332.5,507.4 L1331.6,508.9 L1330.7,508.6 L1329.8,507.9 L1328.9,508.6 L1328,509 L1327.1,509.6 L1326.2,509.2 L1325.3,508.3 L1324.4,508.3 L1323.5,508 L1322.6,509.2 L1321.7,509.2 L1320.8,509.2 L1319.9,508.7 L1319,509.2 L1318.1,509.6 L1317.2,510.2 L1316.3,510 L1315.4,509.9 L1314.5,510.4 L1313.6,510.5 L1312.7,510.9 L1311.8,510.4 L1310.9,511.7 L1310,511.7 L1309.1,512.1 L1308.2,511.9 L1307.3,512.5 L1306.4,512.6 L1305.5,512.2 L1304.6,512.7 L1303.7,513.2 L1302.8,513 L1301.9,513.7 L1301,513.3 L1300.1,513.7 L1299.2,514 L1298.3,514.3 L1297.4,514.5 L1296.5,514.9 L1295.6,514.7 L1294.7,515 L1293.8,515 L1292.9,515 L1292,515.4 L1291.1,516.2 L1290.2,515.6 L1289.3,516.5 L1288.4,516.3 L1287.5,516.4 L1286.6,516.6 L1285.7,516.9 L1284.8,517 L1283.9,517.1 L1283,517.5 L1282.1,517.5 L1281.2,517.7 L1280.3,517.9 L1279.4,518.5 L1278.5,518.2 L1277.6,518.7 L1276.7,518.9 L1275.8,519.3 L1274.9,519.1 L1274,519.3 L1273.1,519.9 L1272.2,520.1 L1271.3,519.8 L1270.4,520.1 L1269.5,520.3 L1268.6,520.6 L1267.7,520.6 L1266.8,521.1 L1265.9,521.3 L1265,521.6 L1264.1,521.8 L1263.2,521.8 L1262.3,522.2 L1261.4,522.3 L1260.5,522.4 L1259.6,522.6 L1258.7,522.7 L1257.8,523.1 L1256.9,523 L1256,523.6 L1255.1,523.5 L1254.2,523.6 L1253.3,523.9 L1252.4,524.3 L1251.5,524.5 L1250.6,524.5 L1249.7,525 L1248.8,525 L1247.9,525.3 L1247,525.5 L1246.1,525.6 L1245.2,525.9 L1244.3,526 L1243.4,526.4 L1242.5,526.5 L1241.6,526.6 L1240.7,526.8 L1239.8,527.1 L1238.9,527.3 L1238,527.5 L1237.1,527.6 L1236.2,527.9 L1235.3,528.1 L1234.4,528.3 L1233.5,528.5 L1232.6,528.7 L1231.7,528.9 L1230.8,529.2 L1229.9,529.4 L1229,529.6Z" fill="#000" stroke="#000" stroke-width="0.5" stroke-linejoin="round"/>
<path d="M99.4,728.9 L103.4,728.9 L107.4,728.9 L111.4,728.9 L115.4,728.9 L119.4,728.8 L123.4,728.8 L127.4,728.8 L131.4,728.8 L135.4,728.8 L139.4,728.8 L143.4,728.8 L147.4,728.7 L151.4,728.7 L155.4,728.7 L159.4,728.7 L163.4,728.6 L167.4,728.6 L171.4,728.6 L175.4,728.6 L179.4,728.5 L183.4,728.5 L187.4,728.5 L191.4,728.4 L195.4,728.4 L199.4,728.4 L203.4,728.3 L207.4,728.3 L211.4,728.3 L215.4,728.2 L219.4,728.2 L223.4,728.1 L227.4,728.1 L231.4,728 L235.4,728 L239.4,728 L243.4,727.9 L247.4,727.9 L251.4,727.8 L255.4,727.8 L259.4,727.7 L263.4,727.7 L267.4,727.6 L271.4,727.6 L275.4,727.6 L279.4,727.5 L283.4,727.5 L287.4,727.4 L291.4,727.3 L295.4,727.3 L299.4,727.2 L303.4,727.2 L307.4,727.1 L311.4,727 L315.4,726.9 L319.4,726.9 L323.4,726.8 L327.4,726.7 L331.4,726.6 L335.4,726.5 L339.4,726.4 L343.4,726.3 L347.4,726.2 L351.4,726.1 L355.4,726 L359.4,725.9 L363.4,725.8 L367.4,725.7 L371.4,725.6 L375.4,725.5 L379.4,725.4 L383.4,725.3 L387.4,725.1 L391.4,725 L395.4,724.9 L399.4,724.8 L403.4,724.7 L407.4,724.6 L411.4,724.5 L415.4,724.4 L419.4,724.2 L423.4,724.1 L427.4,724 L431.4,723.9 L435.4,723.7 L439.4,723.6 L443.4,723.5 L447.4,723.4 L451.4,723.2 L455.4,723.1 L459.4,722.9 L463.4,722.8 L467.4,722.7 L471.4,722.5 L475.4,722.4 L479.4,722.2 L483.4,722.1 L487.4,721.9 L491.4,721.8 L495.4,721.6 L499.4,721.5 L503.4,721.3 L507.4,721.1 L508.7,721.1" fill="none" stroke="#000" stroke-width="2.9" stroke-linejoin="round"/>
<path d="M507.2,721.1 L511.2,721 L515.2,720.8 L519.2,720.6 L523.2,720.5 L527.2,720.3 L531.2,720.1 L535.2,719.9 L539.2,719.8 L543.2,719.6 L547.2,719.4 L551.2,719.2 L555.2,719 L559.2,718.8 L563.2,718.6 L567.2,718.4 L571.2,718.2 L575.2,718 L579.2,717.8 L583.2,717.6 L587.2,717.4 L591.2,717.2 L595.2,717 L599.2,716.8 L603.2,716.5 L607.2,716.3 L611.2,716.1 L615.2,715.8 L619.2,715.6 L623.2,715.3 L627.2,715.1 L631.2,714.8 L635.2,714.6 L639.2,714.3 L643.2,714 L647.2,713.7 L651.2,713.5 L655.2,713.2 L659.2,712.9 L663.2,712.6 L667.2,712.3 L671.2,712 L675.2,711.7 L679.2,711.4 L683.2,711 L687.2,710.7 L691.2,710.4 L695.2,710 L699.2,709.7 L703.2,709.3 L707.2,708.9 L711.2,708.6 L715.2,708.2 L719.2,707.8 L723.2,707.4 L727.2,707 L731.2,706.5 L735.2,706.1 L739.2,705.6 L743.2,705.2 L747.2,704.7 L751.2,704.2 L755.2,703.7 L759.2,703.2 L763.2,702.7 L767.2,702.2 L771.2,701.6 L775.2,701.1 L779.2,700.6 L783.2,700 L787.2,699.4 L791.2,698.8 L795.2,698.3 L799.2,697.7 L803.2,697 L807.2,696.4 L811.2,695.8 L815.2,695.2 L819.2,694.5 L823.2,693.9 L827.2,693.2 L831.2,692.6 L835.2,691.9 L839.2,691.2 L843.2,690.5 L847.2,689.8 L851.2,689.1 L855.2,688.4 L859.2,687.6 L863.2,686.8 L867.2,686 L871.2,685.2 L875.2,684.4 L879.2,683.5 L883.2,682.6 L887.2,681.7 L891.2,680.8 L895.2,679.9 L899.2,678.9 L903.2,677.9 L907.2,676.9 L911.2,675.9 L915.2,674.9 L919.2,673.9 L923.2,672.8 L927.2,671.7 L931.2,670.6 L935.2,669.5 L939.2,668.4 L943.2,667.3 L947.2,666.2 L951.2,665 L955.2,663.9 L959.2,662.7 L963.2,661.5 L967.2,660.4 L971.2,659.2 L975.2,658 L979.2,656.8 L983.2,655.6 L987.2,654.3 L991.2,653.1 L995.2,651.9 L999.2,650.6 L1003.2,649.4 L1007.2,648.1 L1011.2,646.8 L1015.2,645.5 L1019.2,644.2 L1023.2,642.9 L1027.2,641.5 L1031.2,640.1 L1035.2,638.7 L1039.2,637.3 L1043.2,635.8 L1047.2,634.4 L1051.2,632.9 L1055.2,631.4 L1059.2,629.9 L1063.2,628.4 L1067.2,626.9 L1071.2,625.3 L1075.2,623.8 L1079.2,622.2 L1083.2,620.6 L1087.2,619 L1091.2,617.4 L1095.2,615.8 L1099.2,614.2 L1103.2,612.5 L1107.2,610.9 L1111.2,609.2 L1115.2,607.6 L1119.2,605.9 L1123.2,604.2 L1127.2,602.6 L1131.2,600.9 L1135.2,599.2 L1139.2,597.5 L1143.2,595.8 L1147.2,594.1 L1151.2,592.4 L1155.2,590.6 L1159.2,588.8 L1163.2,586.8 L1167.2,584.9 L1171.2,582.9 L1175.2,580.9 L1179.2,578.8 L1183.2,576.8 L1187.2,574.8 L1191.2,572.9 L1195.2,570.9 L1199.2,569.1 L1203.2,567.3 L1207.2,565.6 L1211.2,564 L1215.2,562.5 L1219.2,561.1 L1223.2,559.8 L1227.2,558.5 L1229.5,557.8" fill="none" stroke="#000" stroke-width="2.15" stroke-linejoin="round"/>
<path d="M1229,556.9 L1229.9,556.6 L1230.8,556.3 L1231.7,556 L1232.6,555.7 L1233.5,555.5 L1234.4,555.2 L1235.3,554.8 L1236.2,554.5 L1237.1,554.3 L1238,554 L1238.9,553.8 L1239.8,553.5 L1240.7,553.2 L1241.6,552.9 L1242.5,552.6 L1243.4,552.3 L1244.3,552.2 L1245.2,551.8 L1246.1,551.7 L1247,551.2 L1247.9,551.3 L1248.8,550.9 L1249.7,550.5 L1250.6,550.5 L1251.5,550.2 L1252.4,549.9 L1253.3,549.7 L1254.2,549.3 L1255.1,549.2 L1256,549 L1256.9,548.8 L1257.8,548.6 L1258.7,548.6 L1259.6,548.4 L1260.5,548.1 L1261.4,547.9 L1262.3,547.8 L1263.2,547.2 L1264.1,547.2 L1265,547.1 L1265.9,547 L1266.8,546.7 L1267.7,546.2 L1268.6,546.1 L1269.5,546.2 L1270.4,546.2 L1271.3,545.6 L1272.2,545.4 L1273.1,545 L1274,545 L1274.9,544.7 L1275.8,544.5 L1276.7,544.5 L1277.6,544.7 L1278.5,544.4 L1279.4,544.4 L1280.3,543.5 L1281.2,544.1 L1282.1,543.8 L1283,543.3 L1283.9,543.2 L1284.8,542.8 L1285.7,542.8 L1286.6,542.2 L1287.5,542.1 L1288.4,541.8 L1289.3,541.9 L1290.2,541.6 L1291.1,541.9 L1292,541.8 L1292.9,540.6 L1293.8,541.2 L1294.7,541.1 L1295.6,540.3 L1296.5,540.6 L1297.4,539.6 L1298.3,540.1 L1299.2,539.3 L1300.1,538.8 L1301,538.9 L1301.9,538.5 L1302.8,538.1 L1303.7,537.4 L1304.6,537.8 L1305.5,537 L1306.4,536.8 L1307.3,536.6 L1308.2,536.3 L1309.1,536.2 L1310,535.8 L1310.9,535.3 L1311.8,534.2 L1312.7,533.8 L1313.6,534.6 L1314.5,534.3 L1315.4,533.8 L1316.3,533.3 L1317.2,532.2 L1318.1,532.5 L1319,532.7 L1319.9,531 L1320.8,530.8 L1321.7,531.3 L1322.6,531 L1323.5,531.1 L1324.4,529.8 L1325.3,530.5 L1326.2,524.8 L1327.1,522 L1328,525.4 L1328.9,520 L1329.8,521.3 L1330.7,520.4 L1331.6,520.1 L1332.5,520.1 L1333.4,520.9 L1334.3,523.3 L1335.2,521.3 L1336.1,518.9 L1337,523.1 L1337.9,519.4 L1338.8,521.1 L1339.7,512.8 L1340.6,513.4 L1341.5,518.4 L1342.4,522.8 L1343.3,521.2 L1344.2,520 L1345.1,511.1 L1346,511.8 L1346.9,519 L1347.8,518.2 L1348.7,517.2 L1349.6,513.9 L1350.5,514.5 L1351.4,519.5 L1352.3,522.2 L1353.2,522.3 L1354.1,486.5 L1355,505 L1355.9,506.1 L1356.8,485.6 L1357.7,487.4 L1358.6,508.2 L1359.5,509.2 L1360.4,504.3 L1361.3,505.4 L1362.2,517.4 L1363.1,518 L1364,521.8 L1364.9,522.8 L1365.8,518.6 L1366.7,519.1 L1367.6,518.4 L1368.5,526.1 L1369.4,520.4 L1370.3,524.4 L1371.2,524.5 L1372.1,526.4 L1373,525.6 L1373.9,525.1 L1374.8,523.8 L1375.7,525.4 L1376.6,525.6 L1377.5,524.4 L1378.4,525.7 L1379.3,525.5 L1380.2,521.4 L1381.1,520.5 L1382,520.7 L1382.9,523.8 L1383.8,522.2 L1384.7,524.2 L1385.6,524.2 L1386.5,522.8 L1387.4,521.1 L1388.3,521.6 L1389.2,522.4 L1390.1,522.5 L1391,522.1 L1391.9,521.8 L1392.8,521.5 L1393.7,520.5 L1394.6,519.5 L1395.5,520.2 L1396.4,517.4 L1397.3,515.4 L1398.2,519.2 L1399.1,519.5 L1400,515.9 L1400.9,516.2 L1401.8,515.4 L1402.7,519.1 L1403.6,520.6 L1404.5,518.6 L1405.4,519.1 L1406.3,518.5 L1407.2,518.3 L1408.1,515.6 L1409,515.6 L1409.9,517.3 L1410.8,518 L1411.7,519.4 L1412.6,509.6 L1413.5,510.1 L1414.4,516.9 L1415.3,518 L1416.2,516.9 L1417.1,516.6 L1418,516.3 L1418.9,516.9 L1419.8,516.9 L1420.7,517.5 L1421.6,517.2 L1422.5,502.7 L1423.4,503.5 L1424.3,513.1 L1425.2,510.5 L1426.1,511 L1427,516.9 L1427.9,502.3 L1428.8,503.1 L1429.7,512.7 L1430.6,516.1 L1431.5,514.8 L1432.4,514.3 L1433.3,517.2 L1434.2,517.1 L1435.1,515.6 L1436,516 L1436.9,516.1 L1437.8,515.9 L1438.7,516.5 L1439.6,508.5 L1440.5,509 L1441.4,515.4 L1442.3,513.3 L1443.2,509.9 L1444.1,509.2 L1445,509.7 L1445.9,515.5 L1446.8,514.4 L1447.7,509.5 L1448.6,515.4 L1449.5,515.2 L1450.4,513 L1451.3,514.6 L1452.2,511.9 L1453.1,514.1 L1454,513.2 L1454.9,510.7 L1455.8,509.5 L1456.7,512.7 L1457.6,514.3 L1458.5,512.3 L1459.4,515.4 L1460.3,510.2 L1461.2,509.4 L1462.1,512.8 L1463,514.4 L1463.9,510.1 L1464.8,514.8 L1465.7,513.4 L1466.6,506.1 L1467.5,506.7 L1468.4,513.5 L1469.3,511.4 L1470.2,514.6 L1471.1,512.1 L1472,511.2 L1472.9,512.7 L1473.8,513.1 L1474.7,513.8 L1475.6,512.5 L1476.5,510.5 L1477.4,508.7 L1478.3,510.6 L1479.2,510.5 L1480.1,510.5 L1481,511.8 L1481.9,510.9 L1482.8,513 L1483.7,513.6 L1484.6,512.6 L1485.5,512.2 L1486.4,512.9 L1487.3,511.8 L1488.2,509.3 L1489.1,509.7 L1490,512.5 L1490.9,511.8 L1491.8,510.3 L1492.7,508.5 L1493.6,512.2 L1494.5,504.9 L1495.4,504.9 L1496.3,503.8 L1497.2,507.6 L1498.1,506.4 L1499,504.9 L1499.9,505.8 L1500.8,507.8 L1500.8,523.5 L1499.9,524.1 L1499,523.2 L1498.1,523.5 L1497.2,524.5 L1496.3,524.1 L1495.4,524 L1494.5,523.4 L1493.6,523.7 L1492.7,524.4 L1491.8,524.3 L1490.9,522.9 L1490,523.4 L1489.1,523.2 L1488.2,524.4 L1487.3,524.3 L1486.4,524.5 L1485.5,524.2 L1484.6,523.8 L1483.7,523.9 L1482.8,523.8 L1481.9,524.1 L1481,523.6 L1480.1,524.8 L1479.2,524.6 L1478.3,523.5 L1477.4,524 L1476.5,524.7 L1475.6,525.1 L1474.7,523.7 L1473.8,524.9 L1472.9,524 L1472,524.4 L1471.1,525.1 L1470.2,525.2 L1469.3,525.2 L1468.4,524.7 L1467.5,524.7 L1466.6,523.8 L1465.7,524.4 L1464.8,524.2 L1463.9,524.9 L1463,525.7 L1462.1,525.2 L1461.2,525.2 L1460.3,525.9 L1459.4,524.4 L1458.5,524.8 L1457.6,524.9 L1456.7,525.9 L1455.8,525.5 L1454.9,524.9 L1454,524.6 L1453.1,525.7 L1452.2,525.9 L1451.3,525.3 L1450.4,525.8 L1449.5,526.4 L1448.6,524.9 L1447.7,526.2 L1446.8,525.6 L1445.9,526.2 L1445,525.7 L1444.1,525.3 L1443.2,525.3 L1442.3,526.3 L1441.4,526.7 L1440.5,525.3 L1439.6,526 L1438.7,527 L1437.8,525.7 L1436.9,525.9 L1436,526.3 L1435.1,526.9 L1434.2,526.9 L1433.3,526.3 L1432.4,526.1 L1431.5,527 L1430.6,526.5 L1429.7,526.5 L1428.8,527.2 L1427.9,527.3 L1427,527.6 L1426.1,527.7 L1425.2,527.7 L1424.3,526.5 L1423.4,527.1 L1422.5,527.6 L1421.6,527.9 L1420.7,526.6 L1419.8,528.3 L1418.9,527.1 L1418,528.6 L1417.1,528.7 L1416.2,527.2 L1415.3,527.6 L1414.4,527.4 L1413.5,529 L1412.6,527.9 L1411.7,528.1 L1410.8,527.7 L1409.9,528.2 L1409,528.4 L1408.1,528.8 L1407.2,528.5 L1406.3,529.2 L1405.4,529 L1404.5,528.8 L1403.6,529.6 L1402.7,530 L1401.8,529.1 L1400.9,529.8 L1400,529.7 L1399.1,528.9 L1398.2,530 L1397.3,529.3 L1396.4,529.6 L1395.5,530.8 L1394.6,530.6 L1393.7,531.3 L1392.8,530.8 L1391.9,531 L1391,531.6 L1390.1,530.6 L1389.2,531.4 L1388.3,531.5 L1387.4,532.1 L1386.5,532 L1385.6,532.7 L1384.7,532.7 L1383.8,533 L1382.9,532.8 L1382,533.7 L1381.1,532.4 L1380.2,533.5 L1379.3,533.4 L1378.4,532.8 L1377.5,534 L1376.6,532.9 L1375.7,533.3 L1374.8,534.8 L1373.9,534.9 L1373,535.1 L1372.1,534.7 L1371.2,534.9 L1370.3,535.1 L1369.4,534.8 L1368.5,533.4 L1367.6,535.8 L1366.7,535.7 L1365.8,537.7 L1364.9,536.2 L1364,538.3 L1363.1,537.1 L1362.2,536.6 L1361.3,536.9 L1360.4,538.3 L1359.5,536.7 L1358.6,537.6 L1357.7,537.1 L1356.8,535.9 L1355.9,535.4 L1355,537.7 L1354.1,535.9 L1353.2,537.9 L1352.3,537.3 L1351.4,534.2 L1350.5,534.8 L1349.6,534.8 L1348.7,533.8 L1347.8,534.2 L1346.9,534.2 L1346,535 L1345.1,534.3 L1344.2,535.3 L1343.3,534.8 L1342.4,534.6 L1341.5,535 L1340.6,534.9 L1339.7,534.7 L1338.8,535.7 L1337.9,535.5 L1337,535.3 L1336.1,534.8 L1335.2,536.1 L1334.3,535.8 L1333.4,535.7 L1332.5,535.6 L1331.6,537.1 L1330.7,537 L1329.8,536.3 L1328.9,537.1 L1328,537.5 L1327.1,538.2 L1326.2,537.8 L1325.3,537.1 L1324.4,537.2 L1323.5,536.9 L1322.6,538.2 L1321.7,538.3 L1320.8,538.3 L1319.9,537.9 L1319,538.5 L1318.1,539.1 L1317.2,539.8 L1316.3,539.7 L1315.4,539.8 L1314.5,540.3 L1313.6,540.6 L1312.7,541 L1311.8,540.7 L1310.9,542 L1310,542.1 L1309.1,542.6 L1308.2,542.5 L1307.3,543.2 L1306.4,543.4 L1305.5,543.1 L1304.6,543.6 L1303.7,544.2 L1302.8,544 L1301.9,544.8 L1301,544.3 L1300.1,544.8 L1299.2,545.1 L1298.3,545.4 L1297.4,545.6 L1296.5,546 L1295.6,545.8 L1294.7,546.1 L1293.8,546.1 L1292.9,546.1 L1292,546.5 L1291.1,547.3 L1290.2,546.7 L1289.3,547.5 L1288.4,547.2 L1287.5,547.3 L1286.6,547.4 L1285.7,547.8 L1284.8,547.8 L1283.9,547.9 L1283,548.2 L1282.1,548.1 L1281.2,548.3 L1280.3,548.4 L1279.4,549 L1278.5,548.7 L1277.6,549.1 L1276.7,549.2 L1275.8,549.6 L1274.9,549.3 L1274,549.4 L1273.1,550 L1272.2,550.2 L1271.3,549.8 L1270.4,550 L1269.5,550.2 L1268.6,550.5 L1267.7,550.3 L1266.8,550.8 L1265.9,551 L1265,551.2 L1264.1,551.3 L1263.2,551.3 L1262.3,551.6 L1261.4,551.7 L1260.5,551.8 L1259.6,551.9 L1258.7,552 L1257.8,552.3 L1256.9,552.2 L1256,552.7 L1255.1,552.6 L1254.2,552.7 L1253.3,553 L1252.4,553.3 L1251.5,553.6 L1250.6,553.5 L1249.7,554 L1248.8,554 L1247.9,554.2 L1247,554.5 L1246.1,554.5 L1245.2,554.9 L1244.3,555 L1243.4,555.4 L1242.5,555.5 L1241.6,555.7 L1240.7,555.9 L1239.8,556.1 L1238.9,556.4 L1238,556.7 L1237.1,556.8 L1236.2,557.1 L1235.3,557.3 L1234.4,557.5 L1233.5,557.8 L1232.6,558 L1231.7,558.3 L1230.8,558.5 L1229.9,558.8 L1229,559Z" fill="#000" stroke="#000" stroke-width="0.5" stroke-linejoin="round"/>
<path d="M99.4,729.3 L103.4,729.3 L107.4,729.3 L111.4,729.3 L115.4,729.3 L119.4,729.3 L123.4,729.3 L127.4,729.3 L131.4,729.3 L135.4,729.3 L139.4,729.3 L143.4,729.3 L147.4,729.3 L151.4,729.3 L155.4,729.3 L159.4,729.3 L163.4,729.3 L167.4,729.3 L171.4,729.3 L175.4,729.3 L179.4,729.3 L183.4,729.3 L187.4,729.3 L191.4,729.3 L195.4,729.3 L199.4,729.3 L203.4,729.3 L207.4,729.3 L211.4,729.3 L215.4,729.3 L219.4,729.3 L223.4,729.2 L227.4,729.2 L231.4,729.2 L235.4,729.2 L239.4,729.2 L243.4,729.2 L247.4,729.2 L251.4,729.2 L255.4,729.2 L259.4,729.2 L263.4,729.2 L267.4,729.2 L271.4,729.2 L275.4,729.2 L279.4,729.2 L283.4,729.2 L287.4,729.2 L291.4,729.2 L295.4,729.2 L299.4,729.1 L303.4,729.1 L307.4,729.1 L311.4,729.1 L315.4,729 L319.4,729 L323.4,729 L327.4,728.9 L331.4,728.9 L335.4,728.9 L339.4,728.8 L343.4,728.8 L347.4,728.7 L351.4,728.7 L355.4,728.7 L359.4,728.6 L363.4,728.6 L367.4,728.5 L371.4,728.5 L375.4,728.4 L379.4,728.4 L383.4,728.4 L387.4,728.3 L391.4,728.3 L395.4,728.2 L399.4,728.2 L403.4,728.2 L407.4,728.1 L411.4,728.1 L415.4,728.1 L419.4,728 L423.4,728 L427.4,728 L431.4,727.9 L435.4,727.9 L439.4,727.8 L443.4,727.8 L447.4,727.8 L451.4,727.7 L455.4,727.7 L459.4,727.6 L463.4,727.6 L467.4,727.6 L471.4,727.5 L475.4,727.5 L479.4,727.4 L483.4,727.4 L487.4,727.4 L491.4,727.3 L495.4,727.3 L499.4,727.3 L503.4,727.2 L507.4,727.2 L508.7,727.2" fill="none" stroke="#000" stroke-width="2.9" stroke-linejoin="round"/>
<path d="M507.2,727.2 L511.2,727.2 L515.2,727.1 L519.2,727.1 L523.2,727.1 L527.2,727 L531.2,727 L535.2,727 L539.2,726.9 L543.2,726.9 L547.2,726.9 L551.2,726.9 L555.2,726.8 L559.2,726.8 L563.2,726.8 L567.2,726.8 L571.2,726.7 L575.2,726.7 L579.2,726.7 L583.2,726.7 L587.2,726.7 L591.2,726.7 L595.2,726.6 L599.2,726.6 L603.2,726.6 L607.2,726.6 L611.2,726.6 L615.2,726.6 L619.2,726.6 L623.2,726.5 L627.2,726.5 L631.2,726.5 L635.2,726.5 L639.2,726.5 L643.2,726.5 L647.2,726.5 L651.2,726.5 L655.2,726.4 L659.2,726.4 L663.2,726.4 L667.2,726.4 L671.2,726.4 L675.2,726.4 L679.2,726.3 L683.2,726.3 L687.2,726.3 L691.2,726.3 L695.2,726.2 L699.2,726.2 L703.2,726.2 L707.2,726.1 L711.2,726.1 L715.2,726.1 L719.2,726 L723.2,726 L727.2,725.9 L731.2,725.8 L735.2,725.8 L739.2,725.7 L743.2,725.6 L747.2,725.5 L751.2,725.5 L755.2,725.4 L759.2,725.3 L763.2,725.2 L767.2,725.1 L771.2,725 L775.2,724.9 L779.2,724.8 L783.2,724.7 L787.2,724.6 L791.2,724.5 L795.2,724.3 L799.2,724.2 L803.2,724.1 L807.2,724 L811.2,723.9 L815.2,723.7 L819.2,723.6 L823.2,723.5 L827.2,723.3 L831.2,723.2 L835.2,723 L839.2,722.9 L843.2,722.8 L847.2,722.6 L851.2,722.5 L855.2,722.3 L859.2,722.1 L863.2,722 L867.2,721.8 L871.2,721.6 L875.2,721.4 L879.2,721.2 L883.2,720.9 L887.2,720.7 L891.2,720.5 L895.2,720.2 L899.2,719.9 L903.2,719.7 L907.2,719.4 L911.2,719.1 L915.2,718.8 L919.2,718.5 L923.2,718.2 L927.2,717.9 L931.2,717.6 L935.2,717.3 L939.2,716.9 L943.2,716.6 L947.2,716.3 L951.2,715.9 L955.2,715.6 L959.2,715.2 L963.2,714.8 L967.2,714.4 L971.2,714.1 L975.2,713.7 L979.2,713.3 L983.2,712.9 L987.2,712.5 L991.2,712.1 L995.2,711.7 L999.2,711.3 L1003.2,710.9 L1007.2,710.4 L1011.2,710 L1015.2,709.5 L1019.2,709 L1023.2,708.5 L1027.2,708 L1031.2,707.5 L1035.2,706.9 L1039.2,706.4 L1043.2,705.8 L1047.2,705.2 L1051.2,704.6 L1055.2,704 L1059.2,703.4 L1063.2,702.8 L1067.2,702.1 L1071.2,701.4 L1075.2,700.8 L1079.2,700.1 L1083.2,699.4 L1087.2,698.7 L1091.2,698 L1095.2,697.2 L1099.2,696.5 L1103.2,695.8 L1107.2,695 L1111.2,694.2 L1115.2,693.5 L1119.2,692.7 L1123.2,691.9 L1127.2,691.1 L1131.2,690.3 L1135.2,689.5 L1139.2,688.6 L1143.2,687.8 L1147.2,687 L1151.2,686.1 L1155.2,685.2 L1159.2,684.2 L1163.2,683.1 L1167.2,682 L1171.2,680.8 L1175.2,679.6 L1179.2,678.4 L1183.2,677.2 L1187.2,676 L1191.2,674.8 L1195.2,673.7 L1199.2,672.6 L1203.2,671.6 L1207.2,670.6 L1211.2,669.8 L1215.2,669.1 L1219.2,668.4 L1223.2,667.8 L1227.2,667.2 L1229.5,666.9" fill="none" stroke="#000" stroke-width="2.15" stroke-linejoin="round"/>
<path d="M1229,665.9 L1229.9,665.8 L1230.8,665.7 L1231.7,665.5 L1232.6,665.4 L1233.5,665.3 L1234.4,665.1 L1235.3,664.9 L1236.2,664.8 L1237.1,664.7 L1238,664.5 L1238.9,664.5 L1239.8,664.3 L1240.7,664.2 L1241.6,664 L1242.5,663.9 L1243.4,663.7 L1244.3,663.7 L1245.2,663.4 L1246.1,663.5 L1247,663.1 L1247.9,663.3 L1248.8,663 L1249.7,662.8 L1250.6,662.9 L1251.5,662.7 L1252.4,662.5 L1253.3,662.4 L1254.2,662.2 L1255.1,662.1 L1256,662.1 L1256.9,661.9 L1257.8,661.9 L1258.7,661.9 L1259.6,661.8 L1260.5,661.6 L1261.4,661.5 L1262.3,661.5 L1263.2,660.9 L1264.1,661.1 L1265,661.1 L1265.9,661 L1266.8,660.9 L1267.7,660.4 L1268.6,660.4 L1269.5,660.5 L1270.4,660.6 L1271.3,660.2 L1272.2,660 L1273.1,659.7 L1274,659.7 L1274.9,659.5 L1275.8,659.5 L1276.7,659.6 L1277.6,659.8 L1278.5,659.6 L1279.4,659.6 L1280.3,658.9 L1281.2,659.5 L1282.1,659.3 L1283,658.9 L1283.9,658.9 L1284.8,658.6 L1285.7,658.7 L1286.6,658.1 L1287.5,658.2 L1288.4,657.9 L1289.3,658.2 L1290.2,657.9 L1291.1,658.3 L1292,658.3 L1292.9,657.2 L1293.8,657.9 L1294.7,657.9 L1295.6,657.2 L1296.5,657.6 L1297.4,656.7 L1298.3,657.3 L1299.2,656.7 L1300.1,656.3 L1301,656.5 L1301.9,656.3 L1302.8,656 L1303.7,655.5 L1304.6,656 L1305.5,655.4 L1306.4,655.4 L1307.3,655.4 L1308.2,655.2 L1309.1,655.3 L1310,655.1 L1310.9,654.7 L1311.8,653.9 L1312.7,653.6 L1313.6,654.6 L1314.5,654.5 L1315.4,654.1 L1316.3,653.8 L1317.2,652.9 L1318.1,653.4 L1319,653.7 L1319.9,652.1 L1320.8,652.1 L1321.7,652.8 L1322.6,652.7 L1323.5,652.8 L1324.4,651.7 L1325.3,652.5 L1326.2,646.9 L1327.1,644.3 L1328,647.8 L1328.9,642.5 L1329.8,643.8 L1330.7,643.1 L1331.6,642.9 L1332.5,642.9 L1333.4,643.9 L1334.3,646.4 L1335.2,644.5 L1336.1,642.2 L1337,646.5 L1337.9,642.9 L1338.8,644.7 L1339.7,636.5 L1340.6,637.1 L1341.5,642.2 L1342.4,646.7 L1343.3,645.2 L1344.2,644 L1345.1,635.2 L1346,635.9 L1346.9,643.1 L1347.8,642.4 L1348.7,641.4 L1349.6,638.1 L1350.5,638.7 L1351.4,643.7 L1352.3,646.4 L1353.2,646.5 L1354.1,610.7 L1355,629.2 L1355.9,630.2 L1356.8,609.7 L1357.7,611.5 L1358.6,632.3 L1359.5,633.2 L1360.4,628.4 L1361.3,629.4 L1362.2,641.4 L1363.1,642 L1364,645.7 L1364.9,646.8 L1365.8,642.5 L1366.7,643 L1367.6,642.3 L1368.5,650 L1369.4,644.3 L1370.3,648.3 L1371.2,648.4 L1372.1,650.3 L1373,649.5 L1373.9,649.1 L1374.8,647.9 L1375.7,649.5 L1376.6,649.8 L1377.5,648.6 L1378.4,650 L1379.3,649.8 L1380.2,645.8 L1381.1,645 L1382,645.3 L1382.9,648.5 L1383.8,647 L1384.7,649.2 L1385.6,649.2 L1386.5,647.9 L1387.4,646.4 L1388.3,647 L1389.2,647.8 L1390.1,648 L1391,647.8 L1391.9,647.5 L1392.8,647.4 L1393.7,646.5 L1394.6,645.5 L1395.5,646.3 L1396.4,643.6 L1397.3,641.7 L1398.2,645.6 L1399.1,645.9 L1400,642.4 L1400.9,642.8 L1401.8,642 L1402.7,645.7 L1403.6,647.3 L1404.5,645.4 L1405.4,645.9 L1406.3,645.4 L1407.2,645.2 L1408.1,642.6 L1409,642.7 L1409.9,644.4 L1410.8,645.1 L1411.7,646.6 L1412.6,636.9 L1413.5,637.4 L1414.4,644.3 L1415.3,645.4 L1416.2,644.4 L1417.1,644.1 L1418,643.9 L1418.9,644.5 L1419.8,644.5 L1420.7,645.2 L1421.6,645 L1422.5,630.5 L1423.4,631.3 L1424.3,641 L1425.2,638.4 L1426.1,638.9 L1427,644.9 L1427.9,630.4 L1428.8,631.2 L1429.7,640.8 L1430.6,644.3 L1431.5,643 L1432.4,642.5 L1433.3,645.5 L1434.2,645.4 L1435.1,644 L1436,644.4 L1436.9,644.6 L1437.8,644.4 L1438.7,645 L1439.6,637 L1440.5,637.6 L1441.4,644 L1442.3,641.9 L1443.2,638.6 L1444.1,637.9 L1445,638.4 L1445.9,644.3 L1446.8,643.2 L1447.7,638.4 L1448.6,644.2 L1449.5,644.1 L1450.4,641.9 L1451.3,643.5 L1452.2,640.9 L1453.1,643.1 L1454,642.2 L1454.9,639.7 L1455.8,638.6 L1456.7,641.8 L1457.6,643.4 L1458.5,641.4 L1459.4,644.6 L1460.3,639.4 L1461.2,638.6 L1462.1,642.1 L1463,643.7 L1463.9,639.4 L1464.8,644.1 L1465.7,642.7 L1466.6,635.5 L1467.5,636.1 L1468.4,642.9 L1469.3,640.9 L1470.2,644 L1471.1,641.6 L1472,640.7 L1472.9,642.2 L1473.8,642.7 L1474.7,643.4 L1475.6,642.1 L1476.5,640.1 L1477.4,638.4 L1478.3,640.3 L1479.2,640.2 L1480.1,640.2 L1481,641.5 L1481.9,640.6 L1482.8,642.8 L1483.7,643.4 L1484.6,642.4 L1485.5,642 L1486.4,642.7 L1487.3,641.6 L1488.2,639.1 L1489.1,639.6 L1490,642.3 L1490.9,641.7 L1491.8,640.2 L1492.7,638.5 L1493.6,642.1 L1494.5,634.8 L1495.4,634.9 L1496.3,633.8 L1497.2,637.6 L1498.1,636.4 L1499,634.9 L1499.9,635.8 L1500.8,637.8 L1500.8,653.5 L1499.9,654.1 L1499,653.2 L1498.1,653.5 L1497.2,654.4 L1496.3,654.1 L1495.4,654 L1494.5,653.4 L1493.6,653.6 L1492.7,654.3 L1491.8,654.2 L1490.9,652.8 L1490,653.3 L1489.1,653.1 L1488.2,654.3 L1487.3,654.1 L1486.4,654.3 L1485.5,654 L1484.6,653.6 L1483.7,653.6 L1482.8,653.6 L1481.9,653.8 L1481,653.3 L1480.1,654.5 L1479.2,654.3 L1478.3,653.1 L1477.4,653.7 L1476.5,654.3 L1475.6,654.7 L1474.7,653.3 L1473.8,654.4 L1472.9,653.5 L1472,654 L1471.1,654.6 L1470.2,654.7 L1469.3,654.6 L1468.4,654.1 L1467.5,654.1 L1466.6,653.2 L1465.7,653.8 L1464.8,653.5 L1463.9,654.2 L1463,655 L1462.1,654.5 L1461.2,654.5 L1460.3,655.1 L1459.4,653.6 L1458.5,653.9 L1457.6,654 L1456.7,655 L1455.8,654.6 L1454.9,653.9 L1454,653.6 L1453.1,654.7 L1452.2,654.8 L1451.3,654.3 L1450.4,654.7 L1449.5,655.2 L1448.6,653.7 L1447.7,655 L1446.8,654.4 L1445.9,655 L1445,654.4 L1444.1,654 L1443.2,653.9 L1442.3,655 L1441.4,655.4 L1440.5,653.9 L1439.6,654.5 L1438.7,655.5 L1437.8,654.2 L1436.9,654.4 L1436,654.7 L1435.1,655.3 L1434.2,655.2 L1433.3,654.6 L1432.4,654.3 L1431.5,655.2 L1430.6,654.6 L1429.7,654.6 L1428.8,655.2 L1427.9,655.3 L1427,655.6 L1426.1,655.6 L1425.2,655.6 L1424.3,654.3 L1423.4,654.9 L1422.5,655.4 L1421.6,655.7 L1420.7,654.3 L1419.8,656 L1418.9,654.7 L1418,656.1 L1417.1,656.2 L1416.2,654.7 L1415.3,655 L1414.4,654.8 L1413.5,656.3 L1412.6,655.1 L1411.7,655.3 L1410.8,654.9 L1409.9,655.3 L1409,655.4 L1408.1,655.8 L1407.2,655.4 L1406.3,656 L1405.4,655.8 L1404.5,655.6 L1403.6,656.3 L1402.7,656.6 L1401.8,655.7 L1400.9,656.4 L1400,656.2 L1399.1,655.3 L1398.2,656.4 L1397.3,655.6 L1396.4,655.8 L1395.5,656.9 L1394.6,656.7 L1393.7,657.3 L1392.8,656.6 L1391.9,656.8 L1391,657.3 L1390.1,656.1 L1389.2,656.8 L1388.3,656.9 L1387.4,657.4 L1386.5,657.2 L1385.6,657.7 L1384.7,657.7 L1383.8,657.8 L1382.9,657.6 L1382,658.3 L1381.1,657 L1380.2,657.9 L1379.3,657.8 L1378.4,657.1 L1377.5,658.2 L1376.6,657.1 L1375.7,657.4 L1374.8,658.8 L1373.9,658.9 L1373,659 L1372.1,658.6 L1371.2,658.8 L1370.3,659 L1369.4,658.7 L1368.5,657.3 L1367.6,659.7 L1366.7,659.6 L1365.8,661.7 L1364.9,660.1 L1364,662.3 L1363.1,661.1 L1362.2,660.6 L1361.3,660.9 L1360.4,662.3 L1359.5,660.8 L1358.6,661.7 L1357.7,661.2 L1356.8,660 L1355.9,659.6 L1355,661.8 L1354.1,660.1 L1353.2,662 L1352.3,661.5 L1351.4,658.4 L1350.5,659 L1349.6,659 L1348.7,658 L1347.8,658.4 L1346.9,658.4 L1346,659.2 L1345.1,658.3 L1344.2,659.3 L1343.3,658.7 L1342.4,658.5 L1341.5,658.8 L1340.6,658.6 L1339.7,658.4 L1338.8,659.3 L1337.9,659 L1337,658.7 L1336.1,658.1 L1335.2,659.3 L1334.3,658.9 L1333.4,658.7 L1332.5,658.5 L1331.6,659.9 L1330.7,659.6 L1329.8,658.8 L1328.9,659.6 L1328,659.9 L1327.1,660.4 L1326.2,660 L1325.3,659.1 L1324.4,659.1 L1323.5,658.7 L1322.6,659.8 L1321.7,659.7 L1320.8,659.7 L1319.9,659.1 L1319,659.6 L1318.1,659.9 L1317.2,660.5 L1316.3,660.2 L1315.4,660.1 L1314.5,660.4 L1313.6,660.5 L1312.7,660.8 L1311.8,660.3 L1310.9,661.5 L1310,661.3 L1309.1,661.7 L1308.2,661.4 L1307.3,661.9 L1306.4,661.9 L1305.5,661.5 L1304.6,661.8 L1303.7,662.3 L1302.8,661.9 L1301.9,662.5 L1301,662 L1300.1,662.4 L1299.2,662.5 L1298.3,662.7 L1297.4,662.8 L1296.5,663.1 L1295.6,662.7 L1294.7,662.9 L1293.8,662.8 L1292.9,662.7 L1292,663 L1291.1,663.7 L1290.2,663 L1289.3,663.7 L1288.4,663.4 L1287.5,663.4 L1286.6,663.4 L1285.7,663.6 L1284.8,663.5 L1283.9,663.5 L1283,663.8 L1282.1,663.7 L1281.2,663.8 L1280.3,663.8 L1279.4,664.3 L1278.5,663.9 L1277.6,664.2 L1276.7,664.2 L1275.8,664.5 L1274.9,664.2 L1274,664.2 L1273.1,664.7 L1272.2,664.8 L1271.3,664.3 L1270.4,664.5 L1269.5,664.6 L1268.6,664.8 L1267.7,664.5 L1266.8,664.9 L1265.9,665 L1265,665.1 L1264.1,665.2 L1263.2,665.1 L1262.3,665.3 L1261.4,665.3 L1260.5,665.3 L1259.6,665.3 L1258.7,665.3 L1257.8,665.5 L1256.9,665.3 L1256,665.8 L1255.1,665.5 L1254.2,665.6 L1253.3,665.7 L1252.4,665.9 L1251.5,666 L1250.6,665.9 L1249.7,666.2 L1248.8,666.2 L1247.9,666.3 L1247,666.4 L1246.1,666.3 L1245.2,666.5 L1244.3,666.5 L1243.4,666.7 L1242.5,666.7 L1241.6,666.8 L1240.7,666.8 L1239.8,667 L1238.9,667.1 L1238,667.2 L1237.1,667.2 L1236.2,667.3 L1235.3,667.4 L1234.4,667.5 L1233.5,667.6 L1232.6,667.7 L1231.7,667.8 L1230.8,667.9 L1229.9,668 L1229,668.1Z" fill="#000" stroke="#000" stroke-width="0.5" stroke-linejoin="round"/>
<path d="M99.4,729.7 L103.4,729.7 L107.4,729.7 L111.4,729.8 L115.4,729.8 L119.4,729.8 L123.4,729.8 L127.4,729.8 L131.4,729.8 L135.4,729.8 L139.4,729.9 L143.4,729.9 L147.4,729.9 L151.4,729.9 L155.4,729.9 L159.4,729.9 L163.4,729.9 L167.4,729.9 L171.4,729.9 L175.4,730 L179.4,730 L183.4,730 L187.4,730 L191.4,730 L195.4,730 L199.4,730 L203.4,730 L207.4,730 L211.4,730 L215.4,730 L219.4,730.1 L223.4,730.1 L227.4,730.1 L231.4,730.1 L235.4,730.1 L239.4,730.1 L243.4,730.1 L247.4,730.1 L251.4,730.1 L255.4,730.1 L259.4,730.1 L263.4,730.1 L267.4,730.1 L271.4,730.1 L275.4,730.1 L279.4,730.1 L283.4,730.1 L287.4,730.1 L291.4,730.1 L295.4,730.1 L299.4,730.1 L303.4,730.1 L307.4,730.1 L311.4,730.1 L315.4,730.1 L319.4,730.1 L323.4,730.1 L327.4,730.1 L331.4,730.1 L335.4,730.1 L339.4,730.1 L343.4,730 L347.4,730 L351.4,730 L355.4,730 L359.4,730 L363.4,730 L367.4,730 L371.4,730 L375.4,730 L379.4,730 L383.4,730 L387.4,730 L391.4,730 L395.4,730 L399.4,730 L403.4,730 L407.4,730 L411.4,730 L415.4,730 L419.4,730 L423.4,730.1 L427.4,730.1 L431.4,730.1 L435.4,730.1 L439.4,730.2 L443.4,730.2 L447.4,730.2 L451.4,730.3 L455.4,730.3 L459.4,730.3 L463.4,730.4 L467.4,730.4 L471.4,730.5 L475.4,730.5 L479.4,730.5 L483.4,730.6 L487.4,730.6 L491.4,730.7 L495.4,730.7 L499.4,730.8 L503.4,730.9 L507.4,730.9 L508.7,730.9" fill="none" stroke="#000" stroke-width="2.9" stroke-linejoin="round"/>
<path d="M507.2,730.9 L511.2,731 L515.2,731 L519.2,731.1 L523.2,731.1 L527.2,731.2 L531.2,731.2 L535.2,731.3 L539.2,731.3 L543.2,731.4 L547.2,731.4 L551.2,731.5 L555.2,731.5 L559.2,731.6 L563.2,731.6 L567.2,731.7 L571.2,731.7 L575.2,731.8 L579.2,731.8 L583.2,731.9 L587.2,731.9 L591.2,732 L595.2,732.1 L599.2,732.1 L603.2,732.2 L607.2,732.2 L611.2,732.3 L615.2,732.3 L619.2,732.4 L623.2,732.5 L627.2,732.5 L631.2,732.6 L635.2,732.6 L639.2,732.7 L643.2,732.8 L647.2,732.8 L651.2,732.9 L655.2,733 L659.2,733 L663.2,733.1 L667.2,733.2 L671.2,733.2 L675.2,733.3 L679.2,733.4 L683.2,733.5 L687.2,733.5 L691.2,733.6 L695.2,733.7 L699.2,733.8 L703.2,733.9 L707.2,734 L711.2,734 L715.2,734.1 L719.2,734.2 L723.2,734.3 L727.2,734.4 L731.2,734.5 L735.2,734.7 L739.2,734.8 L743.2,734.9 L747.2,735 L751.2,735.1 L755.2,735.2 L759.2,735.4 L763.2,735.5 L767.2,735.6 L771.2,735.7 L775.2,735.8 L779.2,736 L783.2,736.1 L787.2,736.2 L791.2,736.4 L795.2,736.5 L799.2,736.6 L803.2,736.7 L807.2,736.9 L811.2,737 L815.2,737.1 L819.2,737.2 L823.2,737.3 L827.2,737.5 L831.2,737.6 L835.2,737.7 L839.2,737.8 L843.2,737.9 L847.2,738 L851.2,738.1 L855.2,738.2 L859.2,738.4 L863.2,738.5 L867.2,738.6 L871.2,738.7 L875.2,738.8 L879.2,739 L883.2,739.1 L887.2,739.2 L891.2,739.3 L895.2,739.5 L899.2,739.6 L903.2,739.7 L907.2,739.8 L911.2,740 L915.2,740.1 L919.2,740.2 L923.2,740.3 L927.2,740.5 L931.2,740.6 L935.2,740.7 L939.2,740.8 L943.2,740.9 L947.2,741 L951.2,741.1 L955.2,741.2 L959.2,741.3 L963.2,741.3 L967.2,741.4 L971.2,741.5 L975.2,741.5 L979.2,741.6 L983.2,741.6 L987.2,741.7 L991.2,741.7 L995.2,741.7 L999.2,741.7 L1003.2,741.7 L1007.2,741.7 L1011.2,741.6 L1015.2,741.6 L1019.2,741.5 L1023.2,741.4 L1027.2,741.3 L1031.2,741.1 L1035.2,741 L1039.2,740.8 L1043.2,740.7 L1047.2,740.5 L1051.2,740.3 L1055.2,740 L1059.2,739.8 L1063.2,739.6 L1067.2,739.3 L1071.2,739.1 L1075.2,738.8 L1079.2,738.5 L1083.2,738.3 L1087.2,738 L1091.2,737.7 L1095.2,737.4 L1099.2,737.1 L1103.2,736.8 L1107.2,736.4 L1111.2,736.1 L1115.2,735.8 L1119.2,735.5 L1123.2,735.2 L1127.2,734.8 L1131.2,734.5 L1135.2,734.2 L1139.2,733.9 L1143.2,733.5 L1147.2,733.2 L1151.2,732.9 L1155.2,732.6 L1159.2,732.2 L1163.2,731.8 L1167.2,731.4 L1171.2,730.9 L1175.2,730.5 L1179.2,730 L1183.2,729.5 L1187.2,729.1 L1191.2,728.6 L1195.2,728.1 L1199.2,727.6 L1203.2,727.2 L1207.2,726.7 L1211.2,726.3 L1215.2,725.9 L1219.2,725.5 L1223.2,725 L1227.2,724.6 L1229.5,724.3" fill="none" stroke="#000" stroke-width="2.15" stroke-linejoin="round"/>
<path d="M1229,723.3 L1229.9,723.2 L1230.8,723.1 L1231.7,722.9 L1232.6,722.8 L1233.5,722.7 L1234.4,722.6 L1235.3,722.5 L1236.2,722.3 L1237.1,722.3 L1238,722.1 L1238.9,722.1 L1239.8,721.9 L1240.7,721.8 L1241.6,721.7 L1242.5,721.6 L1243.4,721.5 L1244.3,721.5 L1245.2,721.2 L1246.1,721.4 L1247,721.1 L1247.9,721.3 L1248.8,721 L1249.7,720.8 L1250.6,721 L1251.5,720.9 L1252.4,720.7 L1253.3,720.7 L1254.2,720.5 L1255.1,720.5 L1256,720.6 L1256.9,720.5 L1257.8,720.5 L1258.7,720.6 L1259.6,720.6 L1260.5,720.4 L1261.4,720.4 L1262.3,720.4 L1263.2,719.9 L1264.1,720.1 L1265,720.2 L1265.9,720.1 L1266.8,720.1 L1267.7,719.7 L1268.6,719.7 L1269.5,719.9 L1270.4,720.1 L1271.3,719.7 L1272.2,719.6 L1273.1,719.3 L1274,719.4 L1274.9,719.2 L1275.8,719.3 L1276.7,719.4 L1277.6,719.7 L1278.5,719.6 L1279.4,719.7 L1280.3,719 L1281.2,719.7 L1282.1,719.5 L1283,719.1 L1283.9,719.2 L1284.8,718.9 L1285.7,719.1 L1286.6,718.6 L1287.5,718.8 L1288.4,718.5 L1289.3,718.9 L1290.2,718.6 L1291.1,719.1 L1292,719.2 L1292.9,718.2 L1293.8,718.9 L1294.7,719 L1295.6,718.4 L1296.5,718.9 L1297.4,718 L1298.3,718.7 L1299.2,718.1 L1300.1,717.8 L1301,718.1 L1301.9,718 L1302.8,717.7 L1303.7,717.3 L1304.6,717.9 L1305.5,717.4 L1306.4,717.5 L1307.3,717.5 L1308.2,717.5 L1309.1,717.6 L1310,717.5 L1310.9,717.3 L1311.8,716.4 L1312.7,716.3 L1313.6,717.4 L1314.5,717.3 L1315.4,717 L1316.3,716.8 L1317.2,715.9 L1318.1,716.5 L1319,716.9 L1319.9,715.4 L1320.8,715.5 L1321.7,716.2 L1322.6,716.1 L1323.5,716.3 L1324.4,715.3 L1325.3,716.1 L1326.2,710.6 L1327.1,707.9 L1328,711.4 L1328.9,706.1 L1329.8,707.6 L1330.7,706.8 L1331.6,706.6 L1332.5,706.7 L1333.4,707.7 L1334.3,710.2 L1335.2,708.4 L1336.1,706.1 L1337,710.4 L1337.9,706.7 L1338.8,708.6 L1339.7,700.4 L1340.6,701.1 L1341.5,706.1 L1342.4,710.6 L1343.3,709.1 L1344.2,707.9 L1345.1,699.2 L1346,699.9 L1346.9,707.1 L1347.8,706.4 L1348.7,705.4 L1349.6,702.1 L1350.5,702.7 L1351.4,707.7 L1352.3,710.4 L1353.2,710.5 L1354.1,674.7 L1355,693.2 L1355.9,694.2 L1356.8,673.7 L1357.7,675.5 L1358.6,696.3 L1359.5,697.2 L1360.4,692.4 L1361.3,693.4 L1362.2,705.4 L1363.1,706 L1364,709.7 L1364.9,710.8 L1365.8,706.5 L1366.7,707 L1367.6,706.3 L1368.5,714 L1369.4,708.3 L1370.3,712.3 L1371.2,712.4 L1372.1,714.3 L1373,713.5 L1373.9,713.1 L1374.8,711.9 L1375.7,713.5 L1376.6,713.8 L1377.5,712.7 L1378.4,714 L1379.3,713.9 L1380.2,709.9 L1381.1,709.1 L1382,709.4 L1382.9,712.6 L1383.8,711.1 L1384.7,713.3 L1385.6,713.4 L1386.5,712.1 L1387.4,710.6 L1388.3,711.2 L1389.2,712.1 L1390.1,712.3 L1391,712.1 L1391.9,711.9 L1392.8,711.8 L1393.7,710.9 L1394.6,709.9 L1395.5,710.8 L1396.4,708.1 L1397.3,706.2 L1398.2,710.1 L1399.1,710.5 L1400,707 L1400.9,707.4 L1401.8,706.7 L1402.7,710.4 L1403.6,712 L1404.5,710.1 L1405.4,710.7 L1406.3,710.2 L1407.2,710.1 L1408.1,707.4 L1409,707.6 L1409.9,709.3 L1410.8,710.1 L1411.7,711.6 L1412.6,701.9 L1413.5,702.5 L1414.4,709.4 L1415.3,710.5 L1416.2,709.5 L1417.1,709.2 L1418,709 L1418.9,709.7 L1419.8,709.7 L1420.7,710.4 L1421.6,710.3 L1422.5,695.8 L1423.4,696.7 L1424.3,706.3 L1425.2,703.8 L1426.1,704.3 L1427,710.3 L1427.9,695.8 L1428.8,696.6 L1429.7,706.3 L1430.6,709.8 L1431.5,708.6 L1432.4,708.1 L1433.3,711 L1434.2,711 L1435.1,709.6 L1436,710.1 L1436.9,710.2 L1437.8,710.1 L1438.7,710.7 L1439.6,702.7 L1440.5,703.3 L1441.4,709.7 L1442.3,707.7 L1443.2,704.3 L1444.1,703.7 L1445,704.2 L1445.9,710.1 L1446.8,709.1 L1447.7,704.2 L1448.6,710.1 L1449.5,710 L1450.4,707.8 L1451.3,709.5 L1452.2,706.8 L1453.1,709.1 L1454,708.2 L1454.9,705.7 L1455.8,704.6 L1456.7,707.8 L1457.6,709.4 L1458.5,707.5 L1459.4,710.6 L1460.3,705.5 L1461.2,704.7 L1462.1,708.2 L1463,709.8 L1463.9,705.5 L1464.8,710.2 L1465.7,708.9 L1466.6,701.6 L1467.5,702.2 L1468.4,709.1 L1469.3,707.1 L1470.2,710.2 L1471.1,707.8 L1472,707 L1472.9,708.5 L1473.8,708.9 L1474.7,709.7 L1475.6,708.4 L1476.5,706.4 L1477.4,704.7 L1478.3,706.6 L1479.2,706.5 L1480.1,706.5 L1481,707.8 L1481.9,707 L1482.8,709.1 L1483.7,709.7 L1484.6,708.8 L1485.5,708.4 L1486.4,709.1 L1487.3,708 L1488.2,705.5 L1489.1,706 L1490,708.8 L1490.9,708.2 L1491.8,706.7 L1492.7,704.9 L1493.6,708.6 L1494.5,701.3 L1495.4,701.3 L1496.3,700.3 L1497.2,704.1 L1498.1,702.9 L1499,701.4 L1499.9,702.3 L1500.8,704.3 L1500.8,720 L1499.9,720.6 L1499,719.7 L1498.1,720 L1497.2,720.9 L1496.3,720.5 L1495.4,720.5 L1494.5,719.8 L1493.6,720.1 L1492.7,720.7 L1491.8,720.6 L1490.9,719.3 L1490,719.7 L1489.1,719.5 L1488.2,720.7 L1487.3,720.5 L1486.4,720.7 L1485.5,720.4 L1484.6,719.9 L1483.7,720 L1482.8,719.9 L1481.9,720.2 L1481,719.7 L1480.1,720.8 L1479.2,720.6 L1478.3,719.4 L1477.4,720 L1476.5,720.6 L1475.6,721 L1474.7,719.6 L1473.8,720.7 L1472.9,719.8 L1472,720.2 L1471.1,720.9 L1470.2,720.9 L1469.3,720.8 L1468.4,720.3 L1467.5,720.3 L1466.6,719.4 L1465.7,719.9 L1464.8,719.7 L1463.9,720.3 L1463,721.1 L1462.1,720.6 L1461.2,720.5 L1460.3,721.1 L1459.4,719.6 L1458.5,720 L1457.6,720 L1456.7,721 L1455.8,720.6 L1454.9,719.9 L1454,719.6 L1453.1,720.6 L1452.2,720.8 L1451.3,720.2 L1450.4,720.7 L1449.5,721.1 L1448.6,719.6 L1447.7,720.8 L1446.8,720.2 L1445.9,720.8 L1445,720.3 L1444.1,719.8 L1443.2,719.7 L1442.3,720.7 L1441.4,721.1 L1440.5,719.6 L1439.6,720.2 L1438.7,721.2 L1437.8,719.9 L1436.9,720 L1436,720.4 L1435.1,720.9 L1434.2,720.8 L1433.3,720.2 L1432.4,719.9 L1431.5,720.7 L1430.6,720.1 L1429.7,720.1 L1428.8,720.7 L1427.9,720.7 L1427,721 L1426.1,721 L1425.2,720.9 L1424.3,719.7 L1423.4,720.2 L1422.5,720.7 L1421.6,721 L1420.7,719.6 L1419.8,721.2 L1418.9,719.9 L1418,721.3 L1417.1,721.3 L1416.2,719.8 L1415.3,720.1 L1414.4,719.8 L1413.5,721.4 L1412.6,720.2 L1411.7,720.2 L1410.8,719.8 L1409.9,720.2 L1409,720.3 L1408.1,720.6 L1407.2,720.2 L1406.3,720.9 L1405.4,720.6 L1404.5,720.3 L1403.6,721.1 L1402.7,721.3 L1401.8,720.3 L1400.9,721 L1400,720.8 L1399.1,719.9 L1398.2,720.9 L1397.3,720.1 L1396.4,720.3 L1395.5,721.4 L1394.6,721.1 L1393.7,721.7 L1392.8,721 L1391.9,721.2 L1391,721.6 L1390.1,720.4 L1389.2,721.1 L1388.3,721.1 L1387.4,721.6 L1386.5,721.4 L1385.6,721.9 L1384.7,721.8 L1383.8,722 L1382.9,721.7 L1382,722.5 L1381.1,721.1 L1380.2,722 L1379.3,721.9 L1378.4,721.2 L1377.5,722.3 L1376.6,721.1 L1375.7,721.4 L1374.8,722.8 L1373.9,722.9 L1373,723.1 L1372.1,722.6 L1371.2,722.8 L1370.3,723 L1369.4,722.7 L1368.5,721.3 L1367.6,723.7 L1366.7,723.6 L1365.8,725.7 L1364.9,724.1 L1364,726.3 L1363.1,725.1 L1362.2,724.6 L1361.3,724.9 L1360.4,726.3 L1359.5,724.8 L1358.6,725.7 L1357.7,725.2 L1356.8,724 L1355.9,723.6 L1355,725.8 L1354.1,724.1 L1353.2,726 L1352.3,725.5 L1351.4,722.4 L1350.5,723 L1349.6,723 L1348.7,722 L1347.8,722.4 L1346.9,722.4 L1346,723.1 L1345.1,722.3 L1344.2,723.3 L1343.3,722.7 L1342.4,722.5 L1341.5,722.8 L1340.6,722.6 L1339.7,722.3 L1338.8,723.2 L1337.9,722.9 L1337,722.6 L1336.1,722 L1335.2,723.2 L1334.3,722.7 L1333.4,722.5 L1332.5,722.3 L1331.6,723.7 L1330.7,723.4 L1329.8,722.5 L1328.9,723.3 L1328,723.5 L1327.1,724.1 L1326.2,723.6 L1325.3,722.6 L1324.4,722.6 L1323.5,722.2 L1322.6,723.3 L1321.7,723.1 L1320.8,723 L1319.9,722.4 L1319,722.8 L1318.1,723.1 L1317.2,723.6 L1316.3,723.2 L1315.4,723 L1314.5,723.3 L1313.6,723.3 L1312.7,723.5 L1311.8,722.9 L1310.9,724 L1310,723.7 L1309.1,724.1 L1308.2,723.6 L1307.3,724.1 L1306.4,724 L1305.5,723.4 L1304.6,723.7 L1303.7,724.1 L1302.8,723.6 L1301.9,724.2 L1301,723.6 L1300.1,723.9 L1299.2,723.9 L1298.3,724 L1297.4,724.1 L1296.5,724.3 L1295.6,723.9 L1294.7,724 L1293.8,723.8 L1292.9,723.6 L1292,723.9 L1291.1,724.5 L1290.2,723.7 L1289.3,724.4 L1288.4,724 L1287.5,723.9 L1286.6,723.9 L1285.7,724.1 L1284.8,723.9 L1283.9,723.9 L1283,724 L1282.1,723.9 L1281.2,723.9 L1280.3,723.8 L1279.4,724.3 L1278.5,723.8 L1277.6,724.1 L1276.7,724.1 L1275.8,724.3 L1274.9,723.9 L1274,723.9 L1273.1,724.3 L1272.2,724.3 L1271.3,723.8 L1270.4,723.9 L1269.5,724 L1268.6,724.1 L1267.7,723.8 L1266.8,724.1 L1265.9,724.2 L1265,724.2 L1264.1,724.2 L1263.2,724 L1262.3,724.2 L1261.4,724.1 L1260.5,724.1 L1259.6,724.1 L1258.7,724 L1257.8,724.1 L1256.9,723.9 L1256,724.3 L1255.1,724 L1254.2,723.9 L1253.3,724 L1252.4,724.2 L1251.5,724.3 L1250.6,724.1 L1249.7,724.3 L1248.8,724.2 L1247.9,724.2 L1247,724.3 L1246.1,724.2 L1245.2,724.3 L1244.3,724.3 L1243.4,724.5 L1242.5,724.5 L1241.6,724.5 L1240.7,724.5 L1239.8,724.6 L1238.9,724.7 L1238,724.8 L1237.1,724.8 L1236.2,724.9 L1235.3,725 L1234.4,725 L1233.5,725.1 L1232.6,725.2 L1231.7,725.2 L1230.8,725.3 L1229.9,725.4 L1229,725.5Z" fill="#000" stroke="#000" stroke-width="0.5" stroke-linejoin="round"/>
<path d="M99.4,730.1 L103.4,730.1 L107.4,730.2 L111.4,730.2 L115.4,730.2 L119.4,730.2 L123.4,730.2 L127.4,730.3 L131.4,730.3 L135.4,730.3 L139.4,730.3 L143.4,730.3 L147.4,730.4 L151.4,730.4 L155.4,730.4 L159.4,730.4 L163.4,730.5 L167.4,730.5 L171.4,730.5 L175.4,730.5 L179.4,730.5 L183.4,730.6 L187.4,730.6 L191.4,730.6 L195.4,730.6 L199.4,730.7 L203.4,730.7 L207.4,730.7 L211.4,730.7 L215.4,730.8 L219.4,730.8 L223.4,730.8 L227.4,730.8 L231.4,730.9 L235.4,730.9 L239.4,730.9 L243.4,730.9 L247.4,731 L251.4,731 L255.4,731 L259.4,731.1 L263.4,731.1 L267.4,731.1 L271.4,731.1 L275.4,731.2 L279.4,731.2 L283.4,731.2 L287.4,731.3 L291.4,731.3 L295.4,731.3 L299.4,731.3 L303.4,731.4 L307.4,731.4 L311.4,731.4 L315.4,731.4 L319.4,731.5 L323.4,731.5 L327.4,731.5 L331.4,731.6 L335.4,731.6 L339.4,731.6 L343.4,731.7 L347.4,731.7 L351.4,731.7 L355.4,731.8 L359.4,731.8 L363.4,731.8 L367.4,731.9 L371.4,731.9 L375.4,731.9 L379.4,732 L383.4,732 L387.4,732.1 L391.4,732.1 L395.4,732.1 L399.4,732.2 L403.4,732.2 L407.4,732.3 L411.4,732.3 L415.4,732.4 L419.4,732.5 L423.4,732.5 L427.4,732.6 L431.4,732.6 L435.4,732.7 L439.4,732.8 L443.4,732.8 L447.4,732.9 L451.4,733 L455.4,733 L459.4,733.1 L463.4,733.2 L467.4,733.3 L471.4,733.4 L475.4,733.4 L479.4,733.5 L483.4,733.6 L487.4,733.7 L491.4,733.8 L495.4,733.9 L499.4,734 L503.4,734.1 L507.4,734.2 L508.7,734.2" fill="none" stroke="#000" stroke-width="2.9" stroke-linejoin="round"/>
<path d="M507.2,734.2 L511.2,734.3 L515.2,734.4 L519.2,734.5 L523.2,734.6 L527.2,734.7 L531.2,734.8 L535.2,734.9 L539.2,735 L543.2,735.1 L547.2,735.2 L551.2,735.3 L555.2,735.5 L559.2,735.6 L563.2,735.7 L567.2,735.8 L571.2,736 L575.2,736.1 L579.2,736.2 L583.2,736.4 L587.2,736.5 L591.2,736.7 L595.2,736.8 L599.2,737 L603.2,737.2 L607.2,737.3 L611.2,737.5 L615.2,737.7 L619.2,737.9 L623.2,738 L627.2,738.2 L631.2,738.4 L635.2,738.6 L639.2,738.8 L643.2,739 L647.2,739.2 L651.2,739.4 L655.2,739.7 L659.2,739.9 L663.2,740.1 L667.2,740.3 L671.2,740.5 L675.2,740.8 L679.2,741 L683.2,741.2 L687.2,741.4 L691.2,741.7 L695.2,741.9 L699.2,742.2 L703.2,742.4 L707.2,742.6 L711.2,742.9 L715.2,743.1 L719.2,743.4 L723.2,743.7 L727.2,744 L731.2,744.2 L735.2,744.5 L739.2,744.8 L743.2,745.1 L747.2,745.4 L751.2,745.7 L755.2,746 L759.2,746.3 L763.2,746.6 L767.2,747 L771.2,747.3 L775.2,747.6 L779.2,748 L783.2,748.3 L787.2,748.6 L791.2,749 L795.2,749.3 L799.2,749.7 L803.2,750.1 L807.2,750.4 L811.2,750.8 L815.2,751.2 L819.2,751.5 L823.2,751.9 L827.2,752.3 L831.2,752.7 L835.2,753.1 L839.2,753.4 L843.2,753.8 L847.2,754.2 L851.2,754.6 L855.2,755 L859.2,755.5 L863.2,755.9 L867.2,756.4 L871.2,756.8 L875.2,757.3 L879.2,757.8 L883.2,758.3 L887.2,758.8 L891.2,759.4 L895.2,759.9 L899.2,760.4 L903.2,761 L907.2,761.5 L911.2,762.1 L915.2,762.6 L919.2,763.2 L923.2,763.8 L927.2,764.3 L931.2,764.9 L935.2,765.4 L939.2,766 L943.2,766.5 L947.2,767.1 L951.2,767.6 L955.2,768.1 L959.2,768.7 L963.2,769.2 L967.2,769.7 L971.2,770.1 L975.2,770.6 L979.2,771.1 L983.2,771.5 L987.2,771.9 L991.2,772.4 L995.2,772.8 L999.2,773.1 L1003.2,773.5 L1007.2,773.8 L1011.2,774.2 L1015.2,774.6 L1019.2,774.9 L1023.2,775.3 L1027.2,775.6 L1031.2,776 L1035.2,776.3 L1039.2,776.7 L1043.2,777 L1047.2,777.4 L1051.2,777.7 L1055.2,778 L1059.2,778.4 L1063.2,778.7 L1067.2,779 L1071.2,779.3 L1075.2,779.6 L1079.2,779.9 L1083.2,780.2 L1087.2,780.5 L1091.2,780.8 L1095.2,781.1 L1099.2,781.3 L1103.2,781.6 L1107.2,781.8 L1111.2,782.1 L1115.2,782.3 L1119.2,782.5 L1123.2,782.7 L1127.2,782.9 L1131.2,783.1 L1135.2,783.3 L1139.2,783.4 L1143.2,783.6 L1147.2,783.7 L1151.2,783.8 L1155.2,784 L1159.2,784.1 L1163.2,784.1 L1167.2,784.2 L1171.2,784.3 L1175.2,784.4 L1179.2,784.5 L1183.2,784.5 L1187.2,784.6 L1191.2,784.7 L1195.2,784.7 L1199.2,784.8 L1203.2,784.9 L1207.2,785 L1211.2,785.1 L1215.2,785.2 L1219.2,785.3 L1223.2,785.5 L1227.2,785.6 L1229.5,785.7" fill="none" stroke="#000" stroke-width="2.15" stroke-linejoin="round"/>
<path d="M1229,784.6 L1229.9,784.6 L1230.8,784.6 L1231.7,784.6 L1232.6,784.7 L1233.5,784.7 L1234.4,784.7 L1235.3,784.7 L1236.2,784.7 L1237.1,784.8 L1238,784.7 L1238.9,784.8 L1239.8,784.8 L1240.7,784.8 L1241.6,784.8 L1242.5,784.8 L1243.4,784.8 L1244.3,784.9 L1245.2,784.8 L1246.1,785 L1247,784.8 L1247.9,785.1 L1248.8,784.9 L1249.7,784.8 L1250.6,785.1 L1251.5,785 L1252.4,785 L1253.3,785 L1254.2,784.9 L1255.1,785 L1256,785.1 L1256.9,785.1 L1257.8,785.2 L1258.7,785.4 L1259.6,785.5 L1260.5,785.3 L1261.4,785.4 L1262.3,785.5 L1263.2,785.1 L1264.1,785.4 L1265,785.6 L1265.9,785.6 L1266.8,785.6 L1267.7,785.3 L1268.6,785.4 L1269.5,785.7 L1270.4,786 L1271.3,785.6 L1272.2,785.6 L1273.1,785.4 L1274,785.6 L1274.9,785.5 L1275.8,785.6 L1276.7,785.8 L1277.6,786.2 L1278.5,786.2 L1279.4,786.3 L1280.3,785.7 L1281.2,786.5 L1282.1,786.4 L1283,786.1 L1283.9,786.2 L1284.8,786 L1285.7,786.3 L1286.6,785.9 L1287.5,786 L1288.4,785.9 L1289.3,786.3 L1290.2,786.1 L1291.1,786.6 L1292,786.8 L1292.9,785.8 L1293.8,786.6 L1294.7,786.7 L1295.6,786.2 L1296.5,786.7 L1297.4,785.9 L1298.3,786.6 L1299.2,786.1 L1300.1,785.8 L1301,786.2 L1301.9,786.1 L1302.8,785.8 L1303.7,785.5 L1304.6,786.1 L1305.5,785.7 L1306.4,785.8 L1307.3,785.9 L1308.2,785.9 L1309.1,786.1 L1310,786 L1310.9,785.8 L1311.8,785.1 L1312.7,785 L1313.6,786.2 L1314.5,786.1 L1315.4,785.9 L1316.3,785.7 L1317.2,784.9 L1318.1,785.6 L1319,786 L1319.9,784.6 L1320.8,784.6 L1321.7,785.4 L1322.6,785.4 L1323.5,785.6 L1324.4,784.6 L1325.3,785.5 L1326.2,780 L1327.1,777.3 L1328,780.9 L1328.9,775.6 L1329.8,777.1 L1330.7,776.4 L1331.6,776.2 L1332.5,776.4 L1333.4,777.3 L1334.3,779.9 L1335.2,778.1 L1336.1,775.8 L1337,780.2 L1337.9,776.6 L1338.8,778.5 L1339.7,770.2 L1340.6,770.9 L1341.5,776 L1342.4,780.6 L1343.3,779.1 L1344.2,777.9 L1345.1,769.1 L1346,769.9 L1346.9,777.1 L1347.8,776.4 L1348.7,775.4 L1349.6,772.1 L1350.5,772.7 L1351.4,777.7 L1352.3,780.4 L1353.2,780.5 L1354.1,744.8 L1355,763.3 L1355.9,764.4 L1356.8,744 L1357.7,745.9 L1358.6,766.7 L1359.5,767.7 L1360.4,762.9 L1361.3,764 L1362.2,776.1 L1363.1,776.7 L1364,780.5 L1364.9,781.6 L1365.8,777.4 L1366.7,778 L1367.6,777.3 L1368.5,785 L1369.4,779.3 L1370.3,783.3 L1371.2,783.4 L1372.1,785.3 L1373,784.6 L1373.9,784.2 L1374.8,782.9 L1375.7,784.6 L1376.6,784.9 L1377.5,783.8 L1378.4,785.2 L1379.3,785.2 L1380.2,781.2 L1381.1,780.5 L1382,780.8 L1382.9,784.1 L1383.8,782.6 L1384.7,784.9 L1385.6,785 L1386.5,783.7 L1387.4,782.3 L1388.3,783 L1389.2,783.9 L1390.1,784.2 L1391,784 L1391.9,783.8 L1392.8,783.7 L1393.7,782.9 L1394.6,781.9 L1395.5,782.8 L1396.4,780.2 L1397.3,778.3 L1398.2,782.2 L1399.1,782.6 L1400,779.1 L1400.9,779.5 L1401.8,778.8 L1402.7,782.5 L1403.6,784.1 L1404.5,782.2 L1405.4,782.8 L1406.3,782.3 L1407.2,782.2 L1408.1,779.5 L1409,779.7 L1409.9,781.4 L1410.8,782.2 L1411.7,783.7 L1412.6,774 L1413.5,774.6 L1414.4,781.5 L1415.3,782.6 L1416.2,781.6 L1417.1,781.3 L1418,781.1 L1418.9,781.8 L1419.8,781.8 L1420.7,782.5 L1421.6,782.3 L1422.5,767.9 L1423.4,768.7 L1424.3,778.4 L1425.2,775.9 L1426.1,776.4 L1427,782.3 L1427.9,767.8 L1428.8,768.7 L1429.7,778.3 L1430.6,781.8 L1431.5,780.6 L1432.4,780.1 L1433.3,783.1 L1434.2,783.1 L1435.1,781.6 L1436,782.1 L1436.9,782.2 L1437.8,782.1 L1438.7,782.7 L1439.6,774.8 L1440.5,775.3 L1441.4,781.7 L1442.3,779.7 L1443.2,776.4 L1444.1,775.7 L1445,776.2 L1445.9,782.1 L1446.8,781.1 L1447.7,776.2 L1448.6,782.1 L1449.5,782 L1450.4,779.8 L1451.3,781.5 L1452.2,778.8 L1453.1,781.1 L1454,780.2 L1454.9,777.7 L1455.8,776.6 L1456.7,779.8 L1457.6,781.4 L1458.5,779.5 L1459.4,782.6 L1460.3,777.5 L1461.2,776.7 L1462.1,780.2 L1463,781.8 L1463.9,777.5 L1464.8,782.2 L1465.7,780.9 L1466.6,773.6 L1467.5,774.2 L1468.4,781.1 L1469.3,779.1 L1470.2,782.2 L1471.1,779.8 L1472,778.9 L1472.9,780.5 L1473.8,780.9 L1474.7,781.7 L1475.6,780.4 L1476.5,778.4 L1477.4,776.7 L1478.3,778.6 L1479.2,778.5 L1480.1,778.5 L1481,779.8 L1481.9,779 L1482.8,781.1 L1483.7,781.7 L1484.6,780.8 L1485.5,780.4 L1486.4,781.1 L1487.3,780 L1488.2,777.5 L1489.1,778 L1490,780.8 L1490.9,780.1 L1491.8,778.7 L1492.7,776.9 L1493.6,780.6 L1494.5,773.3 L1495.4,773.3 L1496.3,772.3 L1497.2,776.1 L1498.1,774.9 L1499,773.4 L1499.9,774.3 L1500.8,776.3 L1500.8,792 L1499.9,792.6 L1499,791.6 L1498.1,792 L1497.2,792.9 L1496.3,792.5 L1495.4,792.4 L1494.5,791.8 L1493.6,792 L1492.7,792.7 L1491.8,792.6 L1490.9,791.3 L1490,791.7 L1489.1,791.5 L1488.2,792.7 L1487.3,792.5 L1486.4,792.7 L1485.5,792.4 L1484.6,791.9 L1483.7,792 L1482.8,791.9 L1481.9,792.2 L1481,791.7 L1480.1,792.8 L1479.2,792.6 L1478.3,791.4 L1477.4,791.9 L1476.5,792.6 L1475.6,793 L1474.7,791.6 L1473.8,792.7 L1472.9,791.8 L1472,792.2 L1471.1,792.8 L1470.2,792.9 L1469.3,792.8 L1468.4,792.3 L1467.5,792.3 L1466.6,791.4 L1465.7,791.9 L1464.8,791.7 L1463.9,792.3 L1463,793.1 L1462.1,792.6 L1461.2,792.5 L1460.3,793.1 L1459.4,791.6 L1458.5,792 L1457.6,792 L1456.7,793 L1455.8,792.6 L1454.9,791.9 L1454,791.6 L1453.1,792.6 L1452.2,792.8 L1451.3,792.2 L1450.4,792.7 L1449.5,793.1 L1448.6,791.6 L1447.7,792.8 L1446.8,792.2 L1445.9,792.8 L1445,792.3 L1444.1,791.8 L1443.2,791.7 L1442.3,792.7 L1441.4,793.1 L1440.5,791.6 L1439.6,792.2 L1438.7,793.2 L1437.8,791.9 L1436.9,792 L1436,792.4 L1435.1,792.9 L1434.2,792.9 L1433.3,792.2 L1432.4,791.9 L1431.5,792.7 L1430.6,792.2 L1429.7,792.1 L1428.8,792.7 L1427.9,792.8 L1427,793 L1426.1,793.1 L1425.2,793 L1424.3,791.7 L1423.4,792.3 L1422.5,792.8 L1421.6,793 L1420.7,791.6 L1419.8,793.3 L1418.9,792 L1418,793.4 L1417.1,793.4 L1416.2,791.9 L1415.3,792.2 L1414.4,791.9 L1413.5,793.4 L1412.6,792.2 L1411.7,792.3 L1410.8,791.9 L1409.9,792.3 L1409,792.4 L1408.1,792.7 L1407.2,792.3 L1406.3,793 L1405.4,792.7 L1404.5,792.4 L1403.6,793.2 L1402.7,793.4 L1401.8,792.4 L1400.9,793.1 L1400,792.9 L1399.1,792 L1398.2,793 L1397.3,792.2 L1396.4,792.3 L1395.5,793.4 L1394.6,793.1 L1393.7,793.6 L1392.8,792.9 L1391.9,793.1 L1391,793.5 L1390.1,792.2 L1389.2,792.9 L1388.3,792.9 L1387.4,793.3 L1386.5,793 L1385.6,793.5 L1384.7,793.4 L1383.8,793.4 L1382.9,793.1 L1382,793.8 L1381.1,792.4 L1380.2,793.3 L1379.3,793.1 L1378.4,792.4 L1377.5,793.4 L1376.6,792.3 L1375.7,792.5 L1374.8,793.9 L1373.9,794 L1373,794.1 L1372.1,793.6 L1371.2,793.8 L1370.3,794 L1369.4,793.7 L1368.5,792.3 L1367.6,794.6 L1366.7,794.5 L1365.8,796.6 L1364.9,795 L1364,797.1 L1363.1,795.9 L1362.2,795.3 L1361.3,795.5 L1360.4,796.9 L1359.5,795.2 L1358.6,796.1 L1357.7,795.5 L1356.8,794.2 L1355.9,793.8 L1355,796 L1354.1,794.2 L1353.2,796.1 L1352.3,795.5 L1351.4,792.4 L1350.5,793 L1349.6,793 L1348.7,792 L1347.8,792.4 L1346.9,792.4 L1346,793.1 L1345.1,792.3 L1344.2,793.3 L1343.3,792.6 L1342.4,792.4 L1341.5,792.7 L1340.6,792.5 L1339.7,792.2 L1338.8,793 L1337.9,792.7 L1337,792.4 L1336.1,791.8 L1335.2,792.9 L1334.3,792.4 L1333.4,792.2 L1332.5,791.9 L1331.6,793.3 L1330.7,792.9 L1329.8,792.1 L1328.9,792.8 L1328,793 L1327.1,793.5 L1326.2,793 L1325.3,792 L1324.4,791.9 L1323.5,791.5 L1322.6,792.5 L1321.7,792.4 L1320.8,792.2 L1319.9,791.5 L1319,791.9 L1318.1,792.1 L1317.2,792.6 L1316.3,792.2 L1315.4,791.9 L1314.5,792.1 L1313.6,792.1 L1312.7,792.2 L1311.8,791.5 L1310.9,792.6 L1310,792.3 L1309.1,792.5 L1308.2,792 L1307.3,792.5 L1306.4,792.3 L1305.5,791.7 L1304.6,792 L1303.7,792.3 L1302.8,791.8 L1301.9,792.3 L1301,791.6 L1300.1,791.9 L1299.2,791.9 L1298.3,792 L1297.4,792 L1296.5,792.2 L1295.6,791.7 L1294.7,791.8 L1293.8,791.5 L1292.9,791.3 L1292,791.5 L1291.1,792 L1290.2,791.2 L1289.3,791.8 L1288.4,791.3 L1287.5,791.2 L1286.6,791.1 L1285.7,791.2 L1284.8,791 L1283.9,790.9 L1283,791 L1282.1,790.7 L1281.2,790.7 L1280.3,790.6 L1279.4,791 L1278.5,790.4 L1277.6,790.6 L1276.7,790.5 L1275.8,790.7 L1274.9,790.2 L1274,790.1 L1273.1,790.4 L1272.2,790.4 L1271.3,789.8 L1270.4,789.8 L1269.5,789.8 L1268.6,789.8 L1267.7,789.4 L1266.8,789.6 L1265.9,789.6 L1265,789.6 L1264.1,789.5 L1263.2,789.3 L1262.3,789.4 L1261.4,789.2 L1260.5,789 L1259.6,789 L1258.7,788.8 L1257.8,788.8 L1256.9,788.5 L1256,788.8 L1255.1,788.4 L1254.2,788.3 L1253.3,788.3 L1252.4,788.4 L1251.5,788.4 L1250.6,788.1 L1249.7,788.3 L1248.8,788.1 L1247.9,788 L1247,788 L1246.1,787.8 L1245.2,787.8 L1244.3,787.7 L1243.4,787.8 L1242.5,787.7 L1241.6,787.5 L1240.7,787.5 L1239.8,787.4 L1238.9,787.5 L1238,787.4 L1237.1,787.2 L1236.2,787.2 L1235.3,787.2 L1234.4,787.1 L1233.5,787.1 L1232.6,787 L1231.7,786.9 L1230.8,786.9 L1229.9,786.8 L1229,786.8Z" fill="#000" stroke="#000" stroke-width="0.5" stroke-linejoin="round"/>
<path d="M99.4,730.5 L103.4,730.6 L107.4,730.6 L111.4,730.6 L115.4,730.7 L119.4,730.7 L123.4,730.7 L127.4,730.8 L131.4,730.8 L135.4,730.8 L139.4,730.9 L143.4,730.9 L147.4,730.9 L151.4,731 L155.4,731 L159.4,731 L163.4,731.1 L167.4,731.1 L171.4,731.2 L175.4,731.2 L179.4,731.3 L183.4,731.3 L187.4,731.4 L191.4,731.4 L195.4,731.4 L199.4,731.5 L203.4,731.5 L207.4,731.6 L211.4,731.6 L215.4,731.7 L219.4,731.8 L223.4,731.8 L227.4,731.9 L231.4,731.9 L235.4,732 L239.4,732 L243.4,732.1 L247.4,732.1 L251.4,732.2 L255.4,732.2 L259.4,732.3 L263.4,732.4 L267.4,732.4 L271.4,732.5 L275.4,732.5 L279.4,732.6 L283.4,732.7 L287.4,732.7 L291.4,732.8 L295.4,732.8 L299.4,732.9 L303.4,733 L307.4,733 L311.4,733.1 L315.4,733.2 L319.4,733.2 L323.4,733.3 L327.4,733.4 L331.4,733.5 L335.4,733.5 L339.4,733.6 L343.4,733.7 L347.4,733.8 L351.4,733.9 L355.4,733.9 L359.4,734 L363.4,734.1 L367.4,734.2 L371.4,734.3 L375.4,734.4 L379.4,734.5 L383.4,734.6 L387.4,734.7 L391.4,734.8 L395.4,734.9 L399.4,735 L403.4,735.1 L407.4,735.2 L411.4,735.3 L415.4,735.4 L419.4,735.5 L423.4,735.7 L427.4,735.8 L431.4,735.9 L435.4,736 L439.4,736.2 L443.4,736.3 L447.4,736.4 L451.4,736.6 L455.4,736.7 L459.4,736.8 L463.4,737 L467.4,737.1 L471.4,737.3 L475.4,737.4 L479.4,737.6 L483.4,737.8 L487.4,737.9 L491.4,738.1 L495.4,738.2 L499.4,738.4 L503.4,738.6 L507.4,738.8 L508.7,738.8" fill="none" stroke="#000" stroke-width="2.9" stroke-linejoin="round"/>
<path d="M507.2,738.7 L511.2,738.9 L515.2,739.1 L519.2,739.3 L523.2,739.5 L527.2,739.7 L531.2,739.8 L535.2,740 L539.2,740.2 L543.2,740.4 L547.2,740.6 L551.2,740.8 L555.2,741 L559.2,741.3 L563.2,741.5 L567.2,741.7 L571.2,741.9 L575.2,742.2 L579.2,742.4 L583.2,742.6 L587.2,742.9 L591.2,743.2 L595.2,743.4 L599.2,743.7 L603.2,744 L607.2,744.3 L611.2,744.5 L615.2,744.8 L619.2,745.1 L623.2,745.5 L627.2,745.8 L631.2,746.1 L635.2,746.4 L639.2,746.7 L643.2,747.1 L647.2,747.4 L651.2,747.8 L655.2,748.1 L659.2,748.5 L663.2,748.8 L667.2,749.2 L671.2,749.5 L675.2,749.9 L679.2,750.3 L683.2,750.7 L687.2,751 L691.2,751.4 L695.2,751.8 L699.2,752.2 L703.2,752.6 L707.2,753 L711.2,753.4 L715.2,753.9 L719.2,754.3 L723.2,754.8 L727.2,755.2 L731.2,755.7 L735.2,756.1 L739.2,756.6 L743.2,757.1 L747.2,757.6 L751.2,758.1 L755.2,758.6 L759.2,759.1 L763.2,759.7 L767.2,760.2 L771.2,760.7 L775.2,761.3 L779.2,761.8 L783.2,762.4 L787.2,763 L791.2,763.5 L795.2,764.1 L799.2,764.7 L803.2,765.3 L807.2,765.9 L811.2,766.5 L815.2,767.1 L819.2,767.7 L823.2,768.3 L827.2,769 L831.2,769.6 L835.2,770.2 L839.2,770.9 L843.2,771.5 L847.2,772.1 L851.2,772.8 L855.2,773.5 L859.2,774.2 L863.2,774.9 L867.2,775.6 L871.2,776.3 L875.2,777.1 L879.2,777.9 L883.2,778.6 L887.2,779.4 L891.2,780.2 L895.2,781.1 L899.2,781.9 L903.2,782.7 L907.2,783.6 L911.2,784.4 L915.2,785.3 L919.2,786.2 L923.2,787 L927.2,787.9 L931.2,788.8 L935.2,789.7 L939.2,790.6 L943.2,791.4 L947.2,792.3 L951.2,793.2 L955.2,794.1 L959.2,794.9 L963.2,795.8 L967.2,796.6 L971.2,797.5 L975.2,798.3 L979.2,799.2 L983.2,800 L987.2,800.8 L991.2,801.6 L995.2,802.4 L999.2,803.1 L1003.2,803.9 L1007.2,804.7 L1011.2,805.4 L1015.2,806.2 L1019.2,807 L1023.2,807.8 L1027.2,808.5 L1031.2,809.3 L1035.2,810.1 L1039.2,810.9 L1043.2,811.7 L1047.2,812.4 L1051.2,813.2 L1055.2,814 L1059.2,814.7 L1063.2,815.5 L1067.2,816.3 L1071.2,817 L1075.2,817.7 L1079.2,818.5 L1083.2,819.2 L1087.2,820 L1091.2,820.7 L1095.2,821.4 L1099.2,822.1 L1103.2,822.8 L1107.2,823.5 L1111.2,824.1 L1115.2,824.8 L1119.2,825.4 L1123.2,826.1 L1127.2,826.7 L1131.2,827.3 L1135.2,827.9 L1139.2,828.5 L1143.2,829.1 L1147.2,829.6 L1151.2,830.2 L1155.2,830.7 L1159.2,831.2 L1163.2,831.7 L1167.2,832.1 L1171.2,832.6 L1175.2,833 L1179.2,833.5 L1183.2,833.9 L1187.2,834.3 L1191.2,834.7 L1195.2,835.2 L1199.2,835.6 L1203.2,836 L1207.2,836.4 L1211.2,836.9 L1215.2,837.3 L1219.2,837.8 L1223.2,838.2 L1227.2,838.7 L1229.5,839" fill="none" stroke="#000" stroke-width="2.15" stroke-linejoin="round"/>
<path d="M1229,837.8 L1229.9,837.9 L1230.8,838 L1231.7,838.1 L1232.6,838.2 L1233.5,838.3 L1234.4,838.4 L1235.3,838.4 L1236.2,838.5 L1237.1,838.6 L1238,838.6 L1238.9,838.8 L1239.8,838.8 L1240.7,838.9 L1241.6,839 L1242.5,839 L1243.4,839 L1244.3,839.2 L1245.2,839.2 L1246.1,839.4 L1247,839.3 L1247.9,839.6 L1248.8,839.6 L1249.7,839.5 L1250.6,839.8 L1251.5,839.8 L1252.4,839.8 L1253.3,839.9 L1254.2,839.9 L1255.1,840 L1256,840.2 L1256.9,840.3 L1257.8,840.4 L1258.7,840.7 L1259.6,840.8 L1260.5,840.7 L1261.4,840.8 L1262.3,841 L1263.2,840.7 L1264.1,841 L1265,841.2 L1265.9,841.3 L1266.8,841.4 L1267.7,841.1 L1268.6,841.3 L1269.5,841.7 L1270.4,842 L1271.3,841.7 L1272.2,841.8 L1273.1,841.6 L1274,841.8 L1274.9,841.8 L1275.8,842 L1276.7,842.2 L1277.6,842.6 L1278.5,842.6 L1279.4,842.8 L1280.3,842.3 L1281.2,843.1 L1282.1,843.1 L1283,842.8 L1283.9,843 L1284.8,842.8 L1285.7,843.1 L1286.6,842.7 L1287.5,842.9 L1288.4,842.8 L1289.3,843.2 L1290.2,843.1 L1291.1,843.6 L1292,843.8 L1292.9,842.8 L1293.8,843.7 L1294.7,843.8 L1295.6,843.2 L1296.5,843.8 L1297.4,843 L1298.3,843.7 L1299.2,843.2 L1300.1,842.9 L1301,843.3 L1301.9,843.2 L1302.8,842.9 L1303.7,842.6 L1304.6,843.2 L1305.5,842.8 L1306.4,842.9 L1307.3,843 L1308.2,843.1 L1309.1,843.3 L1310,843.2 L1310.9,843 L1311.8,842.3 L1312.7,842.2 L1313.6,843.4 L1314.5,843.4 L1315.4,843.2 L1316.3,843 L1317.2,842.2 L1318.1,842.9 L1319,843.3 L1319.9,841.9 L1320.8,842 L1321.7,842.8 L1322.6,842.8 L1323.5,843.1 L1324.4,842.1 L1325.3,842.9 L1326.2,837.5 L1327.1,834.9 L1328,838.5 L1328.9,833.2 L1329.8,834.7 L1330.7,834 L1331.6,833.9 L1332.5,834 L1333.4,835.1 L1334.3,837.6 L1335.2,835.9 L1336.1,833.6 L1337,838 L1337.9,834.4 L1338.8,836.4 L1339.7,828.2 L1340.6,828.9 L1341.5,834 L1342.4,838.6 L1343.3,837.1 L1344.2,836 L1345.1,827.2 L1346,828 L1346.9,835.3 L1347.8,834.6 L1348.7,833.5 L1349.6,830.3 L1350.5,830.9 L1351.4,835.9 L1352.3,838.6 L1353.2,838.8 L1354.1,803 L1355,821.5 L1355.9,822.6 L1356.8,802.2 L1357.7,804 L1358.6,824.8 L1359.5,825.8 L1360.4,821 L1361.3,822.1 L1362.2,834.2 L1363.1,834.8 L1364,838.6 L1364.9,839.7 L1365.8,835.5 L1366.7,836.1 L1367.6,835.4 L1368.5,843.1 L1369.4,837.5 L1370.3,841.6 L1371.2,841.7 L1372.1,843.6 L1373,842.9 L1373.9,842.6 L1374.8,841.4 L1375.7,843.1 L1376.6,843.4 L1377.5,842.4 L1378.4,843.8 L1379.3,843.8 L1380.2,839.9 L1381.1,839.2 L1382,839.6 L1382.9,842.9 L1383.8,841.5 L1384.7,843.8 L1385.6,844 L1386.5,842.8 L1387.4,841.3 L1388.3,842.1 L1389.2,843 L1390.1,843.4 L1391,843.2 L1391.9,843.1 L1392.8,843.1 L1393.7,842.2 L1394.6,841.4 L1395.5,842.3 L1396.4,839.7 L1397.3,837.9 L1398.2,841.8 L1399.1,842.2 L1400,838.8 L1400.9,839.2 L1401.8,838.6 L1402.7,842.3 L1403.6,844 L1404.5,842.1 L1405.4,842.8 L1406.3,842.3 L1407.2,842.2 L1408.1,839.6 L1409,839.8 L1409.9,841.6 L1410.8,842.4 L1411.7,844 L1412.6,834.3 L1413.5,834.9 L1414.4,841.9 L1415.3,843.1 L1416.2,842.1 L1417.1,841.9 L1418,841.7 L1418.9,842.5 L1419.8,842.5 L1420.7,843.3 L1421.6,843.1 L1422.5,828.7 L1423.4,829.6 L1424.3,839.3 L1425.2,836.9 L1426.1,837.4 L1427,843.4 L1427.9,829 L1428.8,829.9 L1429.7,839.6 L1430.6,843.1 L1431.5,841.9 L1432.4,841.5 L1433.3,844.5 L1434.2,844.5 L1435.1,843.1 L1436,843.6 L1436.9,843.8 L1437.8,843.7 L1438.7,844.4 L1439.6,836.5 L1440.5,837.1 L1441.4,843.5 L1442.3,841.5 L1443.2,838.2 L1444.1,837.6 L1445,838.2 L1445.9,844.1 L1446.8,843.1 L1447.7,838.2 L1448.6,844.2 L1449.5,844.1 L1450.4,841.9 L1451.3,843.6 L1452.2,841 L1453.1,843.3 L1454,842.4 L1454.9,839.9 L1455.8,838.8 L1456.7,842.1 L1457.6,843.7 L1458.5,841.8 L1459.4,845 L1460.3,839.9 L1461.2,839.2 L1462.1,842.6 L1463,844.3 L1463.9,840 L1464.8,844.8 L1465.7,843.5 L1466.6,836.2 L1467.5,836.8 L1468.4,843.8 L1469.3,841.7 L1470.2,844.9 L1471.1,842.5 L1472,841.7 L1472.9,843.2 L1473.8,843.7 L1474.7,844.5 L1475.6,843.2 L1476.5,841.2 L1477.4,839.5 L1478.3,841.5 L1479.2,841.4 L1480.1,841.4 L1481,842.8 L1481.9,842 L1482.8,844.1 L1483.7,844.7 L1484.6,843.8 L1485.5,843.5 L1486.4,844.2 L1487.3,843.1 L1488.2,840.6 L1489.1,841.1 L1490,843.9 L1490.9,843.3 L1491.8,841.8 L1492.7,840.1 L1493.6,843.8 L1494.5,836.5 L1495.4,836.6 L1496.3,835.5 L1497.2,839.4 L1498.1,838.1 L1499,836.7 L1499.9,837.6 L1500.8,839.6 L1500.8,855.3 L1499.9,855.9 L1499,854.9 L1498.1,855.3 L1497.2,856.2 L1496.3,855.8 L1495.4,855.7 L1494.5,855.1 L1493.6,855.3 L1492.7,855.9 L1491.8,855.8 L1490.9,854.4 L1490,854.8 L1489.1,854.6 L1488.2,855.8 L1487.3,855.6 L1486.4,855.7 L1485.5,855.4 L1484.6,855 L1483.7,855 L1482.8,854.9 L1481.9,855.2 L1481,854.6 L1480.1,855.7 L1479.2,855.5 L1478.3,854.3 L1477.4,854.8 L1476.5,855.4 L1475.6,855.8 L1474.7,854.4 L1473.8,855.5 L1472.9,854.5 L1472,854.9 L1471.1,855.6 L1470.2,855.6 L1469.3,855.5 L1468.4,854.9 L1467.5,854.9 L1466.6,854 L1465.7,854.5 L1464.8,854.2 L1463.9,854.8 L1463,855.6 L1462.1,855 L1461.2,855 L1460.3,855.5 L1459.4,854 L1458.5,854.3 L1457.6,854.3 L1456.7,855.3 L1455.8,854.9 L1454.9,854.1 L1454,853.8 L1453.1,854.8 L1452.2,854.9 L1451.3,854.3 L1450.4,854.8 L1449.5,855.2 L1448.6,853.6 L1447.7,854.9 L1446.8,854.2 L1445.9,854.8 L1445,854.2 L1444.1,853.7 L1443.2,853.6 L1442.3,854.6 L1441.4,854.9 L1440.5,853.4 L1439.6,853.9 L1438.7,854.9 L1437.8,853.5 L1436.9,853.6 L1436,853.9 L1435.1,854.4 L1434.2,854.3 L1433.3,853.6 L1432.4,853.3 L1431.5,854.1 L1430.6,853.5 L1429.7,853.4 L1428.8,853.9 L1427.9,853.9 L1427,854.1 L1426.1,854.1 L1425.2,854 L1424.3,852.7 L1423.4,853.2 L1422.5,853.7 L1421.6,853.8 L1420.7,852.4 L1419.8,854 L1418.9,852.7 L1418,854 L1417.1,854 L1416.2,852.4 L1415.3,852.6 L1414.4,852.3 L1413.5,853.8 L1412.6,852.6 L1411.7,852.6 L1410.8,852.2 L1409.9,852.5 L1409,852.5 L1408.1,852.8 L1407.2,852.4 L1406.3,853 L1405.4,852.7 L1404.5,852.4 L1403.6,853 L1402.7,853.3 L1401.8,852.2 L1400.9,852.8 L1400,852.6 L1399.1,851.6 L1398.2,852.6 L1397.3,851.8 L1396.4,851.9 L1395.5,852.9 L1394.6,852.5 L1393.7,853 L1392.8,852.3 L1391.9,852.4 L1391,852.7 L1390.1,851.5 L1389.2,852.1 L1388.3,852 L1387.4,852.3 L1386.5,852 L1385.6,852.5 L1384.7,852.3 L1383.8,852.3 L1382.9,852 L1382,852.6 L1381.1,851.1 L1380.2,852 L1379.3,851.8 L1378.4,851 L1377.5,852 L1376.6,850.8 L1375.7,851 L1374.8,852.3 L1373.9,852.4 L1373,852.4 L1372.1,851.9 L1371.2,852.1 L1370.3,852.3 L1369.4,851.8 L1368.5,850.4 L1367.6,852.7 L1366.7,852.6 L1365.8,854.7 L1364.9,853.1 L1364,855.1 L1363.1,853.9 L1362.2,853.4 L1361.3,853.6 L1360.4,855 L1359.5,853.4 L1358.6,854.2 L1357.7,853.7 L1356.8,852.4 L1355.9,852 L1355,854.2 L1354.1,852.4 L1353.2,854.3 L1352.3,853.7 L1351.4,850.7 L1350.5,851.2 L1349.6,851.2 L1348.7,850.2 L1347.8,850.5 L1346.9,850.5 L1346,851.2 L1345.1,850.4 L1344.2,851.3 L1343.3,850.7 L1342.4,850.4 L1341.5,850.7 L1340.6,850.4 L1339.7,850.1 L1338.8,850.9 L1337.9,850.5 L1337,850.2 L1336.1,849.6 L1335.2,850.7 L1334.3,850.1 L1333.4,849.9 L1332.5,849.6 L1331.6,850.9 L1330.7,850.6 L1329.8,849.7 L1328.9,850.3 L1328,850.6 L1327.1,851 L1326.2,850.5 L1325.3,849.5 L1324.4,849.4 L1323.5,848.9 L1322.6,849.9 L1321.7,849.8 L1320.8,849.6 L1319.9,848.9 L1319,849.2 L1318.1,849.4 L1317.2,849.9 L1316.3,849.5 L1315.4,849.2 L1314.5,849.4 L1313.6,849.3 L1312.7,849.4 L1311.8,848.7 L1310.9,849.8 L1310,849.5 L1309.1,849.7 L1308.2,849.2 L1307.3,849.6 L1306.4,849.4 L1305.5,848.8 L1304.6,849.1 L1303.7,849.4 L1302.8,848.9 L1301.9,849.4 L1301,848.7 L1300.1,849 L1299.2,849 L1298.3,849.1 L1297.4,849 L1296.5,849.2 L1295.6,848.7 L1294.7,848.8 L1293.8,848.5 L1292.9,848.3 L1292,848.5 L1291.1,849 L1290.2,848.2 L1289.3,848.7 L1288.4,848.2 L1287.5,848.1 L1286.6,847.9 L1285.7,848 L1284.8,847.8 L1283.9,847.6 L1283,847.7 L1282.1,847.4 L1281.2,847.3 L1280.3,847.1 L1279.4,847.5 L1278.5,846.9 L1277.6,847 L1276.7,846.9 L1275.8,847 L1274.9,846.4 L1274,846.3 L1273.1,846.6 L1272.2,846.5 L1271.3,845.8 L1270.4,845.8 L1269.5,845.7 L1268.6,845.7 L1267.7,845.3 L1266.8,845.4 L1265.9,845.4 L1265,845.3 L1264.1,845.1 L1263.2,844.8 L1262.3,844.9 L1261.4,844.6 L1260.5,844.4 L1259.6,844.3 L1258.7,844 L1257.8,844 L1256.9,843.7 L1256,843.9 L1255.1,843.5 L1254.2,843.3 L1253.3,843.2 L1252.4,843.3 L1251.5,843.2 L1250.6,842.8 L1249.7,843 L1248.8,842.7 L1247.9,842.6 L1247,842.5 L1246.1,842.2 L1245.2,842.2 L1244.3,842.1 L1243.4,842.1 L1242.5,841.9 L1241.6,841.7 L1240.7,841.5 L1239.8,841.5 L1238.9,841.4 L1238,841.3 L1237.1,841.1 L1236.2,841 L1235.3,840.9 L1234.4,840.7 L1233.5,840.6 L1232.6,840.5 L1231.7,840.4 L1230.8,840.2 L1229.9,840.1 L1229,840Z" fill="#000" stroke="#000" stroke-width="0.5" stroke-linejoin="round"/>
</g>
<path d="M99.40,0.3v5.6M99.40,439.2v-5.6M333.81,0.3v5.6M333.81,439.2v-5.6M568.22,0.3v5.6M568.22,439.2v-5.6M802.63,0.3v5.6M802.63,439.2v-5.6M1037.04,0.3v5.6M1037.04,439.2v-5.6M1271.45,0.3v5.6M1271.45,439.2v-5.6M99.4,419.60h5.6M1500.3,419.60h-5.6M99.4,354.35h5.6M1500.3,354.35h-5.6M99.4,289.10h5.6M1500.3,289.10h-5.6M99.4,223.85h5.6M1500.3,223.85h-5.6M99.4,158.60h5.6M1500.3,158.60h-5.6M99.4,93.35h5.6M1500.3,93.35h-5.6M99.4,28.10h5.6M1500.3,28.10h-5.6M99.40,439.2v5.6M99.40,878.1v-5.6M333.81,439.2v5.6M333.81,878.1v-5.6M568.22,439.2v5.6M568.22,878.1v-5.6M802.63,439.2v5.6M802.63,878.1v-5.6M1037.04,439.2v5.6M1037.04,878.1v-5.6M1271.45,439.2v5.6M1271.45,878.1v-5.6M99.4,823.50h5.6M1500.3,823.50h-5.6M99.4,729.20h5.6M1500.3,729.20h-5.6M99.4,634.90h5.6M1500.3,634.90h-5.6M99.4,540.60h5.6M1500.3,540.60h-5.6M99.4,446.30h5.6M1500.3,446.30h-5.6" stroke="#000" stroke-width="2.5" fill="none"/>
<path d="M146.28,0.3v3M146.28,439.2v-3M193.16,0.3v3M193.16,439.2v-3M240.05,0.3v3M240.05,439.2v-3M286.93,0.3v3M286.93,439.2v-3M380.69,0.3v3M380.69,439.2v-3M427.57,0.3v3M427.57,439.2v-3M474.46,0.3v3M474.46,439.2v-3M521.34,0.3v3M521.34,439.2v-3M615.10,0.3v3M615.10,439.2v-3M661.98,0.3v3M661.98,439.2v-3M708.87,0.3v3M708.87,439.2v-3M755.75,0.3v3M755.75,439.2v-3M849.51,0.3v3M849.51,439.2v-3M896.39,0.3v3M896.39,439.2v-3M943.28,0.3v3M943.28,439.2v-3M990.16,0.3v3M990.16,439.2v-3M1083.92,0.3v3M1083.92,439.2v-3M1130.80,0.3v3M1130.80,439.2v-3M1177.69,0.3v3M1177.69,439.2v-3M1224.57,0.3v3M1224.57,439.2v-3M1318.33,0.3v3M1318.33,439.2v-3M1365.21,0.3v3M1365.21,439.2v-3M1412.10,0.3v3M1412.10,439.2v-3M1458.98,0.3v3M1458.98,439.2v-3M99.4,432.65h3M1500.3,432.65h-3M99.4,406.55h3M1500.3,406.55h-3M99.4,393.50h3M1500.3,393.50h-3M99.4,380.45h3M1500.3,380.45h-3M99.4,367.40h3M1500.3,367.40h-3M99.4,341.30h3M1500.3,341.30h-3M99.4,328.25h3M1500.3,328.25h-3M99.4,315.20h3M1500.3,315.20h-3M99.4,302.15h3M1500.3,302.15h-3M99.4,276.05h3M1500.3,276.05h-3M99.4,263.00h3M1500.3,263.00h-3M99.4,249.95h3M1500.3,249.95h-3M99.4,236.90h3M1500.3,236.90h-3M99.4,210.80h3M1500.3,210.80h-3M99.4,197.75h3M1500.3,197.75h-3M99.4,184.70h3M1500.3,184.70h-3M99.4,171.65h3M1500.3,171.65h-3M99.4,145.55h3M1500.3,145.55h-3M99.4,132.50h3M1500.3,132.50h-3M99.4,119.45h3M1500.3,119.45h-3M99.4,106.40h3M1500.3,106.40h-3M99.4,80.30h3M1500.3,80.30h-3M99.4,67.25h3M1500.3,67.25h-3M99.4,54.20h3M1500.3,54.20h-3M99.4,41.15h3M1500.3,41.15h-3M99.4,15.05h3M1500.3,15.05h-3M99.4,2.00h3M1500.3,2.00h-3M146.28,439.2v3M146.28,878.1v-3M193.16,439.2v3M193.16,878.1v-3M240.05,439.2v3M240.05,878.1v-3M286.93,439.2v3M286.93,878.1v-3M380.69,439.2v3M380.69,878.1v-3M427.57,439.2v3M427.57,878.1v-3M474.46,439.2v3M474.46,878.1v-3M521.34,439.2v3M521.34,878.1v-3M615.10,439.2v3M615.10,878.1v-3M661.98,439.2v3M661.98,878.1v-3M708.87,439.2v3M708.87,878.1v-3M755.75,439.2v3M755.75,878.1v-3M849.51,439.2v3M849.51,878.1v-3M896.39,439.2v3M896.39,878.1v-3M943.28,439.2v3M943.28,878.1v-3M990.16,439.2v3M990.16,878.1v-3M1083.92,439.2v3M1083.92,878.1v-3M1130.80,439.2v3M1130.80,878.1v-3M1177.69,439.2v3M1177.69,878.1v-3M1224.57,439.2v3M1224.57,878.1v-3M1318.33,439.2v3M1318.33,878.1v-3M1365.21,439.2v3M1365.21,878.1v-3M1412.10,439.2v3M1412.10,878.1v-3M1458.98,439.2v3M1458.98,878.1v-3M99.4,861.22h3M1500.3,861.22h-3M99.4,842.36h3M1500.3,842.36h-3M99.4,804.64h3M1500.3,804.64h-3M99.4,785.78h3M1500.3,785.78h-3M99.4,766.92h3M1500.3,766.92h-3M99.4,748.06h3M1500.3,748.06h-3M99.4,710.34h3M1500.3,710.34h-3M99.4,691.48h3M1500.3,691.48h-3M99.4,672.62h3M1500.3,672.62h-3M99.4,653.76h3M1500.3,653.76h-3M99.4,616.04h3M1500.3,616.04h-3M99.4,597.18h3M1500.3,597.18h-3M99.4,578.32h3M1500.3,578.32h-3M99.4,559.46h3M1500.3,559.46h-3M99.4,521.74h3M1500.3,521.74h-3M99.4,502.88h3M1500.3,502.88h-3M99.4,484.02h3M1500.3,484.02h-3M99.4,465.16h3M1500.3,465.16h-3" stroke="#000" stroke-width="1.7" fill="none"/>
<path d="M99.4,0.3H1500.75V878.1H99.4ZM99.4,439.2H1500.3" stroke="#000" stroke-width="1.5" fill="none" stroke-linejoin="miter"/>
<rect x="618.7" y="12.3" width="361.8" height="89.7" rx="4.5" fill="#fff" fill-opacity="0.8" stroke="#ccc" stroke-opacity="0.9" stroke-width="1.3"/>
<rect x="628" y="67" width="43" height="28.9" fill="#d3d3d3"/>
<clipPath id="lc"><rect x="628.0" y="67.0" width="43.0" height="28.9"/></clipPath>
<g clip-path="url(#lc)" stroke="#696969" fill="none">
<path d="M617.65,56.47H681.0M613.39,64.99H681.0M617.65,73.51H681.0M613.39,82.03H681.0M617.65,90.55H681.0M613.39,99.07H681.0M617.65,107.59H681.0" stroke-width="2.6" stroke-linecap="round" stroke-dasharray="0 8.52"/>
<path d="M623.0,-44.68L676.0,8.32M623.0,-10.60L676.0,42.40M623.0,23.48L676.0,76.48M623.0,57.56L676.0,110.56M623.0,91.64L676.0,144.64M623.0,125.72L676.0,178.72M623.0,4.26L676.0,-48.74M623.0,38.34L676.0,-14.66M623.0,72.42L676.0,19.42M623.0,106.50L676.0,53.50M623.0,140.58L676.0,87.58M623.0,174.66L676.0,121.66M623.0,208.74L676.0,155.74" stroke-width="1.2"/>
</g>
<clipPath id="lo"><rect x="814.7" y="67.0" width="42.3" height="28.9"/></clipPath>
<g clip-path="url(#lo)">
<rect x="814.7" y="67.0" width="42.3" height="28.9" fill="#696969"/>
<path d="M799.43,60.73H867.0M803.69,64.99H867.0M799.43,69.25H867.0M803.69,73.51H867.0M799.43,77.77H867.0M803.69,82.03H867.0M799.43,86.29H867.0M803.69,90.55H867.0M799.43,94.81H867.0M803.69,99.07H867.0M799.43,103.33H867.0" stroke="#d3d3d3" stroke-width="2.8" stroke-dasharray="2.8 5.72" fill="none"/>
<path d="M804.39,60.73H867.0M800.13,64.99H867.0M804.39,69.25H867.0M800.13,73.51H867.0M804.39,77.77H867.0M800.13,82.03H867.0M804.39,86.29H867.0M800.13,90.55H867.0M804.39,94.81H867.0M800.13,99.07H867.0M804.39,103.33H867.0" stroke="#fff" stroke-opacity="0.22" stroke-width="1.4" stroke-dasharray="1.4 7.119999999999999" fill="none"/>
</g>
<text x="719.0" y="42.4" font-family='"Liberation Sans", "DejaVu Sans", sans-serif' font-size="27.4" textLength="74" lengthAdjust="spacingAndGlyphs">Mixing</text>
<text x="803.4" y="42.4" font-family='"Liberation Sans", "DejaVu Sans", sans-serif' font-size="27.4" textLength="76.8" lengthAdjust="spacingAndGlyphs">regions</text>
<text x="692.3" y="88.3" font-family='"Liberation Sans", "DejaVu Sans", sans-serif' font-size="20.5" textLength="98.4" lengthAdjust="spacingAndGlyphs">convective</text>
<text x="878.3" y="88.3" font-family='"Liberation Sans", "DejaVu Sans", sans-serif' font-size="20.5" textLength="92.4" lengthAdjust="spacingAndGlyphs">overshoot</text>
<text transform="translate(94.7,38.2) scale(0.905,1)" text-anchor="end" font-family='"Liberation Serif", "DejaVu Serif", serif' font-size="29.8">0.30</text>
<text transform="translate(94.7,103.5) scale(0.905,1)" text-anchor="end" font-family='"Liberation Serif", "DejaVu Serif", serif' font-size="29.8">0.25</text>
<text transform="translate(94.7,168.7) scale(0.905,1)" text-anchor="end" font-family='"Liberation Serif", "DejaVu Serif", serif' font-size="29.8">0.20</text>
<text transform="translate(94.7,234.0) scale(0.905,1)" text-anchor="end" font-family='"Liberation Serif", "DejaVu Serif", serif' font-size="29.8">0.15</text>
<text transform="translate(94.7,299.2) scale(0.905,1)" text-anchor="end" font-family='"Liberation Serif", "DejaVu Serif", serif' font-size="29.8">0.10</text>
<text transform="translate(94.7,364.5) scale(0.905,1)" text-anchor="end" font-family='"Liberation Serif", "DejaVu Serif", serif' font-size="29.8">0.05</text>
<text transform="translate(94.7,429.7) scale(0.905,1)" text-anchor="end" font-family='"Liberation Serif", "DejaVu Serif", serif' font-size="29.8">0.00</text>
<text transform="translate(94.7,456.4) scale(0.905,1)" text-anchor="end" font-family='"Liberation Serif", "DejaVu Serif", serif' font-size="29.8">0.15</text>
<text transform="translate(94.7,550.7) scale(0.905,1)" text-anchor="end" font-family='"Liberation Serif", "DejaVu Serif", serif' font-size="29.8">0.10</text>
<text transform="translate(94.7,645.0) scale(0.905,1)" text-anchor="end" font-family='"Liberation Serif", "DejaVu Serif", serif' font-size="29.8">0.05</text>
<text transform="translate(94.7,739.3) scale(0.905,1)" text-anchor="end" font-family='"Liberation Serif", "DejaVu Serif", serif' font-size="29.8">0.00</text>
<text transform="translate(94.7,833.6) scale(0.905,1)" text-anchor="end" font-family='"Liberation Serif", "DejaVu Serif", serif' font-size="29.8">0.05</text>
<text x="26.9" y="835.6" font-family='"Liberation Serif", "DejaVu Serif", serif' font-size="29.8" textLength="20" lengthAdjust="spacingAndGlyphs">−</text>
<text transform="translate(99.4,903.6) scale(0.905,1)" text-anchor="middle" font-family='"Liberation Serif", "DejaVu Serif", serif' font-size="29.8">0.6</text>
<text transform="translate(333.8,903.6) scale(0.905,1)" text-anchor="middle" font-family='"Liberation Serif", "DejaVu Serif", serif' font-size="29.8">0.5</text>
<text transform="translate(568.2,903.6) scale(0.905,1)" text-anchor="middle" font-family='"Liberation Serif", "DejaVu Serif", serif' font-size="29.8">0.4</text>
<text transform="translate(802.6,903.6) scale(0.905,1)" text-anchor="middle" font-family='"Liberation Serif", "DejaVu Serif", serif' font-size="29.8">0.3</text>
<text transform="translate(1037.0,903.6) scale(0.905,1)" text-anchor="middle" font-family='"Liberation Serif", "DejaVu Serif", serif' font-size="29.8">0.2</text>
<text transform="translate(1271.5,903.6) scale(0.905,1)" text-anchor="middle" font-family='"Liberation Serif", "DejaVu Serif", serif' font-size="29.8">0.1</text>
<text x="653.2" y="938.6" font-family='"Liberation Sans", "DejaVu Sans", sans-serif' font-size="30" textLength="122.4" lengthAdjust="spacingAndGlyphs">fractional</text>
<text x="788.4" y="938.6" font-family='"Liberation Sans", "DejaVu Sans", sans-serif' font-size="30" textLength="77.6" lengthAdjust="spacingAndGlyphs">radius</text>
<text x="873.8" y="938.6" font-family='"Liberation Serif", "DejaVu Serif", serif' font-style="italic" font-size="31">r</text>
<text transform="translate(888.0,948.6) scale(1.27,1)" font-family='"Liberation Serif", "DejaVu Serif", serif' font-size="50">/</text>
<text x="909.6" y="938.6" font-family='"Liberation Serif", "DejaVu Serif", serif' font-style="italic" font-size="31.5" textLength="22.8" lengthAdjust="spacingAndGlyphs">R</text>
<text x="934.0" y="947.8" font-family='"Liberation Serif", "DejaVu Serif", serif' font-size="20.5">∗</text>
<text transform="translate(25.0,776.3) rotate(-90)" font-family='"Liberation Sans", "DejaVu Sans", sans-serif' font-size="30" textLength="65.0" lengthAdjust="spacingAndGlyphs">mass</text>
<text transform="translate(25.0,701.3) rotate(-90)" font-family='"Liberation Sans", "DejaVu Sans", sans-serif' font-size="30" textLength="137.8" lengthAdjust="spacingAndGlyphs">coordinate</text>
<text transform="translate(25.0,552.6) rotate(-90)" font-family='"Liberation Sans", "DejaVu Sans", sans-serif' font-size="30" textLength="126.6" lengthAdjust="spacingAndGlyphs">difference</text>
<text transform="translate(25.4,416.3) rotate(-90)" font-family='"Liberation Serif", "DejaVu Serif", serif' font-size="35" font-style="italic" textLength="30.0" lengthAdjust="spacingAndGlyphs">m</text>
<text transform="translate(31.0,388.3) rotate(-90)" font-family='"Liberation Serif", "DejaVu Serif", serif' font-size="23.5" textLength="65.6" lengthAdjust="spacingAndGlyphs">classic</text>
<text transform="translate(26.9,313.6) rotate(-90)" font-family='"Liberation Serif", "DejaVu Serif", serif' font-size="31" textLength="25.2" lengthAdjust="spacingAndGlyphs">−</text>
<text transform="translate(25.4,280.8) rotate(-90)" font-family='"Liberation Serif", "DejaVu Serif", serif' font-size="35" font-style="italic" textLength="30.0" lengthAdjust="spacingAndGlyphs">m</text>
<text transform="translate(25.0,240.3) rotate(-90)" font-family='"Liberation Sans", "DejaVu Sans", sans-serif' font-size="30.5" textLength="67.6" lengthAdjust="spacingAndGlyphs">(ppt)</text>
<text transform="translate(127.9,42.1) scale(0.82,1)" font-family='"Liberation Sans", "DejaVu Sans", sans-serif' font-size="28.6">a</text>
<text transform="translate(128.6,482) scale(0.85,1)" font-family='"Liberation Sans", "DejaVu Sans", sans-serif' font-size="34">b</text>
</svg>
</body></html>
